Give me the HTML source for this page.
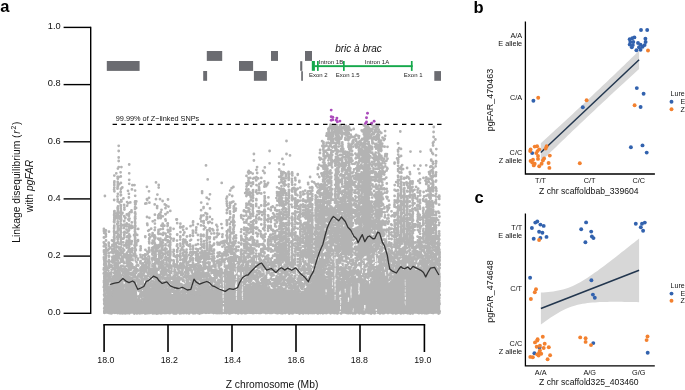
<!DOCTYPE html>
<html><head><meta charset="utf-8"><style>
html,body{margin:0;padding:0;background:#fff;}
body{width:685px;height:390px;overflow:hidden;}
svg{display:block;will-change:transform;}
text{font-family:"Liberation Sans",sans-serif;}
</style></head><body>
<svg width="685" height="390" viewBox="0 0 685 390" font-family="Liberation Sans, sans-serif">
<path d="M103.5 313.8 L103.8 288.5 L104.8 290.1 L105.8 293.7 L106.8 296.0 L107.8 295.8 L108.8 295.4 L109.8 295.2 L110.8 294.8 L111.8 294.5 L112.8 288.0 L113.8 273.2 L114.8 271.2 L115.8 270.0 L116.8 270.1 L117.8 270.1 L118.8 270.3 L119.8 270.3 L120.8 271.7 L121.8 274.9 L122.8 278.0 L123.8 284.0 L124.8 289.1 L125.8 285.1 L126.8 281.1 L127.8 278.3 L128.8 278.3 L129.8 279.9 L130.8 279.9 L131.8 279.9 L132.8 278.2 L133.8 278.2 L134.8 278.2 L135.8 278.2 L136.8 290.1 L137.8 300.4 L138.8 300.4 L139.8 300.5 L140.8 300.5 L141.8 300.5 L142.8 300.5 L143.8 296.5 L144.8 282.7 L145.8 280.1 L146.8 280.1 L147.8 280.1 L148.8 280.1 L149.8 286.1 L150.8 287.5 L151.8 287.5 L152.8 283.4 L153.8 283.4 L154.8 278.1 L155.8 273.4 L156.8 273.8 L157.8 273.8 L158.8 273.8 L159.8 273.8 L160.8 273.8 L161.8 281.1 L162.8 288.1 L163.8 288.1 L164.8 288.6 L165.8 288.6 L166.8 288.6 L167.8 288.6 L168.8 289.5 L169.8 290.6 L170.8 291.5 L171.8 293.9 L172.8 293.9 L173.8 293.9 L174.8 290.1 L175.8 290.1 L176.8 290.0 L177.8 290.0 L178.8 290.2 L179.8 291.8 L180.8 293.2 L181.8 293.3 L182.8 293.3 L183.8 293.3 L184.8 294.8 L185.8 293.5 L186.8 293.5 L187.8 293.5 L188.8 293.5 L189.8 293.1 L190.8 293.1 L191.8 293.3 L192.8 293.3 L193.8 293.9 L194.8 293.9 L195.8 293.6 L196.8 293.6 L197.8 293.6 L198.8 294.5 L199.8 280.3 L200.8 279.1 L201.8 279.1 L202.8 279.1 L203.8 278.2 L204.8 278.2 L205.8 278.2 L206.8 278.3 L207.8 280.1 L208.8 280.1 L209.8 285.5 L210.8 288.7 L211.8 288.7 L212.8 288.7 L213.8 289.4 L214.8 289.4 L215.8 289.5 L216.8 289.5 L217.8 289.1 L218.8 290.0 L219.8 290.0 L220.8 290.0 L221.8 290.0 L222.8 290.6 L223.8 292.5 L224.8 292.5 L225.8 281.8 L226.8 270.4 L227.8 270.4 L228.8 270.4 L229.8 270.6 L230.8 270.6 L231.8 271.0 L232.8 271.4 L233.8 270.2 L234.8 280.8 L235.8 291.2 L236.8 291.2 L237.8 291.2 L238.8 291.2 L239.8 290.2 L240.8 290.1 L241.8 290.1 L242.8 289.3 L243.8 288.3 L244.8 286.1 L245.8 283.9 L246.8 283.4 L247.8 283.4 L248.8 283.4 L249.8 283.4 L250.8 284.2 L251.8 285.4 L252.8 283.1 L253.8 283.1 L254.8 283.4 L255.8 283.4 L256.8 283.4 L257.8 284.5 L258.8 284.5 L259.8 284.5 L260.8 284.5 L261.8 284.5 L262.8 283.7 L263.8 283.7 L264.8 284.3 L265.8 283.2 L266.8 284.0 L267.8 286.6 L268.8 288.1 L269.8 288.3 L270.8 288.3 L271.8 288.9 L272.8 288.5 L273.8 288.5 L274.8 289.9 L275.8 289.9 L276.8 290.0 L277.8 290.1 L278.8 290.2 L279.8 288.5 L280.8 288.6 L281.8 288.6 L282.8 288.7 L283.8 289.1 L284.8 288.9 L285.8 289.2 L286.8 289.3 L287.8 289.4 L288.8 289.7 L289.8 289.4 L290.8 289.5 L291.8 289.5 L292.8 289.6 L293.8 289.8 L294.8 289.9 L295.8 290.0 L296.8 290.2 L297.8 290.3 L298.8 290.8 L299.8 292.4 L300.8 293.0 L301.8 293.1 L302.8 293.1 L303.8 292.7 L304.8 289.4 L305.8 288.0 L306.8 286.4 L307.8 285.5 L308.8 284.6 L309.8 283.7 L310.8 282.8 L311.8 282.1 L312.8 281.2 L313.8 280.3 L314.8 279.4 L315.8 279.6 L316.8 275.4 L317.8 273.7 L318.8 273.3 L319.8 273.3 L320.8 273.3 L321.8 273.6 L322.8 274.8 L323.8 276.1 L324.8 277.3 L325.8 278.2 L326.8 278.2 L327.8 278.2 L328.8 278.4 L329.8 278.5 L330.8 278.7 L331.8 279.0 L332.8 279.3 L333.8 279.6 L334.8 280.0 L335.8 280.2 L336.8 280.5 L337.8 280.7 L338.8 280.9 L339.8 281.1 L340.8 281.4 L341.8 281.6 L342.8 282.2 L343.8 282.4 L344.8 282.4 L345.8 282.7 L346.8 283.5 L347.8 283.0 L348.8 283.0 L349.8 283.0 L350.8 283.0 L351.8 283.4 L352.8 283.4 L353.8 283.4 L354.8 283.1 L355.8 283.2 L356.8 283.2 L357.8 283.2 L358.8 283.4 L359.8 283.4 L360.8 283.2 L361.8 283.2 L362.8 283.2 L363.8 283.3 L364.8 283.2 L365.8 282.5 L366.8 282.1 L367.8 282.0 L368.8 281.7 L369.8 281.3 L370.8 281.0 L371.8 280.6 L372.8 280.2 L373.8 279.8 L374.8 279.4 L375.8 279.0 L376.8 278.8 L377.8 277.8 L378.8 275.3 L379.8 273.3 L380.8 272.7 L381.8 271.1 L382.8 270.3 L383.8 270.2 L384.8 269.3 L385.8 258.3 L386.8 223.7 L387.8 261.7 L388.8 283.0 L389.8 281.4 L390.8 280.5 L391.8 279.5 L392.8 278.5 L393.8 273.0 L394.8 265.4 L395.8 264.1 L396.8 264.1 L397.8 264.1 L398.8 263.0 L399.8 263.0 L400.8 266.0 L401.8 268.5 L402.8 269.2 L403.8 269.7 L404.8 270.2 L405.8 270.1 L406.8 270.1 L407.8 270.2 L408.8 270.2 L409.8 270.2 L410.8 270.2 L411.8 270.2 L412.8 270.4 L413.8 270.4 L414.8 270.4 L415.8 270.4 L416.8 270.4 L417.8 270.0 L418.8 270.0 L419.8 270.4 L420.8 270.4 L421.8 270.4 L422.8 271.1 L423.8 271.1 L424.8 271.1 L425.8 270.0 L426.8 269.5 L427.8 269.0 L428.8 268.5 L429.8 267.2 L430.8 264.1 L431.8 263.5 L432.8 263.5 L433.8 263.5 L434.8 263.5 L435.8 264.7 L436.8 266.3 L437.8 267.7 L438.8 267.7 L440.2 267.7 L440.2 313.8 Z" fill="#b3b3b3"/>
<path d="M104.3 260.6h0M104.4 262.0h0M104.3 264.0h0M104.0 268.0h0M103.8 269.5h0M104.5 273.0h0M103.8 273.4h0M104.6 276.8h0M104.8 278.3h0M104.0 280.8h0M104.8 281.5h0M104.0 282.4h0M104.2 285.2h0M103.9 287.1h0M104.7 288.9h0M104.9 262.7h0M105.2 267.3h0M105.6 271.9h0M105.0 275.9h0M105.7 277.2h0M105.2 278.6h0M105.6 280.3h0M105.3 282.5h0M105.1 284.8h0M105.8 286.2h0M105.7 288.1h0M105.6 289.6h0M105.4 290.3h0M106.2 265.7h0M106.0 267.9h0M106.4 269.9h0M106.6 270.3h0M106.2 274.7h0M106.4 279.6h0M106.6 280.9h0M106.3 282.3h0M106.2 283.2h0M106.4 286.2h0M106.3 290.5h0M106.7 293.1h0M107.7 267.7h0M106.9 269.1h0M106.8 273.1h0M107.7 279.5h0M106.9 283.2h0M107.4 284.4h0M107.0 285.1h0M107.1 288.8h0M107.7 290.2h0M107.6 292.2h0M106.9 295.7h0M108.4 270.6h0M108.7 275.2h0M108.0 276.4h0M108.6 278.1h0M107.9 281.4h0M108.1 283.7h0M108.1 284.5h0M108.1 287.2h0M108.2 290.7h0M108.5 292.8h0M108.7 293.4h0M107.8 295.5h0M109.8 267.0h0M109.4 273.0h0M109.2 274.0h0M109.4 281.3h0M109.5 288.8h0M109.4 295.0h0M110.3 272.8h0M110.2 276.9h0M109.8 279.4h0M110.0 280.0h0M110.7 285.5h0M110.6 286.6h0M110.6 288.3h0M109.8 289.6h0M109.9 290.8h0M110.6 292.0h0M110.7 293.4h0M110.7 294.3h0M111.2 266.7h0M111.6 269.7h0M111.3 272.3h0M111.1 274.6h0M111.5 279.2h0M111.1 280.3h0M111.7 281.9h0M111.5 291.8h0M111.0 293.4h0M112.6 269.4h0M111.9 279.0h0M112.4 282.0h0M112.2 284.9h0M112.5 285.6h0M111.8 288.3h0M112.4 289.8h0M112.6 291.8h0M112.7 294.8h0M112.8 260.7h0M112.9 261.5h0M113.4 267.9h0M113.8 268.7h0M113.8 276.4h0M112.8 276.7h0M113.7 278.4h0M113.6 280.2h0M112.9 283.2h0M113.4 286.2h0M113.1 286.7h0M113.3 287.6h0M114.0 245.3h0M113.9 249.4h0M114.6 252.0h0M114.7 256.2h0M114.0 258.5h0M114.0 259.1h0M114.3 261.1h0M114.5 263.5h0M114.5 265.1h0M114.7 267.6h0M114.8 271.9h0M113.9 272.9h0M115.8 243.4h0M115.1 244.0h0M115.7 256.7h0M115.3 267.1h0M115.2 269.2h0M115.1 270.5h0M115.8 244.5h0M116.7 246.4h0M116.4 247.5h0M116.2 250.3h0M116.1 251.4h0M116.0 253.9h0M116.8 254.8h0M116.3 256.9h0M115.9 259.4h0M116.0 259.7h0M116.0 260.6h0M116.0 263.2h0M116.1 264.4h0M116.2 265.4h0M116.2 267.3h0M116.8 267.8h0M117.4 242.9h0M117.5 247.2h0M117.1 250.9h0M116.9 251.8h0M117.5 253.0h0M117.1 254.0h0M117.0 254.6h0M117.8 256.3h0M117.5 257.5h0M117.3 259.0h0M117.3 259.6h0M117.0 265.7h0M117.6 267.4h0M117.0 268.2h0M118.5 246.9h0M118.2 251.3h0M118.4 253.7h0M118.7 257.2h0M118.0 258.0h0M117.8 260.7h0M118.4 262.9h0M117.9 265.4h0M118.1 269.7h0M119.2 243.8h0M119.3 248.8h0M119.4 253.5h0M118.9 253.9h0M119.6 254.8h0M119.5 263.0h0M119.6 267.7h0M119.3 269.7h0M118.8 270.2h0M120.8 250.8h0M120.4 254.1h0M120.0 254.9h0M120.5 259.1h0M120.8 261.8h0M120.4 268.5h0M120.5 269.2h0M121.5 244.7h0M121.0 247.3h0M120.9 249.9h0M121.5 251.9h0M121.5 253.6h0M121.1 258.7h0M121.8 259.4h0M121.1 260.4h0M121.1 266.0h0M121.0 268.2h0M121.3 270.7h0M122.0 251.3h0M121.9 256.3h0M122.3 256.9h0M122.3 257.5h0M122.0 260.8h0M121.9 261.6h0M122.7 265.9h0M122.6 269.5h0M121.8 270.8h0M122.7 272.5h0M122.4 275.2h0M123.2 251.4h0M122.9 252.8h0M123.5 257.6h0M123.1 260.5h0M123.7 262.2h0M123.6 268.7h0M123.0 271.5h0M123.2 273.6h0M123.7 278.4h0M124.0 256.6h0M124.1 263.2h0M124.2 271.3h0M124.0 272.4h0M124.1 276.6h0M124.3 278.4h0M124.4 280.8h0M125.0 266.6h0M125.2 270.8h0M124.8 273.8h0M125.7 275.4h0M124.9 276.8h0M124.9 285.2h0M125.1 286.6h0M125.8 257.4h0M126.8 258.3h0M126.6 258.8h0M126.6 261.5h0M126.7 263.2h0M125.9 269.2h0M126.2 269.6h0M126.6 272.4h0M126.5 273.8h0M126.8 276.2h0M125.9 277.3h0M126.2 279.9h0M126.4 282.6h0M125.9 283.7h0M127.1 252.6h0M127.1 255.6h0M126.9 260.7h0M127.2 261.8h0M127.3 263.6h0M127.6 264.8h0M127.1 266.0h0M127.7 270.0h0M127.6 271.8h0M126.8 275.8h0M127.5 278.2h0M126.9 279.7h0M128.6 250.7h0M128.0 255.3h0M128.0 256.8h0M128.0 259.5h0M128.7 264.0h0M128.6 271.0h0M128.8 274.1h0M128.1 275.4h0M128.2 275.9h0M128.4 278.0h0M129.1 251.6h0M128.8 256.3h0M128.9 257.8h0M129.5 258.8h0M129.1 260.5h0M128.9 262.7h0M129.1 264.3h0M129.2 265.2h0M128.9 265.8h0M128.9 267.4h0M129.6 269.5h0M129.3 269.9h0M129.0 273.4h0M129.5 274.0h0M129.4 276.9h0M130.3 252.1h0M130.0 254.3h0M130.6 254.7h0M130.1 255.8h0M130.7 257.7h0M130.5 258.7h0M130.2 260.2h0M130.6 263.0h0M130.6 266.2h0M130.2 266.7h0M130.2 267.5h0M130.7 268.8h0M130.7 273.2h0M130.5 277.8h0M130.3 279.7h0M131.7 251.9h0M130.8 256.9h0M131.4 264.2h0M131.1 266.8h0M130.8 269.7h0M131.1 272.9h0M131.4 274.3h0M131.4 275.1h0M131.6 279.3h0M131.7 279.8h0M132.2 259.8h0M132.1 264.2h0M132.5 264.4h0M131.9 266.2h0M132.0 266.4h0M132.5 268.1h0M132.7 272.8h0M132.5 274.2h0M131.9 275.2h0M131.9 278.5h0M132.5 280.0h0M133.6 253.8h0M132.9 255.6h0M133.5 258.3h0M133.3 259.4h0M133.5 260.0h0M133.8 271.2h0M133.5 271.8h0M133.8 274.2h0M133.4 276.1h0M133.6 276.7h0M134.8 256.0h0M133.8 258.3h0M134.3 258.8h0M133.8 267.1h0M134.4 268.7h0M134.0 273.9h0M134.7 276.0h0M135.0 250.7h0M135.0 251.5h0M135.2 253.9h0M135.3 255.2h0M135.7 256.4h0M134.9 257.5h0M135.0 257.9h0M135.1 260.3h0M135.0 270.4h0M135.2 271.3h0M134.8 275.1h0M135.1 276.8h0M135.8 250.1h0M136.3 255.8h0M136.3 256.9h0M136.6 262.3h0M136.8 265.4h0M136.5 265.8h0M135.8 267.6h0M135.8 268.7h0M136.3 269.1h0M136.0 270.4h0M136.7 271.5h0M136.2 272.6h0M136.2 272.8h0M136.0 276.9h0M137.6 264.8h0M137.5 269.7h0M137.0 278.5h0M137.4 279.1h0M136.9 280.3h0M137.4 281.8h0M137.8 285.5h0M137.2 289.5h0M138.1 275.4h0M138.0 276.7h0M138.2 280.9h0M138.2 282.6h0M137.9 283.9h0M137.8 285.2h0M137.9 288.5h0M138.6 290.8h0M138.3 296.4h0M138.7 298.3h0M138.3 299.6h0M138.3 300.4h0M139.1 273.9h0M139.8 276.5h0M138.9 280.0h0M139.6 283.8h0M139.4 284.9h0M139.4 287.5h0M139.3 289.2h0M139.1 290.7h0M139.1 291.1h0M139.2 296.4h0M139.3 300.0h0M140.3 276.2h0M140.7 277.6h0M140.4 282.0h0M139.9 284.3h0M140.3 287.5h0M140.7 290.5h0M140.4 291.5h0M140.2 294.3h0M140.4 295.1h0M141.2 272.1h0M141.7 273.8h0M141.0 275.2h0M141.2 276.4h0M141.7 279.1h0M141.6 280.5h0M141.8 281.1h0M140.9 287.4h0M141.8 288.7h0M140.9 293.7h0M141.5 297.5h0M141.4 300.5h0M142.6 274.9h0M142.2 275.9h0M142.2 277.9h0M142.2 279.6h0M141.9 281.9h0M142.6 282.7h0M141.9 284.4h0M142.7 287.9h0M142.7 292.2h0M142.7 293.1h0M142.7 295.2h0M143.7 273.8h0M143.4 274.1h0M142.9 275.5h0M143.5 279.7h0M142.8 281.9h0M143.4 284.6h0M143.2 286.2h0M143.1 288.9h0M143.7 289.8h0M143.1 293.5h0M143.5 294.8h0M143.3 295.5h0M142.8 299.0h0M143.9 268.2h0M144.1 272.5h0M143.9 273.4h0M144.3 279.2h0M144.5 284.9h0M144.1 286.4h0M144.0 287.9h0M144.4 289.4h0M144.5 290.5h0M144.3 292.6h0M144.0 293.7h0M144.5 297.0h0M145.6 255.0h0M145.1 256.0h0M145.3 258.2h0M145.2 258.9h0M145.7 262.7h0M145.2 266.9h0M145.0 267.7h0M145.1 269.9h0M145.0 270.5h0M145.3 271.4h0M144.9 275.9h0M145.3 276.7h0M145.1 277.3h0M145.3 278.7h0M146.6 258.7h0M145.9 264.7h0M145.9 267.4h0M146.3 268.7h0M146.0 269.8h0M146.0 270.7h0M146.2 276.3h0M146.5 278.0h0M146.4 279.8h0M147.7 253.7h0M147.7 260.6h0M147.7 261.7h0M147.0 266.4h0M147.8 267.8h0M147.5 272.8h0M147.6 278.9h0M148.4 256.4h0M148.4 259.5h0M148.2 261.1h0M148.8 262.0h0M148.2 263.6h0M147.9 266.7h0M148.6 268.4h0M148.7 271.2h0M148.0 273.0h0M148.1 274.7h0M148.0 275.9h0M149.6 251.8h0M149.2 256.7h0M149.4 259.2h0M149.5 260.3h0M149.3 265.4h0M149.3 268.5h0M149.2 269.8h0M149.9 258.5h0M150.0 263.3h0M150.6 266.1h0M150.4 268.2h0M150.8 270.1h0M150.6 272.4h0M150.2 273.4h0M150.0 274.3h0M150.2 277.2h0M150.6 281.9h0M150.1 282.8h0M150.3 284.5h0M150.0 285.7h0M151.6 261.3h0M151.4 263.2h0M151.7 265.9h0M151.5 269.0h0M151.8 273.0h0M151.6 275.0h0M151.6 280.7h0M151.7 286.0h0M151.8 260.1h0M152.1 265.6h0M152.0 273.3h0M152.8 283.7h0M152.0 286.5h0M152.6 287.5h0M153.2 257.8h0M153.5 266.8h0M153.1 269.1h0M153.2 270.8h0M153.6 274.3h0M153.1 275.9h0M153.3 281.4h0M153.6 283.2h0M154.2 255.6h0M154.6 257.2h0M154.1 258.7h0M154.4 259.8h0M153.8 264.1h0M154.1 266.8h0M154.1 267.3h0M154.1 268.0h0M154.0 271.9h0M154.7 272.1h0M154.1 273.3h0M154.0 274.8h0M154.6 275.4h0M153.9 276.9h0M154.5 277.0h0M154.1 278.5h0M154.5 282.7h0M154.3 283.4h0M155.7 249.9h0M155.1 251.9h0M154.9 253.0h0M155.3 255.4h0M155.4 256.0h0M155.2 259.6h0M155.7 260.9h0M155.8 261.6h0M155.3 262.9h0M155.0 263.9h0M155.2 264.7h0M155.2 267.1h0M154.9 267.9h0M155.6 269.7h0M155.8 276.0h0M155.4 277.9h0M156.2 245.4h0M156.2 246.0h0M156.8 247.5h0M156.6 248.7h0M155.8 250.3h0M156.2 254.4h0M155.9 256.0h0M156.5 257.7h0M155.8 259.5h0M156.4 261.1h0M156.1 262.4h0M156.3 263.1h0M156.5 269.6h0M156.8 270.2h0M156.6 271.2h0M156.6 273.4h0M157.3 246.1h0M157.1 248.7h0M157.7 251.3h0M157.3 251.5h0M157.0 255.9h0M157.4 257.3h0M157.3 258.7h0M157.6 263.1h0M156.9 268.8h0M158.0 248.3h0M157.8 253.1h0M158.4 253.4h0M158.0 255.0h0M158.8 259.8h0M158.6 261.8h0M158.2 262.4h0M158.5 264.5h0M158.5 269.7h0M159.3 247.1h0M159.8 250.6h0M158.9 253.6h0M159.7 254.9h0M159.1 255.9h0M159.1 257.3h0M159.4 258.5h0M159.3 261.7h0M159.0 267.1h0M159.2 268.6h0M160.3 251.6h0M160.0 253.6h0M160.4 258.4h0M160.3 261.8h0M160.7 264.0h0M160.6 265.2h0M160.5 266.2h0M160.6 267.6h0M161.8 248.7h0M161.5 251.2h0M161.8 253.1h0M161.4 256.1h0M161.3 258.6h0M161.1 265.5h0M161.6 267.3h0M161.2 268.3h0M160.9 271.6h0M161.1 273.8h0M162.8 253.3h0M162.4 257.6h0M161.9 261.4h0M162.3 263.3h0M162.2 266.6h0M162.1 267.8h0M162.5 270.0h0M162.5 270.9h0M162.6 272.4h0M162.1 274.3h0M162.8 275.3h0M162.1 277.0h0M162.4 278.7h0M163.8 260.2h0M162.9 262.3h0M163.3 265.4h0M163.6 267.6h0M163.2 271.3h0M163.3 273.4h0M163.7 274.6h0M163.0 274.8h0M163.2 276.3h0M163.2 281.6h0M163.6 282.7h0M163.3 284.1h0M162.9 285.3h0M162.9 286.1h0M163.8 286.7h0M162.9 288.2h0M164.6 263.1h0M164.3 268.7h0M164.8 270.0h0M164.2 270.7h0M164.0 273.2h0M164.5 275.2h0M164.2 278.1h0M164.8 279.0h0M164.0 285.6h0M165.5 267.3h0M165.5 268.9h0M165.8 269.8h0M165.6 271.0h0M165.7 271.6h0M165.2 272.6h0M164.9 274.7h0M164.9 279.1h0M165.3 282.1h0M165.8 284.0h0M165.5 284.6h0M166.3 260.8h0M166.5 263.1h0M165.8 264.4h0M166.8 266.2h0M165.9 269.4h0M166.1 271.2h0M166.4 273.3h0M166.5 277.7h0M166.6 280.3h0M166.1 281.8h0M166.2 283.9h0M166.8 284.8h0M166.1 286.4h0M165.8 288.6h0M167.3 264.6h0M166.8 270.2h0M167.4 275.3h0M167.5 277.5h0M167.0 284.5h0M167.6 285.3h0M168.4 260.5h0M168.5 266.1h0M168.7 268.0h0M168.4 271.1h0M168.4 275.3h0M168.7 278.0h0M168.5 278.6h0M168.5 280.0h0M168.0 280.9h0M167.9 281.7h0M168.0 282.8h0M168.7 284.8h0M168.6 285.2h0M168.1 288.6h0M169.6 262.9h0M169.0 265.6h0M169.2 268.2h0M168.8 270.4h0M169.3 272.2h0M169.6 280.5h0M168.9 282.0h0M169.5 285.6h0M169.5 286.5h0M168.9 287.1h0M170.4 265.2h0M170.7 267.8h0M170.5 271.7h0M170.1 273.4h0M170.0 275.5h0M169.8 278.9h0M169.9 289.3h0M170.3 291.0h0M171.3 266.5h0M171.0 272.7h0M171.2 277.3h0M171.4 282.5h0M171.0 283.1h0M172.3 266.3h0M172.5 268.8h0M171.9 269.8h0M172.7 273.1h0M172.3 278.1h0M172.0 278.8h0M172.6 283.0h0M172.8 283.8h0M172.6 285.0h0M172.3 286.3h0M171.9 287.4h0M172.6 289.0h0M172.3 290.4h0M172.2 291.8h0M173.4 266.8h0M173.1 271.3h0M173.6 272.4h0M173.3 273.9h0M173.6 276.3h0M173.2 277.3h0M173.2 278.0h0M173.7 278.9h0M173.8 279.7h0M173.1 281.8h0M173.7 287.9h0M173.7 288.8h0M173.7 290.4h0M174.2 268.9h0M174.4 270.9h0M174.2 271.7h0M174.3 275.3h0M174.5 283.2h0M174.3 284.1h0M174.0 285.0h0M174.6 285.6h0M174.0 288.2h0M173.9 288.7h0M174.2 291.6h0M174.6 292.6h0M174.4 293.5h0M174.9 264.4h0M175.2 266.5h0M175.0 267.0h0M174.8 270.1h0M175.4 271.7h0M175.3 274.5h0M175.4 274.9h0M174.8 277.4h0M175.2 279.2h0M175.6 279.9h0M175.6 281.0h0M175.0 282.3h0M175.0 286.2h0M175.1 286.6h0M176.1 266.9h0M176.6 273.0h0M176.6 274.3h0M176.6 275.2h0M176.4 278.2h0M176.7 279.1h0M176.2 281.5h0M176.4 281.7h0M176.5 284.7h0M176.1 286.1h0M176.7 290.0h0M177.3 262.0h0M176.8 264.5h0M177.0 266.3h0M177.5 266.8h0M177.7 268.8h0M177.7 273.8h0M177.7 276.9h0M177.2 278.9h0M176.9 279.9h0M177.3 280.6h0M177.1 281.8h0M177.3 283.3h0M177.3 287.2h0M177.5 289.6h0M178.7 265.8h0M177.9 269.3h0M178.8 271.3h0M178.0 273.5h0M177.9 276.5h0M178.6 277.1h0M178.4 278.2h0M178.3 279.2h0M178.1 280.7h0M178.0 282.8h0M177.9 283.9h0M178.2 286.3h0M177.8 287.7h0M178.0 288.7h0M179.0 266.6h0M178.8 267.1h0M179.3 267.8h0M179.0 270.6h0M179.6 271.6h0M179.0 277.1h0M179.2 280.5h0M179.1 283.0h0M179.5 289.2h0M179.1 290.2h0M180.3 266.3h0M180.4 266.8h0M179.9 267.9h0M180.4 272.9h0M180.2 284.9h0M180.5 285.8h0M180.5 292.3h0M181.8 264.8h0M181.4 266.3h0M181.3 268.4h0M181.0 274.9h0M181.1 278.5h0M181.0 279.1h0M181.1 284.2h0M181.7 284.9h0M181.4 285.8h0M181.7 291.2h0M180.9 292.1h0M182.2 265.5h0M182.0 267.2h0M182.3 268.6h0M182.4 269.1h0M182.5 270.6h0M181.8 271.7h0M181.8 275.2h0M182.6 279.7h0M182.3 284.8h0M182.3 287.0h0M182.5 290.3h0M183.3 268.4h0M183.0 273.5h0M182.8 274.2h0M183.6 277.0h0M183.4 279.8h0M183.8 280.1h0M183.1 280.9h0M183.2 286.4h0M183.4 288.4h0M183.3 289.7h0M182.8 292.7h0M183.3 293.0h0M184.0 265.6h0M184.4 266.8h0M184.7 276.9h0M184.8 280.8h0M184.5 281.3h0M184.7 285.4h0M184.8 287.4h0M184.8 288.3h0M184.7 288.9h0M183.8 291.0h0M185.1 271.8h0M185.7 272.9h0M185.4 275.2h0M185.3 275.8h0M185.2 282.3h0M185.5 282.5h0M185.8 285.1h0M185.6 285.9h0M184.9 289.3h0M185.4 289.6h0M185.8 291.5h0M184.8 293.2h0M184.8 293.7h0M186.0 268.1h0M186.2 269.3h0M186.1 271.5h0M186.3 272.9h0M185.9 277.5h0M185.9 279.7h0M186.4 282.5h0M186.6 285.3h0M186.6 287.4h0M186.3 288.1h0M185.9 289.3h0M185.9 291.9h0M186.8 268.6h0M186.9 270.1h0M187.0 275.8h0M187.4 276.9h0M186.8 283.0h0M187.8 288.2h0M187.1 289.9h0M187.3 291.8h0M188.1 268.1h0M188.2 269.7h0M188.2 272.1h0M188.4 273.5h0M188.1 274.8h0M188.1 277.7h0M188.5 278.9h0M187.8 280.7h0M188.2 281.6h0M188.5 283.9h0M188.5 285.8h0M188.5 290.2h0M188.1 291.9h0M188.1 292.9h0M189.3 265.2h0M189.2 268.2h0M189.4 269.9h0M189.0 275.9h0M189.6 278.1h0M188.9 279.3h0M189.1 286.0h0M189.5 287.7h0M189.0 290.2h0M189.3 293.4h0M190.8 266.6h0M190.5 268.6h0M190.7 270.1h0M190.7 275.9h0M190.4 277.9h0M190.5 283.2h0M190.3 283.7h0M190.4 286.1h0M190.7 287.2h0M190.0 288.9h0M190.0 290.1h0M190.6 290.7h0M190.3 292.3h0M190.0 292.7h0M191.3 265.2h0M191.1 267.3h0M191.4 270.1h0M191.6 271.4h0M191.5 276.0h0M190.9 277.2h0M191.0 280.2h0M191.7 281.5h0M191.4 283.4h0M191.4 284.2h0M190.9 292.2h0M191.8 292.8h0M192.3 266.7h0M192.0 271.0h0M191.9 272.5h0M192.6 276.2h0M192.1 278.3h0M192.1 279.5h0M192.3 283.4h0M192.1 290.3h0M192.2 290.9h0M192.7 292.7h0M192.4 293.3h0M193.4 266.0h0M193.7 268.1h0M193.0 273.9h0M193.1 275.6h0M193.3 276.3h0M193.5 277.0h0M193.7 279.1h0M193.0 280.0h0M193.1 281.7h0M193.2 282.5h0M192.9 283.6h0M193.0 284.0h0M193.5 287.2h0M193.1 288.1h0M193.6 288.9h0M193.5 289.8h0M194.4 266.8h0M194.1 269.3h0M194.2 273.9h0M194.5 275.4h0M194.5 278.0h0M194.3 278.8h0M194.2 279.4h0M194.5 286.0h0M194.2 286.5h0M194.7 288.4h0M194.3 291.1h0M194.5 293.8h0M195.3 267.7h0M195.5 270.9h0M195.3 272.2h0M195.2 276.6h0M195.5 279.0h0M195.4 279.7h0M195.4 281.0h0M195.5 281.4h0M195.7 283.3h0M195.0 291.9h0M195.6 293.3h0M196.3 265.6h0M196.7 268.6h0M196.3 269.3h0M196.1 274.0h0M196.4 275.3h0M196.5 276.2h0M196.5 278.0h0M196.5 278.2h0M195.8 279.1h0M196.0 282.1h0M196.0 284.9h0M196.4 285.2h0M196.0 288.1h0M196.3 288.7h0M196.5 291.8h0M196.6 293.1h0M197.2 272.1h0M197.4 274.1h0M197.5 278.4h0M197.6 279.4h0M197.2 283.1h0M197.1 289.2h0M198.3 266.1h0M198.6 268.0h0M198.0 268.4h0M198.6 270.2h0M198.4 272.2h0M198.0 275.2h0M198.7 278.3h0M197.8 282.3h0M197.8 285.7h0M198.7 287.0h0M198.5 291.1h0M198.8 293.9h0M199.0 266.1h0M198.9 267.3h0M199.1 268.8h0M199.3 269.8h0M199.5 270.5h0M199.7 271.8h0M199.8 272.6h0M198.8 274.7h0M198.8 276.6h0M199.1 277.8h0M199.5 279.7h0M199.1 284.3h0M199.5 287.0h0M199.4 288.0h0M199.6 289.7h0M199.0 290.7h0M199.2 292.5h0M199.6 294.6h0M200.2 252.7h0M199.9 257.1h0M200.1 259.4h0M200.1 261.9h0M200.0 265.3h0M200.1 265.9h0M200.3 267.2h0M200.7 267.9h0M199.9 270.1h0M200.2 273.7h0M200.6 276.8h0M200.7 277.2h0M200.0 279.1h0M200.6 280.8h0M201.0 255.4h0M201.5 256.0h0M200.9 258.2h0M201.0 259.0h0M201.1 266.2h0M201.8 269.4h0M201.2 269.6h0M201.6 272.3h0M200.8 275.2h0M201.3 276.3h0M201.2 277.1h0M201.0 278.2h0M201.0 278.8h0M201.9 250.7h0M202.3 252.9h0M202.5 255.5h0M202.2 256.3h0M202.6 257.6h0M202.3 257.7h0M202.1 268.5h0M202.3 270.0h0M202.7 273.0h0M203.8 253.0h0M203.6 256.0h0M203.4 256.8h0M203.8 258.5h0M202.9 262.1h0M203.6 263.2h0M203.6 264.5h0M203.3 267.9h0M203.2 271.6h0M203.5 272.6h0M203.2 274.5h0M202.8 275.3h0M203.7 277.4h0M204.7 250.8h0M204.0 252.3h0M204.3 254.3h0M204.5 256.0h0M204.6 258.4h0M204.2 260.8h0M204.6 261.7h0M204.6 264.7h0M204.2 265.7h0M204.1 266.7h0M204.5 268.5h0M203.8 269.1h0M204.2 273.4h0M204.7 274.7h0M203.8 275.1h0M204.6 276.6h0M205.6 252.5h0M205.0 253.5h0M205.1 257.6h0M205.4 259.2h0M205.6 262.4h0M205.5 263.0h0M205.1 265.2h0M205.1 266.1h0M205.3 267.6h0M204.9 268.8h0M205.0 273.8h0M205.6 274.8h0M204.9 276.0h0M206.6 253.2h0M206.7 255.0h0M205.9 256.6h0M205.9 258.0h0M206.3 259.6h0M206.1 263.0h0M206.3 266.7h0M206.4 273.2h0M206.3 273.9h0M206.2 275.8h0M206.6 277.8h0M207.2 253.9h0M207.7 256.2h0M207.5 257.0h0M207.6 268.4h0M207.0 278.7h0M208.5 252.9h0M208.2 254.4h0M208.7 259.2h0M208.3 262.4h0M208.2 263.2h0M208.5 266.9h0M208.3 267.8h0M208.2 269.8h0M208.2 272.3h0M208.6 274.0h0M208.2 275.3h0M208.5 276.0h0M208.2 280.2h0M209.4 252.0h0M209.2 253.6h0M209.3 256.3h0M209.8 258.7h0M209.4 264.8h0M209.1 266.7h0M209.0 269.4h0M209.4 270.5h0M209.0 274.6h0M209.7 275.7h0M209.7 276.8h0M209.6 278.8h0M209.8 262.7h0M210.0 266.6h0M209.9 267.1h0M210.2 268.2h0M210.4 276.8h0M210.2 277.0h0M210.2 279.2h0M210.7 280.3h0M211.0 267.5h0M211.1 269.3h0M211.6 271.2h0M211.5 273.0h0M211.0 277.9h0M211.4 278.4h0M211.4 279.6h0M210.9 281.0h0M211.6 281.8h0M211.1 282.8h0M210.9 284.2h0M211.5 284.6h0M210.8 286.8h0M212.2 266.4h0M212.4 270.1h0M212.7 279.5h0M212.4 280.6h0M212.8 281.4h0M212.2 283.0h0M211.9 286.0h0M212.5 288.1h0M212.0 288.9h0M213.7 260.5h0M213.3 261.7h0M213.6 264.5h0M213.3 272.0h0M213.5 272.7h0M213.0 278.5h0M213.4 279.8h0M213.1 287.5h0M214.2 261.8h0M214.0 263.1h0M214.6 266.8h0M214.7 270.0h0M214.6 272.7h0M214.4 274.9h0M214.7 281.1h0M213.9 285.6h0M214.6 285.9h0M215.5 265.0h0M214.9 266.8h0M215.3 270.8h0M215.8 272.8h0M215.5 274.5h0M215.2 274.9h0M215.5 276.7h0M215.0 277.2h0M215.4 278.2h0M215.0 280.5h0M215.2 282.2h0M215.4 284.6h0M214.8 285.4h0M215.0 286.8h0M215.8 287.1h0M214.8 288.7h0M216.5 261.3h0M216.3 265.4h0M216.6 267.5h0M216.4 269.7h0M216.1 270.3h0M216.8 272.4h0M216.6 274.9h0M216.4 276.3h0M216.7 277.7h0M216.1 282.4h0M216.2 283.2h0M216.1 285.3h0M216.0 286.9h0M216.8 289.6h0M217.1 263.5h0M216.9 264.9h0M217.4 265.3h0M217.3 268.3h0M217.5 271.2h0M217.2 282.9h0M217.7 284.8h0M217.1 286.3h0M216.9 289.8h0M218.6 262.5h0M217.9 264.4h0M218.8 266.3h0M218.1 272.1h0M218.1 274.4h0M218.2 280.3h0M218.5 282.6h0M217.9 284.1h0M218.5 285.0h0M218.8 286.7h0M218.3 288.1h0M219.3 262.5h0M219.3 263.8h0M219.6 265.0h0M219.1 266.6h0M219.2 270.9h0M219.8 272.9h0M218.9 275.6h0M219.0 279.8h0M219.1 280.8h0M219.6 282.1h0M218.9 284.3h0M219.6 286.6h0M220.3 262.5h0M220.2 265.2h0M220.1 268.9h0M220.6 270.3h0M220.1 273.3h0M220.8 273.7h0M220.6 275.4h0M220.7 276.0h0M220.3 276.8h0M220.0 290.1h0M221.3 264.8h0M221.1 268.8h0M221.0 270.7h0M221.8 274.2h0M221.4 278.9h0M221.1 280.2h0M220.9 281.4h0M221.0 282.5h0M221.4 286.0h0M221.8 290.3h0M221.9 261.6h0M222.2 263.5h0M222.0 270.8h0M222.4 272.6h0M222.4 274.3h0M222.7 278.2h0M222.2 279.8h0M222.8 282.7h0M222.4 284.0h0M222.7 286.2h0M222.0 287.2h0M222.1 287.6h0M222.8 289.4h0M223.2 270.2h0M223.8 274.4h0M223.2 275.4h0M223.5 276.5h0M223.7 277.2h0M223.0 282.9h0M223.1 284.2h0M223.4 287.6h0M223.3 288.1h0M224.3 264.7h0M224.8 266.5h0M224.7 270.8h0M224.1 272.4h0M224.3 273.5h0M224.3 274.9h0M224.0 277.5h0M223.9 279.8h0M224.3 281.0h0M224.1 282.7h0M224.3 284.5h0M223.9 285.3h0M224.8 286.3h0M224.3 288.1h0M224.1 289.7h0M224.5 291.7h0M225.7 269.8h0M225.5 271.1h0M225.1 276.5h0M225.1 277.6h0M225.7 278.5h0M225.0 279.3h0M225.1 282.0h0M225.0 288.6h0M225.5 293.0h0M226.1 254.8h0M226.3 255.7h0M226.7 258.6h0M226.1 267.8h0M226.5 270.2h0M226.3 270.4h0M226.4 272.2h0M226.6 273.0h0M226.3 274.5h0M226.8 278.2h0M226.0 279.1h0M226.7 279.6h0M226.4 281.6h0M227.1 243.0h0M227.5 247.3h0M227.3 250.3h0M226.8 252.1h0M227.0 265.8h0M227.3 266.2h0M227.7 268.0h0M228.6 243.9h0M228.1 243.9h0M228.0 246.8h0M228.8 249.3h0M228.0 254.9h0M228.1 259.7h0M228.1 261.2h0M228.5 268.1h0M229.0 246.1h0M229.7 248.9h0M229.4 252.1h0M229.0 257.9h0M228.9 259.2h0M229.3 260.2h0M229.3 263.0h0M229.6 264.0h0M229.0 265.1h0M229.0 266.8h0M229.5 267.1h0M230.6 246.0h0M230.1 247.5h0M230.2 249.5h0M230.0 252.2h0M230.8 257.1h0M230.4 258.7h0M230.5 259.5h0M230.1 260.5h0M230.5 261.3h0M230.6 266.1h0M230.1 267.8h0M230.3 269.4h0M231.3 246.6h0M231.1 247.3h0M231.2 248.4h0M231.8 251.2h0M231.5 252.7h0M231.1 253.8h0M231.5 257.3h0M231.1 262.6h0M231.3 263.3h0M231.4 264.2h0M230.9 265.8h0M231.1 266.9h0M231.3 269.9h0M230.9 270.3h0M231.8 243.1h0M232.6 246.0h0M232.3 253.4h0M232.1 257.6h0M232.1 260.7h0M232.6 263.9h0M232.3 265.5h0M232.8 266.7h0M232.8 267.8h0M232.7 268.9h0M231.9 270.7h0M233.0 243.2h0M232.9 244.6h0M233.3 246.6h0M232.8 249.5h0M232.9 252.4h0M233.1 254.1h0M233.2 257.1h0M233.6 258.6h0M233.1 259.8h0M233.5 260.8h0M233.6 261.2h0M233.0 263.6h0M233.3 264.7h0M233.0 265.5h0M233.3 266.1h0M233.6 269.8h0M233.6 270.2h0M234.2 244.8h0M234.3 249.3h0M233.8 252.6h0M234.6 253.8h0M234.3 255.5h0M234.0 260.2h0M234.0 261.3h0M233.8 263.6h0M235.7 253.8h0M235.3 255.8h0M235.1 257.9h0M235.7 260.7h0M235.1 264.9h0M235.4 267.2h0M235.4 267.9h0M235.7 268.5h0M235.7 270.6h0M235.2 275.9h0M235.2 278.0h0M235.3 278.7h0M234.9 281.0h0M236.4 270.5h0M236.2 275.3h0M235.9 276.9h0M236.3 279.0h0M236.3 282.6h0M236.4 290.0h0M237.5 263.2h0M237.2 267.9h0M237.5 270.6h0M236.9 272.5h0M237.4 275.6h0M237.2 276.0h0M237.8 277.1h0M237.7 279.2h0M237.0 281.2h0M237.0 282.8h0M236.9 283.9h0M237.1 288.7h0M237.4 291.0h0M238.1 266.4h0M238.6 267.1h0M238.6 269.6h0M238.4 270.5h0M238.3 276.3h0M238.4 278.6h0M238.1 280.6h0M238.1 282.3h0M238.3 283.2h0M238.0 285.2h0M238.4 286.1h0M238.3 288.0h0M237.9 289.3h0M238.9 264.3h0M239.5 268.6h0M239.5 269.0h0M239.7 271.0h0M239.8 279.7h0M238.9 284.5h0M239.1 285.6h0M239.4 287.3h0M239.3 288.3h0M239.7 289.1h0M239.2 291.7h0M240.1 262.2h0M240.1 267.0h0M240.1 268.2h0M240.6 270.4h0M240.7 276.2h0M240.4 279.1h0M240.2 280.6h0M239.9 281.4h0M240.3 284.1h0M239.9 289.0h0M239.8 290.4h0M241.5 265.9h0M241.3 268.0h0M241.3 272.2h0M241.2 272.7h0M241.1 274.3h0M241.0 277.6h0M241.0 278.2h0M241.3 286.4h0M241.6 288.6h0M241.7 289.8h0M241.9 265.0h0M242.5 269.8h0M241.9 271.5h0M242.3 276.6h0M242.5 276.7h0M241.9 278.7h0M242.2 281.9h0M242.0 283.0h0M242.6 285.4h0M242.6 290.5h0M243.1 261.1h0M243.4 262.8h0M242.9 265.1h0M243.1 267.7h0M243.0 271.5h0M243.5 276.1h0M243.1 277.2h0M243.4 279.2h0M243.7 286.8h0M243.0 288.2h0M243.1 288.9h0M244.7 261.5h0M244.1 262.1h0M244.4 268.6h0M244.7 269.3h0M244.8 270.3h0M244.1 273.3h0M244.5 274.2h0M244.7 279.3h0M243.9 281.5h0M244.1 283.6h0M245.2 258.0h0M245.8 259.4h0M245.4 260.1h0M245.8 262.4h0M245.7 266.1h0M245.2 267.4h0M245.2 269.6h0M245.2 270.6h0M245.6 274.0h0M245.8 274.7h0M245.5 278.9h0M245.8 281.5h0M245.7 282.1h0M244.9 282.8h0M245.0 284.0h0M246.0 262.4h0M246.5 262.7h0M246.7 264.1h0M246.0 265.1h0M245.8 266.7h0M246.6 268.9h0M246.3 269.5h0M246.0 273.0h0M245.9 273.9h0M246.5 274.9h0M246.7 275.9h0M246.0 278.7h0M246.1 281.4h0M247.2 256.5h0M247.4 261.8h0M247.8 262.0h0M247.4 264.1h0M247.7 266.8h0M247.3 268.1h0M246.9 271.5h0M246.9 272.1h0M247.7 273.0h0M247.1 273.9h0M247.5 280.9h0M248.4 255.3h0M248.1 257.5h0M248.3 261.8h0M248.6 262.3h0M248.4 263.9h0M248.3 264.9h0M248.2 268.9h0M248.3 270.2h0M248.7 273.5h0M248.8 275.3h0M248.5 276.4h0M247.9 277.8h0M248.7 281.0h0M248.9 261.0h0M249.7 267.4h0M249.7 270.5h0M249.4 272.8h0M249.0 273.6h0M249.1 278.2h0M249.0 279.8h0M249.0 280.0h0M249.2 282.0h0M249.8 256.9h0M250.5 260.3h0M249.9 262.2h0M250.1 266.6h0M250.3 267.8h0M250.5 270.4h0M250.5 276.7h0M250.6 278.0h0M250.6 279.4h0M251.3 261.4h0M250.9 266.1h0M251.1 268.2h0M250.8 269.5h0M251.6 270.2h0M251.7 272.6h0M251.5 273.3h0M251.2 274.1h0M250.9 275.0h0M251.5 277.3h0M251.3 280.2h0M250.9 280.9h0M250.8 283.7h0M252.4 257.8h0M251.8 258.8h0M252.7 261.9h0M252.3 264.1h0M252.3 267.7h0M252.7 269.8h0M252.4 275.9h0M252.4 276.0h0M252.3 277.0h0M252.1 283.6h0M253.6 257.8h0M253.4 259.5h0M253.8 259.7h0M252.9 266.4h0M252.9 267.2h0M253.5 269.4h0M253.4 269.7h0M252.8 272.6h0M253.1 274.1h0M253.5 275.2h0M252.9 277.3h0M253.4 278.6h0M253.2 283.0h0M253.8 255.9h0M254.1 256.9h0M253.8 257.8h0M253.9 258.7h0M254.5 260.8h0M254.0 263.2h0M254.0 263.9h0M254.3 265.7h0M254.6 271.6h0M254.4 278.8h0M254.2 283.5h0M255.6 257.8h0M255.5 260.8h0M254.9 262.6h0M255.4 266.7h0M255.1 271.9h0M255.8 276.3h0M255.0 277.1h0M254.9 278.0h0M255.2 279.6h0M255.8 255.8h0M256.8 256.4h0M256.2 256.9h0M255.8 259.1h0M256.6 262.3h0M256.4 266.6h0M256.3 270.7h0M255.9 270.9h0M256.2 272.4h0M256.8 273.4h0M256.0 275.4h0M256.5 276.2h0M256.7 280.8h0M256.4 280.9h0M256.6 283.6h0M257.1 263.5h0M257.2 269.9h0M257.3 274.7h0M257.3 275.8h0M257.2 277.3h0M257.7 279.4h0M257.2 282.0h0M257.6 283.7h0M258.8 263.4h0M258.7 264.8h0M257.9 266.6h0M258.3 267.7h0M258.3 272.8h0M258.5 273.2h0M257.9 276.6h0M258.3 277.9h0M258.4 281.6h0M258.1 282.5h0M258.5 283.6h0M258.5 284.8h0M259.6 257.2h0M259.1 259.0h0M259.7 261.7h0M259.7 262.4h0M259.7 264.3h0M259.2 267.5h0M259.2 271.0h0M259.7 273.2h0M258.9 282.9h0M259.3 284.4h0M259.8 258.7h0M260.2 263.0h0M260.5 266.8h0M260.3 272.1h0M260.2 274.8h0M260.2 275.4h0M260.5 276.6h0M260.0 283.6h0M261.2 259.9h0M261.1 264.1h0M261.5 265.4h0M261.1 266.3h0M261.3 275.3h0M261.2 276.1h0M261.7 279.5h0M261.4 280.1h0M260.9 283.2h0M262.5 256.3h0M262.7 261.6h0M262.7 265.7h0M262.3 266.4h0M261.8 269.0h0M262.5 270.1h0M262.4 273.9h0M262.4 275.4h0M262.4 282.0h0M262.6 282.6h0M262.6 283.7h0M262.8 284.7h0M263.4 255.7h0M263.0 261.5h0M263.4 264.1h0M263.5 269.9h0M263.7 271.0h0M263.6 277.8h0M263.3 282.0h0M264.3 259.9h0M264.1 260.9h0M264.5 262.4h0M263.9 263.3h0M264.2 267.0h0M264.2 269.8h0M264.2 271.5h0M264.3 274.5h0M264.1 277.8h0M264.1 278.4h0M264.0 280.4h0M264.7 283.2h0M265.5 256.8h0M265.4 258.0h0M265.8 259.2h0M265.3 262.2h0M264.9 263.5h0M265.0 264.6h0M264.9 266.1h0M265.6 268.3h0M264.8 269.2h0M265.8 272.4h0M265.0 277.2h0M265.8 278.3h0M265.0 279.1h0M265.1 281.7h0M265.7 282.2h0M266.1 263.8h0M266.7 265.3h0M266.3 266.1h0M266.1 275.3h0M266.1 277.5h0M266.0 280.7h0M266.3 282.5h0M266.4 283.6h0M267.2 255.8h0M267.3 258.9h0M267.4 266.1h0M267.7 267.5h0M267.7 270.4h0M267.1 272.4h0M266.9 273.4h0M267.1 279.8h0M267.3 281.5h0M267.4 284.4h0M268.4 258.6h0M268.5 259.6h0M268.0 260.8h0M267.9 262.3h0M268.1 269.5h0M268.1 270.4h0M268.7 272.8h0M268.5 283.4h0M268.4 284.5h0M269.7 262.6h0M269.1 265.0h0M269.8 268.5h0M268.8 271.4h0M269.0 280.1h0M269.0 287.4h0M269.8 268.8h0M270.4 273.7h0M270.5 274.6h0M270.0 282.0h0M271.6 263.7h0M271.5 265.0h0M271.4 267.1h0M271.0 270.0h0M271.5 273.2h0M271.3 274.2h0M271.0 275.0h0M271.7 276.1h0M270.9 278.5h0M270.9 283.6h0M271.0 284.0h0M271.9 262.1h0M272.4 263.8h0M272.1 264.8h0M272.1 265.5h0M272.2 269.3h0M272.0 274.9h0M272.2 279.8h0M272.3 283.7h0M272.0 285.8h0M273.1 262.3h0M273.2 263.4h0M273.8 266.0h0M273.3 267.3h0M273.5 269.7h0M273.7 272.4h0M273.7 275.3h0M272.8 279.7h0M273.8 282.9h0M273.6 285.8h0M273.5 287.1h0M274.7 260.6h0M274.8 261.4h0M273.9 265.6h0M274.0 279.4h0M274.6 280.9h0M274.5 285.8h0M274.6 287.3h0M274.7 288.7h0M275.0 263.5h0M275.4 269.6h0M275.2 271.2h0M274.9 271.7h0M274.9 280.3h0M275.1 284.1h0M274.9 284.5h0M274.8 290.0h0M276.7 261.6h0M276.1 263.1h0M275.8 266.4h0M276.3 270.8h0M276.8 271.8h0M276.6 276.2h0M276.2 278.3h0M276.5 281.0h0M276.0 281.9h0M276.7 282.7h0M276.6 283.5h0M276.2 290.4h0M277.4 261.6h0M277.7 272.6h0M277.3 277.6h0M276.9 279.6h0M277.5 281.4h0M277.7 282.9h0M277.0 284.5h0M277.2 285.4h0M277.0 286.2h0M277.1 289.5h0M277.2 290.2h0M278.5 262.2h0M277.8 262.9h0M278.6 264.9h0M278.7 267.8h0M278.8 270.5h0M277.9 271.4h0M278.1 273.7h0M278.4 277.4h0M277.9 278.4h0M278.4 283.0h0M278.2 284.2h0M278.4 287.1h0M278.6 288.0h0M278.1 289.7h0M279.3 265.3h0M278.9 265.9h0M279.8 268.3h0M279.7 270.4h0M279.5 274.5h0M278.9 277.0h0M279.1 279.0h0M279.2 279.9h0M279.3 280.8h0M279.4 283.3h0M279.4 288.5h0M280.2 261.6h0M280.3 263.8h0M280.7 264.5h0M280.0 268.4h0M280.1 273.9h0M279.9 274.4h0M280.5 276.3h0M280.7 277.2h0M280.2 279.5h0M280.4 281.1h0M280.7 286.8h0M280.9 263.5h0M281.0 269.8h0M281.7 271.1h0M281.8 273.6h0M281.6 276.0h0M280.9 277.5h0M281.4 279.0h0M281.1 280.4h0M281.5 283.7h0M280.9 284.4h0M281.5 285.5h0M281.7 288.0h0M282.1 267.0h0M281.9 270.0h0M282.1 271.2h0M282.0 272.2h0M281.8 278.0h0M282.8 283.0h0M282.0 283.3h0M282.4 288.3h0M282.9 262.0h0M283.5 266.9h0M283.2 269.3h0M283.8 279.7h0M283.8 281.6h0M283.4 285.1h0M283.0 289.1h0M284.7 264.6h0M284.7 271.5h0M283.9 272.5h0M284.6 273.6h0M284.0 276.7h0M284.5 278.5h0M284.1 279.1h0M284.0 280.0h0M283.9 280.7h0M283.8 281.9h0M284.7 283.2h0M285.6 261.8h0M285.3 265.1h0M285.2 265.9h0M285.6 266.6h0M285.6 269.4h0M285.6 271.0h0M285.7 276.1h0M285.6 276.6h0M285.7 280.1h0M284.9 285.1h0M285.5 288.4h0M286.7 263.0h0M286.2 265.2h0M286.0 271.5h0M286.3 275.2h0M286.3 275.8h0M286.1 284.6h0M285.9 285.1h0M286.5 286.7h0M287.3 261.4h0M287.6 264.5h0M286.9 269.6h0M287.5 272.3h0M287.2 273.7h0M287.7 274.4h0M287.5 279.4h0M287.4 281.0h0M287.5 283.3h0M287.4 286.4h0M288.4 263.1h0M287.9 267.1h0M288.4 278.4h0M287.9 279.8h0M287.8 281.0h0M289.3 264.5h0M289.2 269.8h0M289.4 270.5h0M289.1 274.6h0M289.2 275.5h0M289.6 278.0h0M289.0 278.8h0M289.7 280.7h0M289.8 282.4h0M289.6 283.3h0M289.3 285.2h0M289.0 288.3h0M289.9 265.4h0M289.8 269.1h0M290.5 271.8h0M289.9 276.1h0M290.5 277.5h0M290.2 277.9h0M290.4 280.0h0M290.4 286.5h0M291.2 262.7h0M291.2 263.3h0M291.5 265.5h0M291.6 266.9h0M290.8 272.6h0M291.6 277.5h0M291.2 278.8h0M291.0 280.4h0M291.2 282.5h0M291.2 285.2h0M291.6 286.3h0M291.7 287.2h0M291.4 288.9h0M292.1 263.8h0M292.7 264.2h0M292.2 266.9h0M292.6 267.0h0M292.7 270.9h0M291.8 275.4h0M292.2 278.6h0M292.4 286.9h0M291.8 288.9h0M293.7 262.9h0M293.1 265.0h0M293.6 268.5h0M293.3 272.6h0M293.3 279.1h0M293.3 279.4h0M293.3 281.0h0M293.6 283.3h0M293.7 285.3h0M293.5 286.9h0M293.3 288.0h0M294.2 261.8h0M293.8 263.2h0M294.4 267.9h0M294.4 271.3h0M294.3 271.7h0M294.7 276.2h0M294.6 276.8h0M294.6 278.3h0M294.3 280.8h0M294.6 288.5h0M295.7 262.9h0M295.2 264.4h0M295.0 270.7h0M295.6 273.3h0M295.2 281.2h0M295.6 284.2h0M295.1 284.8h0M295.0 289.7h0M296.2 264.4h0M296.5 265.0h0M296.0 268.4h0M295.9 269.5h0M296.5 270.6h0M296.6 282.7h0M296.3 283.6h0M296.7 286.4h0M295.8 287.1h0M296.6 289.6h0M296.9 265.0h0M297.1 268.9h0M297.1 270.6h0M297.0 275.3h0M297.0 276.6h0M297.6 277.7h0M297.6 279.6h0M297.7 283.1h0M297.5 288.0h0M297.5 289.2h0M298.0 265.4h0M298.3 265.9h0M298.7 267.4h0M297.9 269.8h0M298.2 272.4h0M298.0 280.7h0M298.7 282.6h0M298.2 283.3h0M297.9 286.3h0M297.9 288.3h0M297.8 289.5h0M299.2 264.6h0M299.5 269.2h0M299.8 275.7h0M298.8 276.5h0M299.1 279.2h0M299.1 281.0h0M299.0 282.2h0M299.0 282.4h0M299.6 283.5h0M299.5 285.3h0M299.3 290.3h0M300.8 263.9h0M300.0 266.4h0M300.4 269.3h0M300.3 274.0h0M300.0 276.2h0M300.7 276.9h0M300.6 277.9h0M300.4 280.0h0M300.4 281.4h0M300.8 282.8h0M300.7 287.7h0M300.1 291.6h0M301.2 270.6h0M301.0 274.8h0M300.9 283.5h0M300.8 283.9h0M301.4 286.8h0M302.2 268.3h0M302.1 279.1h0M302.1 279.8h0M302.1 283.5h0M302.6 283.6h0M301.9 285.9h0M301.8 287.0h0M302.0 288.3h0M302.2 289.1h0M302.1 292.4h0M302.9 266.3h0M303.0 267.1h0M303.4 270.3h0M303.2 273.6h0M303.1 278.0h0M303.6 279.0h0M303.5 286.7h0M303.7 292.0h0M304.5 265.0h0M304.5 266.9h0M303.8 268.4h0M304.2 270.4h0M304.7 271.7h0M304.4 274.0h0M304.7 276.5h0M304.6 277.5h0M304.7 280.6h0M303.9 284.3h0M303.8 286.2h0M304.7 291.4h0M305.7 261.5h0M305.5 263.1h0M304.9 268.6h0M305.6 270.1h0M305.2 273.2h0M305.3 276.4h0M304.9 278.9h0M305.8 279.9h0M305.3 282.2h0M304.8 289.2h0M306.4 269.8h0M306.8 273.1h0M305.9 276.6h0M305.8 278.8h0M306.1 281.7h0M306.0 283.0h0M306.6 285.1h0M307.4 260.4h0M307.8 264.0h0M307.2 265.0h0M307.5 268.4h0M306.9 269.1h0M307.4 270.2h0M307.8 274.0h0M307.6 279.2h0M307.3 281.8h0M307.6 285.5h0M308.6 259.4h0M308.6 265.3h0M308.5 267.0h0M307.9 267.2h0M308.1 269.3h0M308.5 273.6h0M308.2 279.3h0M308.2 280.7h0M308.0 281.8h0M307.9 284.7h0M308.5 285.6h0M308.9 260.0h0M309.1 261.1h0M309.2 262.7h0M308.8 264.1h0M308.9 264.7h0M309.8 267.0h0M309.5 267.7h0M309.0 270.1h0M309.1 271.0h0M309.0 272.8h0M309.2 277.3h0M309.8 280.3h0M309.7 282.2h0M309.1 284.8h0M310.5 256.0h0M310.3 258.7h0M310.6 260.0h0M310.5 260.9h0M310.5 266.1h0M310.6 266.4h0M310.6 272.7h0M310.2 274.8h0M310.7 276.2h0M310.5 278.2h0M310.5 278.6h0M310.1 280.0h0M310.7 281.5h0M311.3 254.8h0M311.4 257.5h0M311.5 258.5h0M311.5 261.7h0M310.8 265.9h0M311.1 269.1h0M310.9 270.6h0M311.0 272.0h0M311.2 276.1h0M311.0 277.8h0M311.6 280.1h0M311.6 280.9h0M311.8 254.6h0M312.2 256.5h0M312.6 260.3h0M311.9 262.7h0M312.3 273.7h0M312.1 275.1h0M312.5 277.5h0M312.0 278.5h0M312.6 280.5h0M312.8 256.0h0M313.5 258.3h0M313.2 259.9h0M313.5 261.1h0M313.8 266.6h0M313.3 267.2h0M313.2 272.1h0M313.1 272.9h0M313.1 275.9h0M313.3 277.2h0M313.1 280.9h0M313.8 251.8h0M314.3 255.1h0M314.6 256.3h0M313.8 257.7h0M314.0 258.7h0M314.6 261.4h0M314.5 262.2h0M314.5 263.7h0M314.0 271.4h0M314.5 272.5h0M314.7 275.5h0M314.1 277.6h0M314.6 278.8h0M315.7 252.5h0M315.7 253.5h0M315.2 254.3h0M315.0 261.2h0M314.9 263.0h0M315.3 267.8h0M315.7 268.9h0M315.0 271.4h0M315.3 272.3h0M315.5 273.0h0M315.5 275.6h0M315.8 276.1h0M315.5 277.8h0M315.1 279.2h0M316.0 252.9h0M316.0 257.1h0M316.2 260.3h0M316.7 263.7h0M316.8 273.1h0M316.8 273.7h0M316.3 274.8h0M316.5 275.9h0M316.5 277.9h0M316.6 279.4h0M317.7 247.5h0M317.3 250.6h0M316.9 251.1h0M317.5 252.9h0M317.7 255.3h0M317.0 256.1h0M316.9 257.7h0M317.0 262.9h0M317.3 264.0h0M316.9 266.3h0M317.7 267.5h0M316.9 270.1h0M316.9 272.0h0M317.0 274.2h0M317.0 275.4h0M318.1 246.0h0M318.7 247.0h0M318.0 250.4h0M318.4 254.0h0M318.6 256.7h0M318.0 259.8h0M318.2 260.6h0M318.1 262.6h0M317.8 263.9h0M317.8 265.8h0M317.8 268.0h0M317.8 271.1h0M318.0 272.2h0M317.9 273.9h0M319.4 248.1h0M319.6 249.0h0M319.0 253.7h0M319.0 255.3h0M318.9 255.8h0M319.2 258.9h0M319.0 261.6h0M319.4 263.0h0M319.4 265.4h0M318.8 266.2h0M319.0 267.5h0M319.6 268.8h0M319.1 270.6h0M319.0 270.9h0M319.4 272.5h0M320.6 244.9h0M320.1 247.2h0M319.9 253.1h0M320.1 259.1h0M320.7 260.4h0M320.4 264.0h0M320.1 266.7h0M320.0 268.3h0M320.3 271.2h0M320.4 272.0h0M320.9 249.3h0M321.6 250.1h0M321.6 251.7h0M320.9 255.2h0M320.9 259.6h0M321.6 262.3h0M321.3 266.6h0M321.4 267.4h0M321.2 268.8h0M321.0 270.8h0M320.8 272.7h0M321.2 273.1h0M322.3 250.3h0M322.3 253.7h0M322.7 254.3h0M322.4 255.1h0M322.5 257.0h0M322.2 257.4h0M322.8 261.8h0M322.4 262.9h0M322.5 264.0h0M322.7 265.3h0M322.5 269.7h0M321.8 271.7h0M321.9 272.1h0M322.9 246.4h0M323.3 249.0h0M322.9 250.1h0M323.4 254.2h0M323.7 255.0h0M323.1 259.4h0M323.8 260.4h0M323.5 261.6h0M323.7 266.2h0M323.1 266.6h0M322.9 273.0h0M323.1 275.2h0M324.2 260.2h0M324.2 265.0h0M324.1 268.3h0M324.1 269.0h0M323.9 269.6h0M323.9 271.0h0M324.2 272.7h0M324.1 275.4h0M325.5 253.0h0M325.5 254.9h0M325.5 260.6h0M324.9 262.5h0M325.7 263.6h0M325.0 264.1h0M325.3 265.2h0M324.8 268.4h0M325.6 269.1h0M325.0 269.8h0M325.3 272.4h0M325.0 277.7h0M326.7 253.5h0M326.0 256.2h0M326.5 257.4h0M326.2 259.4h0M326.3 261.1h0M326.2 266.0h0M325.9 268.6h0M326.2 272.6h0M326.0 277.2h0M327.2 250.2h0M327.5 252.5h0M327.0 255.8h0M326.9 258.4h0M327.2 259.8h0M327.7 261.4h0M327.6 263.1h0M327.4 272.2h0M327.2 274.0h0M328.8 252.7h0M328.4 258.5h0M328.1 258.9h0M328.5 260.5h0M328.1 261.4h0M328.2 265.0h0M328.5 268.5h0M328.1 269.2h0M328.3 271.5h0M328.5 272.3h0M328.5 273.2h0M327.9 274.3h0M328.7 276.1h0M327.8 277.1h0M329.1 251.7h0M329.3 252.0h0M329.0 254.4h0M329.2 256.2h0M329.1 261.7h0M329.6 265.3h0M329.1 267.9h0M328.9 270.6h0M329.4 273.5h0M329.1 274.2h0M329.1 277.8h0M329.8 278.5h0M330.1 252.8h0M330.4 256.0h0M330.0 257.3h0M330.4 262.8h0M330.1 267.9h0M330.5 268.3h0M329.8 269.5h0M330.2 271.9h0M330.6 274.5h0M330.2 277.1h0M330.8 251.6h0M331.1 259.6h0M331.6 262.7h0M331.6 273.1h0M331.2 276.1h0M332.0 250.8h0M332.1 254.3h0M332.7 254.6h0M332.8 260.9h0M332.5 266.1h0M331.9 266.5h0M331.9 268.8h0M332.5 272.9h0M332.0 275.0h0M332.1 278.3h0M333.6 252.3h0M333.7 257.2h0M332.8 264.6h0M333.4 269.8h0M333.5 274.3h0M332.9 275.5h0M333.0 276.0h0M333.1 278.0h0M333.2 279.1h0M334.0 254.0h0M334.0 256.9h0M334.0 257.9h0M334.3 258.6h0M334.6 260.2h0M334.1 263.2h0M334.0 265.4h0M334.1 267.7h0M334.1 269.6h0M334.3 271.4h0M334.7 272.3h0M334.7 274.2h0M334.2 275.9h0M334.3 276.4h0M334.4 278.1h0M335.7 253.3h0M335.2 255.3h0M334.9 256.8h0M335.3 259.8h0M335.0 263.2h0M335.3 265.1h0M335.8 268.9h0M335.6 269.9h0M335.4 271.7h0M335.3 272.9h0M335.7 275.0h0M335.7 276.5h0M335.9 252.7h0M336.5 253.0h0M336.4 261.4h0M336.1 262.1h0M336.8 267.2h0M336.4 269.5h0M336.2 272.8h0M336.5 274.6h0M336.5 275.6h0M336.6 275.9h0M337.7 252.6h0M337.1 253.6h0M337.7 259.9h0M337.6 263.8h0M337.6 268.5h0M337.7 269.4h0M337.6 270.5h0M337.6 272.4h0M337.7 273.2h0M336.8 276.6h0M337.2 277.8h0M337.0 280.6h0M338.2 253.6h0M337.8 255.9h0M338.3 262.2h0M338.5 263.0h0M337.9 266.2h0M338.2 266.8h0M338.2 268.9h0M337.8 270.7h0M338.2 272.0h0M337.9 273.5h0M338.6 280.6h0M339.1 255.4h0M339.5 257.2h0M339.3 258.2h0M339.1 259.0h0M339.7 259.8h0M339.7 261.0h0M339.4 263.0h0M339.5 269.6h0M339.1 272.9h0M339.6 274.8h0M339.5 275.4h0M339.5 277.2h0M339.0 279.3h0M340.7 258.6h0M340.2 260.1h0M340.0 261.2h0M340.2 262.6h0M340.3 268.4h0M340.7 275.8h0M341.2 254.2h0M341.2 255.0h0M341.2 258.2h0M341.3 259.9h0M341.0 260.6h0M340.9 267.4h0M341.7 268.3h0M341.5 270.2h0M341.4 272.5h0M341.3 279.1h0M341.8 279.9h0M341.1 281.6h0M342.1 257.2h0M342.3 258.5h0M342.2 259.9h0M342.3 260.6h0M342.6 264.0h0M342.1 267.9h0M342.4 268.5h0M341.9 269.6h0M342.6 270.8h0M342.6 271.9h0M342.0 273.8h0M342.3 278.9h0M342.1 281.1h0M342.0 281.3h0M343.2 253.9h0M343.1 265.1h0M343.3 270.9h0M343.7 275.0h0M343.0 276.1h0M343.7 277.3h0M343.4 279.1h0M343.0 280.6h0M343.0 281.1h0M343.4 281.9h0M344.3 256.8h0M344.5 260.6h0M344.4 261.3h0M344.2 265.2h0M344.4 266.2h0M344.5 269.7h0M344.7 271.7h0M344.4 273.1h0M344.6 274.3h0M344.3 279.5h0M343.9 281.7h0M345.8 254.8h0M345.7 255.8h0M345.5 266.6h0M344.9 268.2h0M345.5 270.2h0M345.7 275.6h0M344.8 276.6h0M345.0 279.1h0M345.0 282.1h0M346.0 256.1h0M346.0 257.9h0M346.4 259.2h0M346.2 260.9h0M346.4 261.6h0M345.9 265.2h0M346.0 267.7h0M346.1 271.9h0M346.4 274.8h0M346.3 275.5h0M346.4 277.1h0M346.7 278.0h0M346.0 282.4h0M347.5 257.6h0M347.2 261.8h0M347.1 265.4h0M347.0 271.6h0M347.8 272.7h0M347.1 273.3h0M347.5 275.5h0M347.3 276.0h0M346.8 277.2h0M347.0 280.2h0M347.2 282.6h0M348.2 258.2h0M348.2 263.8h0M348.3 268.4h0M348.6 272.4h0M348.6 273.1h0M348.7 275.6h0M347.8 277.1h0M348.4 279.3h0M348.8 280.3h0M348.8 281.7h0M349.2 258.7h0M349.4 262.6h0M349.2 267.2h0M349.4 267.7h0M348.9 271.9h0M349.7 273.1h0M349.1 274.6h0M348.9 275.9h0M349.8 279.8h0M349.2 281.5h0M350.3 261.0h0M350.6 267.7h0M349.9 269.9h0M350.1 274.9h0M349.8 278.5h0M350.7 282.4h0M350.4 282.8h0M351.3 256.8h0M351.7 259.8h0M351.4 264.2h0M351.8 265.3h0M351.6 270.7h0M351.5 271.7h0M351.7 272.7h0M351.3 275.4h0M351.7 276.0h0M351.7 276.9h0M351.4 277.7h0M351.4 279.4h0M351.4 281.4h0M351.6 282.1h0M352.0 255.1h0M352.5 262.1h0M352.2 264.5h0M352.7 270.8h0M352.6 275.8h0M352.0 275.9h0M352.5 279.2h0M351.8 282.0h0M353.0 259.7h0M353.3 260.5h0M353.5 262.9h0M353.6 268.1h0M353.6 269.6h0M353.7 271.6h0M353.5 272.5h0M353.2 273.4h0M353.5 276.6h0M353.5 277.8h0M353.7 277.9h0M353.4 280.6h0M352.9 281.7h0M353.7 282.5h0M353.1 283.8h0M354.7 265.2h0M354.7 270.5h0M354.2 272.1h0M354.0 273.8h0M354.0 279.3h0M354.4 281.2h0M354.4 282.1h0M355.6 258.2h0M355.7 263.5h0M355.3 264.7h0M355.0 266.8h0M355.1 268.2h0M355.8 270.6h0M355.2 272.6h0M354.9 277.0h0M355.0 278.2h0M355.3 280.5h0M355.7 281.2h0M355.2 283.1h0M356.7 258.2h0M356.2 260.8h0M356.1 261.8h0M355.9 265.2h0M355.8 267.0h0M355.9 271.4h0M356.5 273.2h0M356.8 274.3h0M356.0 279.5h0M355.9 281.0h0M356.6 282.8h0M357.4 255.5h0M357.3 257.2h0M356.9 260.6h0M357.2 265.1h0M356.9 271.7h0M356.8 274.4h0M357.4 281.1h0M358.0 255.6h0M357.8 256.9h0M358.1 260.1h0M358.6 265.2h0M357.9 270.1h0M358.4 270.9h0M358.1 271.8h0M357.8 275.1h0M358.4 278.6h0M357.9 279.2h0M358.0 282.0h0M359.0 256.5h0M359.7 257.8h0M359.7 258.8h0M359.2 263.3h0M359.3 272.1h0M359.3 273.3h0M359.2 274.2h0M359.4 276.7h0M359.4 277.7h0M359.1 281.4h0M359.8 282.3h0M360.3 263.2h0M359.9 264.2h0M360.3 265.1h0M360.8 266.1h0M360.0 271.9h0M360.3 273.3h0M359.9 275.5h0M360.4 277.1h0M360.2 279.5h0M360.4 281.5h0M360.0 282.8h0M361.3 256.0h0M360.8 259.5h0M361.6 260.7h0M361.4 261.9h0M361.1 263.4h0M361.2 264.6h0M360.9 266.0h0M361.0 266.7h0M361.5 269.1h0M361.3 271.4h0M361.7 279.2h0M360.9 280.4h0M362.0 257.4h0M362.3 262.3h0M362.7 262.7h0M362.3 270.9h0M362.2 272.2h0M361.8 276.3h0M362.5 280.6h0M361.8 282.7h0M363.1 256.2h0M363.6 262.2h0M363.8 263.8h0M362.9 269.7h0M363.4 274.6h0M363.4 275.6h0M363.4 280.7h0M364.1 259.6h0M364.7 264.8h0M364.5 267.2h0M364.2 271.2h0M363.9 273.7h0M364.6 273.9h0M364.8 277.3h0M364.4 278.1h0M364.8 279.5h0M364.0 281.4h0M364.1 282.4h0M363.9 283.0h0M364.8 269.9h0M365.4 274.3h0M365.3 277.3h0M366.8 255.2h0M366.6 259.2h0M366.8 265.5h0M366.3 266.3h0M366.2 276.0h0M366.2 281.3h0M367.1 256.9h0M367.5 259.5h0M367.2 263.7h0M367.8 269.7h0M367.0 273.8h0M367.4 277.5h0M366.9 282.4h0M368.4 256.7h0M367.8 258.8h0M368.4 262.3h0M368.1 263.3h0M368.4 269.5h0M368.2 270.0h0M368.4 271.7h0M368.1 273.5h0M368.7 276.0h0M368.3 276.9h0M368.4 278.1h0M368.0 281.8h0M369.3 255.5h0M369.7 258.0h0M369.2 260.2h0M369.7 263.9h0M369.1 266.5h0M368.9 267.5h0M369.8 272.2h0M369.5 272.5h0M369.8 274.7h0M369.2 278.9h0M369.6 280.0h0M370.8 255.7h0M369.8 259.2h0M369.9 261.6h0M370.6 264.5h0M370.4 268.6h0M370.1 271.1h0M370.7 273.2h0M370.0 274.5h0M370.2 275.5h0M370.3 275.9h0M370.4 280.1h0M371.4 257.9h0M371.4 260.3h0M371.8 261.0h0M370.9 263.1h0M371.4 266.8h0M371.0 267.7h0M371.4 268.8h0M370.9 269.7h0M371.3 275.4h0M371.7 275.9h0M371.1 279.8h0M370.9 280.6h0M372.7 254.5h0M372.2 257.0h0M372.3 261.6h0M372.7 265.1h0M371.8 268.4h0M372.3 272.6h0M372.1 274.0h0M372.1 274.9h0M372.6 275.7h0M372.4 276.4h0M372.6 277.7h0M372.0 279.3h0M373.4 254.3h0M373.1 255.1h0M373.3 256.9h0M373.6 267.0h0M373.8 270.3h0M373.7 271.9h0M373.7 273.6h0M373.6 274.7h0M373.4 275.6h0M373.5 276.3h0M374.6 251.8h0M374.6 253.1h0M373.9 256.2h0M374.6 258.4h0M374.4 260.4h0M373.9 266.8h0M374.0 268.7h0M374.2 272.0h0M374.2 273.4h0M374.4 275.1h0M374.3 277.8h0M374.5 279.8h0M375.1 251.8h0M374.9 253.4h0M374.9 258.6h0M375.8 259.8h0M374.9 263.9h0M375.4 270.3h0M375.6 271.1h0M375.1 274.5h0M375.3 275.8h0M375.1 276.3h0M374.9 277.4h0M376.0 252.2h0M376.2 257.2h0M376.6 262.2h0M376.3 265.9h0M376.4 267.5h0M376.0 272.5h0M376.3 274.1h0M376.4 276.1h0M376.5 277.9h0M376.9 255.0h0M377.3 255.9h0M377.5 259.1h0M377.7 260.8h0M377.2 266.7h0M377.1 267.5h0M377.3 269.6h0M377.6 271.7h0M377.6 272.7h0M377.8 275.2h0M377.7 275.7h0M377.3 277.5h0M378.8 252.6h0M378.0 256.7h0M378.4 260.3h0M377.9 266.6h0M378.7 267.5h0M378.8 269.7h0M378.5 271.3h0M378.4 273.4h0M377.9 275.6h0M378.6 276.5h0M378.0 277.5h0M379.1 252.1h0M379.4 257.9h0M379.5 259.5h0M379.2 261.9h0M379.0 265.6h0M379.1 269.0h0M379.7 273.6h0M378.9 274.6h0M379.4 275.5h0M379.8 246.3h0M380.0 249.3h0M380.2 249.8h0M380.3 253.3h0M380.3 256.2h0M380.7 259.3h0M380.6 261.1h0M379.9 262.5h0M380.7 263.1h0M380.0 263.9h0M380.7 265.4h0M380.1 266.8h0M380.5 270.4h0M380.2 271.2h0M381.7 247.6h0M381.6 250.0h0M381.2 250.5h0M381.6 253.7h0M381.1 255.3h0M381.1 257.6h0M381.6 259.0h0M381.1 259.9h0M381.2 261.5h0M381.7 263.4h0M380.9 264.2h0M381.6 266.1h0M381.2 267.8h0M381.0 273.1h0M382.4 244.6h0M381.9 246.8h0M382.2 248.1h0M382.3 250.0h0M382.0 250.7h0M382.3 257.0h0M381.9 258.3h0M382.7 258.7h0M382.0 263.7h0M382.4 266.1h0M381.9 267.3h0M382.5 268.7h0M383.3 253.7h0M383.4 256.6h0M383.2 257.6h0M382.8 258.4h0M383.1 260.2h0M383.7 263.8h0M383.2 264.3h0M383.8 265.3h0M382.9 268.1h0M383.1 269.6h0M382.9 270.5h0M384.1 243.2h0M384.6 247.7h0M384.6 253.3h0M383.8 253.8h0M383.9 255.6h0M383.9 256.6h0M384.7 257.1h0M384.3 258.4h0M384.4 261.2h0M383.9 263.5h0M383.9 263.7h0M385.0 240.8h0M385.0 243.2h0M385.6 244.5h0M385.1 245.4h0M385.3 246.1h0M385.1 248.4h0M385.5 249.0h0M385.4 252.4h0M384.9 254.7h0M385.7 256.0h0M385.4 259.9h0M385.4 263.9h0M385.5 264.9h0M385.3 265.9h0M386.4 230.5h0M386.5 231.6h0M386.1 241.9h0M386.6 244.3h0M386.1 245.1h0M386.7 246.3h0M385.9 254.0h0M385.8 255.6h0M387.5 197.2h0M387.2 198.5h0M387.2 206.2h0M387.3 207.6h0M387.7 209.1h0M387.8 209.8h0M387.1 211.6h0M387.1 218.6h0M387.4 223.6h0M388.5 235.9h0M388.6 245.3h0M388.5 246.2h0M388.2 252.7h0M388.1 254.1h0M388.4 255.9h0M388.5 257.0h0M388.6 257.7h0M387.9 259.7h0M389.0 255.7h0M389.1 258.0h0M389.7 259.6h0M389.5 263.5h0M389.0 266.4h0M389.0 267.0h0M389.0 268.8h0M388.8 274.9h0M389.0 279.9h0M390.3 254.6h0M390.7 258.0h0M389.9 261.5h0M390.1 264.9h0M389.9 268.4h0M389.9 273.7h0M390.6 274.3h0M390.5 275.6h0M390.3 277.7h0M390.7 279.0h0M391.3 256.1h0M391.2 259.7h0M391.6 265.6h0M391.4 267.2h0M390.9 271.1h0M391.3 273.4h0M391.0 275.0h0M390.8 276.6h0M391.5 277.9h0M391.2 278.5h0M392.0 253.4h0M392.7 257.7h0M391.9 258.6h0M392.5 261.8h0M392.0 265.1h0M392.2 270.0h0M392.5 271.2h0M391.9 276.5h0M392.4 277.1h0M392.9 252.7h0M393.4 253.3h0M393.6 257.7h0M393.7 261.6h0M393.0 263.8h0M392.9 267.9h0M392.9 268.6h0M393.6 270.3h0M393.3 273.0h0M393.8 276.7h0M393.8 244.6h0M394.6 245.6h0M394.3 246.9h0M394.2 252.6h0M393.9 254.5h0M394.7 255.6h0M394.4 257.2h0M394.2 258.4h0M394.1 260.0h0M394.4 261.0h0M394.4 262.7h0M393.9 264.5h0M394.0 266.0h0M394.7 272.3h0M393.9 272.7h0M395.2 237.2h0M395.4 244.0h0M394.8 245.7h0M395.1 246.6h0M395.5 251.2h0M395.3 254.5h0M395.5 256.0h0M395.1 258.0h0M395.1 261.4h0M395.4 262.3h0M395.0 263.3h0M395.9 236.0h0M395.9 237.1h0M396.5 243.5h0M396.5 244.5h0M396.0 246.3h0M396.3 248.4h0M396.0 249.7h0M396.7 257.4h0M397.1 236.0h0M397.3 239.3h0M397.6 240.1h0M397.0 240.6h0M397.2 242.5h0M396.9 247.7h0M397.2 251.7h0M397.4 253.0h0M396.9 253.8h0M397.3 255.7h0M397.4 256.7h0M397.7 258.5h0M397.7 259.0h0M396.9 262.1h0M397.2 263.5h0M397.4 264.5h0M398.3 239.8h0M397.9 242.0h0M397.9 243.2h0M398.3 245.6h0M398.5 248.1h0M398.6 259.7h0M398.4 261.5h0M399.5 235.4h0M399.5 238.2h0M398.9 242.0h0M399.6 245.9h0M398.8 247.4h0M399.1 247.7h0M399.7 249.6h0M399.4 250.7h0M399.7 252.6h0M399.4 254.4h0M399.6 263.5h0M400.0 236.9h0M399.9 237.5h0M399.8 240.8h0M400.2 243.2h0M400.7 243.7h0M400.0 245.4h0M399.8 248.9h0M400.0 251.0h0M400.3 252.8h0M400.5 255.0h0M400.2 257.6h0M400.3 261.2h0M401.7 239.9h0M401.4 241.0h0M401.5 242.0h0M401.0 243.2h0M401.6 250.3h0M401.2 251.3h0M400.9 251.8h0M401.7 261.0h0M401.0 262.1h0M401.4 262.5h0M402.7 240.1h0M402.7 241.1h0M401.8 243.7h0M402.5 248.7h0M402.1 249.2h0M401.9 253.6h0M402.7 256.1h0M402.7 257.4h0M402.1 262.7h0M402.0 265.0h0M401.9 265.5h0M402.5 266.6h0M401.9 267.8h0M403.2 241.1h0M403.3 247.9h0M403.0 249.0h0M403.4 251.1h0M402.9 252.5h0M402.9 254.4h0M403.1 258.8h0M403.5 261.2h0M403.3 263.8h0M403.6 266.1h0M403.3 267.9h0M404.7 243.9h0M404.8 247.0h0M404.4 249.2h0M404.2 251.0h0M403.9 253.2h0M404.1 255.3h0M403.8 258.0h0M404.5 258.6h0M404.3 259.8h0M403.8 260.7h0M404.5 263.2h0M405.3 241.9h0M405.7 243.4h0M405.0 244.8h0M405.6 246.4h0M405.2 249.5h0M405.4 256.9h0M405.3 261.1h0M405.5 261.9h0M405.4 264.2h0M404.9 265.9h0M405.0 269.5h0M406.0 242.8h0M406.0 252.0h0M406.6 253.1h0M405.9 255.8h0M406.8 257.6h0M406.1 257.7h0M406.6 259.3h0M406.7 260.3h0M406.4 261.6h0M406.5 262.7h0M406.7 264.0h0M406.4 265.4h0M406.8 266.4h0M405.9 266.6h0M406.1 268.3h0M406.8 270.0h0M407.7 243.0h0M407.2 244.3h0M407.8 244.6h0M407.2 247.9h0M407.8 251.5h0M407.7 256.6h0M407.3 258.0h0M407.5 259.8h0M407.1 261.0h0M407.7 263.5h0M408.6 244.8h0M408.6 259.7h0M408.4 261.3h0M408.5 262.7h0M408.3 267.1h0M409.3 242.6h0M409.2 243.4h0M409.2 246.6h0M408.9 247.2h0M408.8 250.7h0M409.7 254.2h0M409.1 256.0h0M409.1 257.5h0M408.9 260.7h0M408.8 260.7h0M408.8 262.4h0M409.0 266.1h0M409.0 266.8h0M409.2 269.6h0M410.7 243.7h0M410.5 245.6h0M410.5 246.1h0M410.1 249.7h0M410.3 253.0h0M410.2 254.7h0M410.3 256.1h0M410.2 257.1h0M409.9 258.7h0M410.4 258.7h0M409.9 262.4h0M410.1 262.8h0M409.9 264.2h0M410.8 266.2h0M410.5 270.5h0M411.3 242.2h0M411.2 245.2h0M411.2 254.5h0M411.5 259.6h0M411.6 260.3h0M411.4 261.1h0M411.2 262.2h0M411.7 263.4h0M411.0 264.2h0M411.5 265.3h0M411.2 269.8h0M412.7 245.7h0M411.9 247.5h0M412.7 251.5h0M412.7 254.4h0M412.5 257.5h0M412.7 261.6h0M412.4 262.9h0M412.2 264.2h0M412.1 265.0h0M412.4 266.7h0M412.0 268.5h0M413.4 242.1h0M413.2 244.3h0M413.1 246.7h0M413.6 249.0h0M413.5 251.0h0M413.8 252.9h0M413.5 253.2h0M413.5 257.2h0M413.2 259.6h0M413.2 260.8h0M413.1 263.3h0M413.0 264.9h0M413.5 270.3h0M413.8 242.8h0M414.5 249.5h0M414.5 254.8h0M414.6 257.4h0M414.4 258.5h0M414.7 263.8h0M414.6 265.3h0M414.0 267.1h0M414.7 268.2h0M413.8 269.8h0M413.9 270.4h0M415.8 242.5h0M415.1 247.1h0M415.3 250.0h0M415.5 251.9h0M415.0 252.0h0M415.1 253.3h0M415.5 255.1h0M415.7 259.4h0M415.1 263.1h0M415.7 267.6h0M416.7 245.5h0M416.1 248.1h0M416.4 260.6h0M416.3 263.0h0M416.5 267.8h0M416.6 270.8h0M417.7 242.5h0M417.6 245.7h0M417.7 247.1h0M417.2 251.5h0M417.5 252.8h0M417.4 253.4h0M417.2 254.3h0M416.8 255.6h0M417.4 256.2h0M417.7 257.3h0M417.1 258.5h0M417.2 259.1h0M417.6 267.8h0M418.3 242.0h0M418.8 243.2h0M418.6 245.9h0M417.9 253.4h0M418.5 256.5h0M417.8 256.9h0M418.3 258.2h0M418.4 264.2h0M418.4 265.5h0M418.0 267.0h0M418.5 270.5h0M419.7 243.4h0M419.3 244.4h0M419.1 247.4h0M419.0 252.0h0M419.3 253.1h0M419.0 254.0h0M419.1 255.1h0M419.1 255.6h0M419.2 257.6h0M419.2 263.5h0M419.1 268.6h0M419.2 270.4h0M420.5 241.9h0M420.7 245.1h0M420.6 246.4h0M420.1 248.3h0M420.0 249.0h0M420.0 252.5h0M420.4 254.2h0M420.3 256.5h0M420.3 260.6h0M420.5 261.7h0M419.9 262.1h0M420.3 263.8h0M420.6 264.1h0M420.7 267.6h0M421.6 242.6h0M421.6 244.7h0M421.8 246.5h0M421.6 248.3h0M421.7 250.9h0M420.9 252.8h0M421.3 254.6h0M421.0 257.7h0M421.4 260.4h0M421.0 262.4h0M421.6 264.0h0M421.1 269.3h0M420.9 270.6h0M422.0 242.2h0M422.0 247.6h0M422.6 250.2h0M422.4 256.5h0M421.9 257.3h0M422.7 258.7h0M422.6 262.9h0M421.9 264.9h0M422.6 266.3h0M422.6 269.5h0M422.9 256.0h0M423.5 256.6h0M423.1 259.2h0M423.3 259.9h0M423.2 261.7h0M423.4 264.3h0M423.7 265.2h0M423.6 268.6h0M423.1 271.5h0M423.9 245.8h0M424.3 247.9h0M423.9 250.2h0M424.3 252.1h0M424.7 259.1h0M424.2 260.9h0M424.3 264.2h0M423.8 266.2h0M424.2 266.9h0M424.5 269.1h0M424.1 271.0h0M425.4 245.7h0M424.8 253.0h0M425.4 255.1h0M425.4 258.6h0M425.8 260.6h0M425.4 261.4h0M425.1 261.6h0M425.1 263.4h0M425.0 263.6h0M425.0 265.4h0M425.5 267.9h0M425.2 268.9h0M425.2 269.8h0M426.0 242.6h0M426.0 247.9h0M426.3 257.0h0M426.7 260.9h0M426.0 262.1h0M426.1 264.9h0M426.8 266.9h0M426.0 267.7h0M426.7 270.0h0M427.4 243.3h0M427.2 245.9h0M427.8 247.3h0M427.1 248.1h0M427.5 249.5h0M427.0 250.9h0M426.8 253.6h0M426.9 254.6h0M427.4 261.5h0M427.1 262.9h0M427.2 263.5h0M427.5 265.4h0M427.4 266.3h0M427.3 267.2h0M427.6 269.7h0M428.0 242.6h0M428.2 244.3h0M428.0 246.2h0M427.9 247.5h0M427.8 248.2h0M428.6 248.6h0M428.3 250.2h0M428.4 251.5h0M428.4 251.9h0M428.0 253.8h0M428.4 256.6h0M427.9 258.5h0M428.7 262.6h0M428.2 267.0h0M427.9 268.5h0M428.3 269.5h0M428.9 242.4h0M429.3 245.7h0M429.5 248.2h0M429.2 249.8h0M428.8 256.2h0M429.4 257.3h0M428.8 259.7h0M429.0 262.3h0M429.1 268.4h0M430.4 243.7h0M430.8 247.6h0M430.1 247.8h0M430.1 250.3h0M429.8 250.7h0M430.0 252.1h0M429.8 253.3h0M430.5 255.5h0M430.4 256.0h0M430.0 257.8h0M429.9 260.6h0M430.2 261.5h0M430.3 262.3h0M430.3 264.8h0M430.6 265.9h0M431.4 239.7h0M431.2 241.6h0M430.9 243.4h0M431.5 250.7h0M431.2 253.1h0M431.4 254.7h0M431.5 256.7h0M431.2 263.1h0M432.5 236.1h0M432.1 237.1h0M432.7 239.8h0M432.1 243.7h0M431.8 244.1h0M432.1 245.1h0M432.5 247.8h0M432.6 250.3h0M432.8 253.2h0M431.9 256.9h0M432.3 258.0h0M432.4 259.3h0M432.0 260.5h0M433.5 237.5h0M433.2 239.0h0M433.4 241.4h0M433.3 246.0h0M433.1 247.3h0M433.0 256.7h0M433.3 259.5h0M433.1 262.5h0M433.2 263.2h0M434.5 235.8h0M434.3 238.3h0M434.7 241.3h0M433.9 242.8h0M434.6 245.2h0M434.5 246.5h0M434.2 249.8h0M434.6 250.6h0M434.0 254.7h0M434.4 263.9h0M435.5 235.3h0M435.3 238.7h0M435.2 240.1h0M434.9 241.0h0M434.9 242.0h0M434.8 243.9h0M435.2 247.6h0M435.6 248.3h0M435.5 249.8h0M435.2 254.0h0M435.2 256.6h0M435.2 257.5h0M435.6 258.4h0M435.3 259.5h0M435.7 260.5h0M435.3 262.5h0M435.7 263.5h0M436.0 236.7h0M436.6 238.5h0M436.7 247.1h0M436.6 250.0h0M436.0 250.6h0M436.1 251.5h0M436.8 253.2h0M435.8 254.4h0M436.0 255.9h0M436.1 258.2h0M436.1 259.5h0M436.0 261.5h0M436.5 264.3h0M437.2 238.5h0M437.5 238.8h0M437.2 243.0h0M437.5 244.5h0M437.1 247.2h0M437.7 248.7h0M437.5 250.7h0M437.8 251.6h0M436.9 252.1h0M437.1 254.6h0M437.1 259.1h0M437.2 260.2h0M437.5 261.3h0M436.9 262.7h0M436.9 263.4h0M437.4 264.6h0M438.6 241.3h0M438.4 243.0h0M438.2 245.5h0M438.8 254.3h0M438.6 258.7h0M438.3 260.2h0M438.4 265.0h0M439.4 243.4h0M439.0 245.2h0M438.8 247.9h0M439.1 249.5h0M439.3 252.0h0M438.9 254.0h0M439.5 257.4h0M439.2 259.6h0M439.3 261.0h0M438.9 261.3h0M439.6 264.4h0" stroke="#b3b3b3" stroke-width="2.8" stroke-linecap="round" fill="none"/>
<g stroke="#fafafa" fill="none"><path d="M133.9 257.0V258.4M134.2 258.4V259.7M133.9 262.1V264.6M157.5 254.8V257.1M249.4 266.1V266.5M284.1 260.4V261.5M340.7 300.3V303.4M369.7 281.0V283.0M385.4 272.0V273.8M405.4 296.8V299.6M223.2 228.0V229.4M223.1 237.4V238.4M223.3 247.9V251.0M223.5 253.5V254.7M223.3 282.0V284.6M223.1 293.1V294.3M223.1 294.8V298.3M236.3 281.5V284.5M236.6 291.0V292.7M236.3 292.7V296.1M242.6 277.4V280.8M242.3 293.2V296.4M217.0 249.3V250.6M217.4 258.5V261.4M212.1 245.0V246.4M212.0 252.6V255.8M296.8 231.1V233.4M296.8 270.0V272.4M296.6 280.1V281.0M307.1 220.8V223.8M307.1 244.9V247.6M307.2 249.1V250.4M334.9 272.5V274.2M172.8 240.0V243.0M172.9 259.7V262.1M151.1 250.0V253.2M150.8 259.3V260.8M349.6 193.6V195.3M349.7 199.2V200.0M355.5 163.7V166.8M355.4 193.9V196.1" stroke-width="1.0"/><path d="M134.2 260.2V262.1M134.1 267.1V267.1M165.3 259.4V261.7M185.1 278.7V280.4M249.8 262.7V265.1M255.5 258.2V260.8M284.3 261.5V263.3M296.0 265.4V267.9M318.0 258.6V260.6M344.1 266.5V267.1M345.3 290.6V292.6M350.9 289.4V292.6M350.9 298.8V299.1M362.6 263.2V264.3M362.5 269.6V272.9M375.7 251.4V253.8M377.4 258.3V261.4M389.4 266.8V267.9M223.3 240.9V244.4M223.2 274.2V276.2M223.5 284.6V286.8M236.3 265.3V267.2M236.6 270.4V273.2M236.4 296.6V300.0M242.5 272.0V274.9M242.6 296.9V298.7M217.1 245.2V248.3M217.3 250.6V252.7M297.0 238.5V241.3M296.8 253.5V255.7M307.2 231.7V234.4M307.2 243.6V244.9M335.2 263.0V266.4M335.2 287.5V290.3M334.9 299.7V300.0M172.9 269.3V270.9M150.8 267.4V268.0M355.4 142.4V145.1M355.6 150.7V153.5M355.4 156.8V159.0M355.4 167.8V169.6M355.2 177.6V179.6" stroke-width="0.8"/><path d="M157.3 252.1V254.3M325.9 293.8V294.3M332.3 277.2V278.2M332.4 287.0V288.4M339.7 291.7V294.7M340.3 298.5V299.8M340.5 306.1V309.5M340.3 313.1V313.3M351.2 286.5V289.4M358.9 286.7V289.9M362.4 265.8V268.1M369.6 283.5V284.1M223.5 246.7V247.9M223.4 268.4V271.7M223.3 299.3V300.5M236.3 239.9V241.6M236.2 241.6V244.6M236.4 252.0V254.4M236.2 278.8V280.0M242.3 288.9V291.3M242.6 299.2V300.0M217.2 253.2V255.4M217.3 269.7V270.0M296.7 241.8V244.8M296.8 258.2V261.4M297.0 267.0V270.0M296.8 272.4V274.5M307.0 223.8V226.8M306.9 226.8V229.2M306.8 229.2V230.7M335.0 257.0V260.5M334.9 260.5V263.0M335.1 267.9V270.2M334.8 274.2V275.4M173.0 249.2V252.0M173.1 254.5V255.8M173.2 263.1V266.0M173.2 266.5V269.3M172.9 271.9V275.0M151.0 256.3V259.3M349.6 179.1V181.4M349.5 183.5V185.1M355.5 183.5V185.4M355.6 186.4V188.4" stroke-width="0.9"/><path d="M157.4 257.1V258.1M164.9 262.7V263.3M265.3 273.3V274.5M340.7 296.9V298.0M348.5 297.6V300.8M359.2 291.2V293.3M358.9 293.3V294.6M364.3 309.5V310.3M369.4 278.4V280.0M375.2 255.3V257.0M376.5 312.3V313.3M223.3 230.4V231.8M223.5 259.2V261.3M223.5 277.2V280.5M223.4 287.8V290.5M223.4 306.6V309.6M223.3 310.6V313.5M236.3 238.0V239.9M236.6 244.6V246.0M236.6 248.5V251.5M236.4 284.5V286.9M236.3 286.9V290.0M297.0 225.0V226.1M297.0 275.5V277.6M307.2 239.0V242.1M306.8 250.4V253.3M307.1 261.4V262.0M333.7 165.0V167.5M333.4 195.2V197.1M333.6 197.1V200.4M333.7 203.5V205.0M349.5 192.6V193.6M349.7 195.3V197.1" stroke-width="1.2"/><path d="M185.4 280.9V282.8M332.7 279.7V281.7M339.7 297.2V299.8M340.4 290.6V293.0M340.5 303.9V305.1M344.1 256.9V259.8M353.4 308.3V310.0M353.1 310.0V312.2M352.9 312.7V313.3M377.2 261.9V264.1M377.2 264.1V265.2M387.3 222.3V224.6M387.2 227.1V229.1M387.4 230.1V231.8M389.3 265.4V266.8M405.2 279.5V281.1M405.2 281.6V284.5M405.3 284.5V285.8M405.4 287.3V288.3M405.3 289.3V291.8M405.2 292.8V295.8M405.1 301.1V303.6M405.5 303.6V304.7M405.4 305.2V305.4M242.4 274.9V277.4M242.4 283.3V285.3M217.0 255.9V258.0M217.1 263.9V266.4M212.1 248.9V251.6M212.1 259.6V262.3M334.8 253.5V255.5M335.1 276.9V279.9M335.0 290.3V292.2M335.1 296.7V299.7M172.8 243.5V245.2M173.0 258.3V259.7M151.1 254.2V255.3M151.2 260.8V264.1M150.8 264.1V267.4M355.2 140.0V142.4M355.6 147.6V150.7M355.4 160.5V163.7M355.3 171.0V174.2M355.3 174.7V177.6M355.6 181.1V183.5M355.3 190.9V193.4" stroke-width="0.6"/><path d="M265.1 269.8V272.8M326.1 289.4V290.7M364.8 305.1V308.5M407.4 263.6V266.1M138.7 248.7V250.7M333.4 178.9V181.9M333.5 186.7V187.8M333.6 188.3V189.7M333.5 192.4V195.2M349.4 177.0V179.1" stroke-width="1.4"/><path d="M296.0 267.9V268.8M332.5 282.2V285.5M340.6 293.0V294.4M344.3 262.3V264.0M344.2 264.0V266.0M351.1 295.6V297.8M358.7 265.9V267.6M358.7 267.6V268.9M366.2 255.7V258.1M223.4 244.4V246.7M223.5 255.2V258.2M236.2 268.2V270.4M242.6 286.3V288.9M242.7 291.8V293.2M217.3 242.8V245.2M212.0 255.8V257.1M212.1 263.3V265.0M296.9 228.4V229.6M306.9 255.8V258.7M335.0 250.0V253.0M334.8 275.4V276.4M172.9 246.7V249.2M355.2 169.6V171.0M355.4 197.6V200.0" stroke-width="0.7"/><path d="M318.1 256.6V258.6M340.2 311.0V313.1M345.2 288.8V290.6M348.3 301.3V302.1M351.0 292.6V295.6M359.1 283.5V286.7M223.3 232.3V233.5M223.2 233.5V236.9M223.1 262.8V265.9M223.2 290.5V293.1M223.5 303.0V304.1M236.5 256.9V259.6M236.5 260.1V262.8M236.6 275.7V278.3M217.0 240.0V241.8M217.2 266.4V268.7M296.8 227.1V228.4M296.6 234.4V237.0M297.0 244.8V248.1M296.7 261.4V264.5M307.1 215.0V217.0M307.2 218.0V219.3M306.9 260.3V261.4M335.1 270.2V272.5M334.9 279.9V282.5M335.0 283.5V286.5M335.1 294.7V296.2M333.5 169.0V170.7M333.3 189.7V191.1M349.7 181.4V182.5M355.4 153.5V155.3" stroke-width="1.1"/><path d="M326.2 290.7V292.3M358.9 289.9V291.2M375.5 257.0V260.0M375.7 260.0V261.9M375.5 262.9V266.0M376.3 309.0V310.8M385.6 274.3V275.4M138.7 236.0V237.1M138.9 254.1V255.1M296.6 250.6V253.5M307.1 236.9V239.0M307.1 258.7V260.3M333.7 175.0V177.4M333.4 183.7V186.2M333.6 200.9V203.5M349.4 188.5V191.1M349.7 197.1V199.2" stroke-width="1.3"/><path d="M139.1 238.6V242.0M139.0 250.7V254.1M138.9 256.6V257.6M333.3 171.7V174.5M333.7 182.4V183.7M349.5 185.1V188.0" stroke-width="1.5"/><path d="M138.7 244.5V247.2" stroke-width="1.9"/><path d="M138.8 258.1V260.6M139.0 260.6V262.0M333.6 163.0V164.5" stroke-width="1.6"/><path d="M333.7 191.1V192.4" stroke-width="1.7"/></g>
<path d="M103.9 228.9h0M103.9 230.9h0M104.2 232.9h0M103.9 237.5h0M104.2 237.6h0M103.8 242.5h0M104.2 242.9h0M104.4 243.8h0M103.8 246.3h0M104.0 250.5h0M104.0 252.0h0M104.4 254.4h0M103.9 257.3h0M104.1 257.8h0M104.0 258.9h0M105.9 230.5h0M105.3 232.4h0M105.8 234.0h0M105.9 234.8h0M105.9 244.6h0M105.3 246.2h0M105.8 250.0h0M105.7 251.9h0M105.8 253.3h0M106.0 254.3h0M106.0 255.3h0M106.0 255.7h0M105.2 259.8h0M105.9 236.5h0M106.0 240.5h0M105.6 245.2h0M106.1 247.8h0M106.3 249.9h0M106.4 251.7h0M106.3 253.7h0M105.9 255.4h0M106.0 257.9h0M105.6 259.5h0M106.0 261.4h0M105.6 262.3h0M105.7 263.5h0M105.7 264.9h0M105.7 245.4h0M105.9 263.7h0M105.6 266.6h0M105.6 266.7h0M109.0 231.7h0M108.7 242.7h0M108.1 250.1h0M109.0 256.7h0M108.4 261.7h0M109.1 262.5h0M109.1 263.2h0M109.1 264.8h0M108.8 265.3h0M108.8 267.9h0M108.8 246.0h0M109.0 249.0h0M108.9 256.0h0M109.2 256.3h0M108.9 260.0h0M109.1 262.2h0M109.2 263.5h0M109.5 264.9h0M108.8 243.5h0M110.3 247.6h0M109.0 253.0h0M109.0 262.3h0M112.0 240.4h0M112.3 246.3h0M112.1 249.5h0M112.4 250.5h0M111.1 252.3h0M112.4 257.0h0M112.4 259.8h0M111.4 261.3h0M112.4 262.4h0M111.3 265.4h0M112.4 244.9h0M112.1 252.4h0M112.5 257.0h0M112.4 257.8h0M112.5 262.5h0M112.3 265.6h0M114.1 215.1h0M114.3 234.2h0M114.5 238.4h0M114.2 240.0h0M113.1 241.0h0M114.5 247.1h0M114.5 248.2h0M113.2 252.2h0M113.3 253.3h0M114.1 256.3h0M114.1 259.7h0M114.4 181.3h0M114.3 182.7h0M114.3 187.6h0M114.1 189.7h0M114.4 191.3h0M114.5 211.1h0M114.3 211.5h0M114.3 213.2h0M114.4 215.1h0M114.2 219.8h0M114.5 220.8h0M114.2 222.1h0M114.4 222.3h0M114.3 226.3h0M114.2 227.6h0M114.1 228.7h0M114.3 233.7h0M114.1 236.7h0M114.0 237.5h0M114.3 239.4h0M114.1 241.2h0M114.2 243.6h0M114.3 175.6h0M114.3 185.0h0M114.2 200.0h0M114.5 211.3h0M115.4 213.3h0M114.3 217.0h0M114.3 218.1h0M115.4 218.5h0M114.0 221.8h0M114.3 225.7h0M114.1 231.2h0M114.1 232.0h0M114.4 235.8h0M114.2 237.6h0M114.2 240.5h0M117.8 177.1h0M117.9 184.1h0M117.7 186.3h0M117.6 187.9h0M117.5 196.5h0M118.0 206.5h0M117.6 208.0h0M117.8 211.0h0M117.8 215.1h0M116.4 216.1h0M116.4 216.8h0M117.9 218.0h0M117.7 221.5h0M118.0 223.2h0M117.7 230.3h0M116.1 232.5h0M118.0 234.4h0M117.7 236.2h0M117.6 237.5h0M117.8 239.2h0M117.8 178.8h0M117.8 184.0h0M118.0 186.0h0M117.6 187.7h0M117.5 188.7h0M117.7 199.5h0M117.7 201.4h0M117.8 209.2h0M117.8 217.4h0M117.7 218.5h0M117.9 223.5h0M117.2 224.0h0M117.8 226.2h0M117.8 228.0h0M117.9 230.5h0M117.4 233.0h0M117.3 236.7h0M117.1 237.2h0M117.6 239.2h0M117.9 168.6h0M117.6 176.8h0M117.7 178.4h0M117.7 182.0h0M117.8 185.2h0M117.9 193.8h0M117.7 211.9h0M117.7 214.1h0M118.3 215.4h0M117.6 218.2h0M117.8 225.9h0M117.9 230.2h0M117.6 231.2h0M117.6 233.5h0M118.0 236.5h0M118.5 237.3h0M117.8 238.8h0M117.9 241.6h0M120.6 172.3h0M119.2 184.2h0M120.6 191.9h0M120.8 195.1h0M119.4 202.5h0M120.7 205.1h0M120.9 213.7h0M119.2 217.0h0M119.5 218.5h0M121.1 219.2h0M120.6 221.4h0M121.0 223.9h0M121.0 226.9h0M120.7 227.6h0M121.1 228.5h0M120.6 230.6h0M120.7 232.0h0M120.8 234.1h0M119.5 235.9h0M120.7 236.3h0M120.8 237.8h0M120.9 239.8h0M121.0 195.0h0M120.7 195.3h0M121.1 200.9h0M120.8 205.7h0M120.9 210.3h0M120.7 211.5h0M120.1 212.8h0M121.0 214.8h0M120.8 216.9h0M120.4 225.6h0M120.2 228.7h0M120.8 232.7h0M120.8 176.5h0M120.9 189.1h0M120.7 192.0h0M121.2 200.2h0M121.5 201.5h0M120.9 206.1h0M121.2 213.9h0M121.5 214.5h0M120.9 215.3h0M120.9 217.5h0M121.1 220.0h0M121.0 228.7h0M120.7 231.0h0M121.1 232.7h0M120.8 237.3h0M121.2 239.1h0M121.0 241.7h0M120.6 243.7h0M120.9 182.9h0M122.3 187.5h0M120.9 188.7h0M120.8 208.2h0M122.5 213.0h0M122.4 225.3h0M120.8 227.3h0M121.0 239.4h0M120.6 243.2h0M123.4 198.4h0M124.1 204.8h0M124.4 209.5h0M124.4 224.6h0M124.4 226.0h0M124.0 228.1h0M124.5 232.0h0M124.2 235.2h0M123.3 238.7h0M123.3 242.4h0M124.5 245.4h0M123.1 248.7h0M124.4 207.3h0M124.2 216.1h0M124.3 220.9h0M124.1 221.3h0M124.1 232.6h0M124.4 234.6h0M124.1 245.5h0M124.1 250.2h0M124.1 254.3h0M124.3 216.5h0M125.4 217.6h0M125.3 218.2h0M124.0 237.6h0M125.3 245.2h0M124.5 254.9h0M124.1 256.0h0M126.8 214.5h0M126.8 237.0h0M126.2 243.7h0M126.7 247.7h0M126.5 254.0h0M126.7 255.1h0M126.7 255.8h0M127.1 202.1h0M126.7 223.4h0M126.4 224.6h0M126.6 226.3h0M126.5 229.6h0M126.7 232.7h0M127.3 236.4h0M126.8 240.6h0M126.5 242.3h0M127.3 245.3h0M126.6 246.1h0M128.9 193.8h0M128.1 203.2h0M129.1 214.8h0M128.3 219.4h0M129.1 226.7h0M129.1 229.9h0M128.4 231.4h0M129.3 235.1h0M129.0 235.8h0M128.9 237.4h0M129.0 238.6h0M129.3 239.8h0M128.8 243.9h0M129.3 244.9h0M128.9 197.5h0M128.8 216.2h0M129.5 218.6h0M129.1 220.5h0M129.0 224.7h0M129.0 227.9h0M129.1 234.5h0M129.5 235.3h0M129.4 239.6h0M128.8 241.1h0M129.2 241.3h0M128.9 242.7h0M129.2 244.6h0M129.3 246.3h0M129.2 248.1h0M130.3 202.4h0M130.2 212.1h0M128.9 213.4h0M129.2 226.5h0M130.1 236.6h0M129.2 240.8h0M129.2 242.2h0M129.0 249.7h0M129.0 250.7h0M130.5 251.5h0M131.5 210.5h0M131.8 222.4h0M131.3 228.0h0M131.7 241.8h0M131.8 248.8h0M131.5 249.5h0M131.6 212.0h0M131.5 225.7h0M132.4 226.5h0M132.3 227.7h0M132.3 248.3h0M132.4 250.1h0M131.8 241.1h0M131.4 244.0h0M134.5 185.1h0M135.0 202.6h0M135.2 204.5h0M135.1 207.2h0M135.1 212.3h0M134.9 221.3h0M135.1 222.3h0M135.1 225.3h0M135.0 229.8h0M134.9 231.5h0M135.3 232.7h0M135.1 234.6h0M134.1 235.2h0M134.9 236.7h0M135.2 238.2h0M135.1 239.1h0M135.4 240.9h0M135.1 241.2h0M134.5 245.4h0M135.0 246.7h0M135.1 190.6h0M135.2 195.8h0M135.1 201.4h0M135.0 212.9h0M135.1 213.4h0M135.2 216.7h0M135.0 218.0h0M135.1 219.1h0M135.2 223.0h0M135.4 226.1h0M134.9 227.7h0M135.2 228.2h0M135.3 229.2h0M135.2 233.8h0M135.0 234.4h0M135.1 237.4h0M135.0 239.6h0M135.3 242.4h0M135.1 243.6h0M135.1 244.9h0M135.5 245.7h0M135.4 249.0h0M136.3 201.5h0M135.4 202.0h0M136.1 207.9h0M135.0 209.1h0M135.2 213.6h0M135.4 214.0h0M135.2 216.3h0M135.4 218.6h0M135.0 221.3h0M135.4 233.5h0M134.9 234.1h0M135.2 238.7h0M135.1 241.9h0M136.3 243.2h0M136.4 245.2h0M135.0 248.2h0M138.2 228.9h0M137.2 234.9h0M138.0 240.2h0M137.9 241.0h0M137.9 258.6h0M137.8 259.7h0M138.3 265.6h0M138.0 270.7h0M140.6 246.4h0M140.5 263.1h0M140.4 268.6h0M140.6 269.2h0M140.6 272.0h0M140.4 254.8h0M140.6 257.2h0M140.6 261.1h0M140.4 261.7h0M140.6 267.8h0M140.5 269.3h0M140.5 270.2h0M140.7 248.5h0M140.5 250.2h0M140.4 263.1h0M140.5 263.3h0M141.1 267.4h0M143.0 255.3h0M142.2 257.5h0M143.2 259.1h0M142.9 263.4h0M142.3 265.3h0M142.4 267.3h0M143.1 268.6h0M143.0 270.0h0M142.9 271.3h0M142.8 258.9h0M143.0 265.1h0M143.3 265.9h0M143.0 266.8h0M142.8 268.4h0M143.3 270.2h0M145.1 254.5h0M145.2 258.7h0M145.5 260.9h0M145.2 262.1h0M144.3 265.4h0M144.4 266.4h0M145.6 268.5h0M145.3 203.7h0M145.3 236.3h0M145.3 237.0h0M145.4 249.8h0M147.2 200.0h0M147.0 217.0h0M147.2 251.6h0M147.2 223.6h0M147.4 225.0h0M149.0 197.8h0M148.2 230.8h0M149.1 241.6h0M149.4 202.7h0M149.4 217.8h0M149.5 234.4h0M149.2 239.2h0M149.3 242.5h0M149.3 243.3h0M149.0 248.0h0M149.2 249.4h0M149.2 230.1h0M149.2 235.0h0M150.3 237.0h0M149.4 238.2h0M149.4 250.4h0M149.0 251.5h0M151.2 228.7h0M152.6 243.0h0M152.4 243.5h0M152.3 251.6h0M152.7 253.6h0M152.4 254.6h0M152.5 257.8h0M152.6 233.2h0M152.3 235.3h0M152.5 235.5h0M152.7 240.7h0M152.3 242.9h0M152.3 247.8h0M152.5 248.9h0M152.1 250.0h0M152.4 251.3h0M152.4 253.8h0M152.1 259.0h0M152.7 221.3h0M153.1 247.5h0M153.2 249.9h0M153.4 251.3h0M154.9 214.7h0M154.7 230.1h0M154.1 237.5h0M154.8 238.4h0M154.3 241.1h0M154.2 242.6h0M154.6 246.1h0M154.9 252.4h0M155.4 237.3h0M155.1 238.5h0M154.9 245.5h0M155.5 246.7h0M155.4 247.9h0M154.7 204.4h0M154.9 220.3h0M154.9 223.6h0M155.0 227.6h0M154.6 235.5h0M154.9 243.4h0M157.2 206.2h0M157.1 208.0h0M158.5 231.3h0M158.5 233.9h0M158.1 238.7h0M158.3 215.3h0M158.2 217.3h0M158.5 229.9h0M158.3 233.0h0M159.2 214.2h0M158.2 218.2h0M159.3 239.8h0M158.4 245.2h0M160.8 216.4h0M160.7 218.2h0M160.4 229.3h0M160.4 238.7h0M160.7 241.7h0M160.5 242.2h0M160.4 244.1h0M160.7 244.5h0M161.5 209.8h0M160.8 212.4h0M160.6 215.3h0M161.4 225.7h0M160.7 233.9h0M160.5 245.5h0M162.6 201.0h0M162.9 216.3h0M162.7 225.6h0M162.9 228.9h0M162.8 240.2h0M162.9 242.7h0M162.9 245.6h0M162.4 247.5h0M162.8 249.7h0M162.7 223.6h0M163.1 226.2h0M163.4 233.0h0M162.9 234.9h0M162.7 245.4h0M162.7 255.1h0M162.7 255.7h0M165.5 208.2h0M165.4 214.1h0M165.4 219.4h0M164.4 225.7h0M165.4 240.0h0M164.1 250.2h0M165.7 256.7h0M165.4 257.5h0M165.6 214.3h0M165.6 233.7h0M165.5 238.3h0M165.4 239.2h0M165.5 244.4h0M165.3 248.4h0M165.6 252.7h0M165.2 253.9h0M165.4 259.1h0M165.7 259.7h0M166.2 205.4h0M165.7 220.7h0M165.6 233.8h0M166.4 236.1h0M165.6 245.4h0M166.5 249.2h0M165.4 250.6h0M165.7 252.3h0M166.2 257.5h0M165.6 257.8h0M166.3 259.2h0M167.6 212.4h0M167.8 223.5h0M167.5 226.1h0M167.4 240.3h0M167.6 242.2h0M167.4 253.3h0M168.5 206.6h0M167.5 223.7h0M167.7 225.6h0M167.8 229.9h0M168.3 232.2h0M167.6 236.4h0M167.6 236.7h0M167.9 240.5h0M168.2 241.9h0M168.5 245.6h0M168.2 251.7h0M168.2 255.1h0M168.1 258.5h0M170.3 210.9h0M170.1 240.8h0M170.3 242.6h0M170.2 250.1h0M170.1 251.1h0M170.4 252.6h0M170.4 253.7h0M169.5 257.6h0M170.2 231.0h0M170.3 234.4h0M169.9 237.2h0M170.0 241.3h0M170.0 244.1h0M170.0 247.6h0M170.3 249.5h0M170.0 250.7h0M170.5 251.6h0M170.3 253.7h0M170.4 254.8h0M170.1 259.1h0M170.4 227.8h0M170.4 229.1h0M170.3 230.3h0M170.3 230.9h0M171.1 238.5h0M170.2 242.2h0M170.3 244.2h0M170.2 245.5h0M170.0 252.9h0M170.1 254.9h0M170.2 255.8h0M170.1 258.3h0M171.1 260.1h0M170.2 261.4h0M170.0 262.1h0M173.7 249.8h0M173.9 251.2h0M173.8 254.1h0M173.8 255.0h0M173.8 262.0h0M173.5 263.9h0M173.6 264.4h0M173.4 252.1h0M173.7 261.0h0M173.7 264.9h0M173.7 255.8h0M173.6 260.5h0M173.6 266.1h0M173.6 228.8h0M173.8 239.0h0M173.5 240.7h0M173.7 251.4h0M175.3 256.6h0M176.4 219.5h0M177.0 240.6h0M177.3 244.5h0M177.3 251.4h0M176.9 219.5h0M177.2 223.2h0M176.9 245.9h0M177.2 250.2h0M177.0 255.3h0M176.9 257.2h0M177.0 259.6h0M177.2 234.3h0M177.2 234.8h0M177.2 245.1h0M178.1 248.2h0M177.2 252.1h0M178.2 255.7h0M177.1 258.8h0M177.3 261.3h0M180.4 223.7h0M180.3 226.7h0M180.2 227.6h0M180.3 236.9h0M180.3 226.9h0M180.3 236.3h0M180.2 239.6h0M180.3 243.7h0M180.4 250.8h0M180.1 255.5h0M180.5 256.0h0M180.3 257.5h0M180.6 259.6h0M180.6 263.3h0M180.4 232.1h0M180.5 245.9h0M181.4 249.5h0M180.4 253.4h0M180.5 256.5h0M180.3 257.0h0M180.3 259.9h0M180.2 264.0h0M182.3 227.2h0M183.2 229.8h0M183.3 241.4h0M183.2 242.1h0M183.2 244.2h0M182.2 248.2h0M183.1 252.7h0M183.1 253.1h0M183.5 255.1h0M183.5 260.1h0M183.4 262.0h0M183.4 263.0h0M183.4 226.5h0M183.3 234.9h0M183.5 239.6h0M183.5 246.3h0M183.5 250.0h0M183.5 252.7h0M183.2 255.7h0M183.1 260.0h0M183.2 262.8h0M183.1 263.1h0M183.1 264.3h0M183.3 265.4h0M184.4 232.5h0M183.3 239.6h0M183.1 241.6h0M184.2 242.4h0M184.4 252.1h0M183.2 254.6h0M184.4 257.9h0M183.4 258.9h0M183.0 260.1h0M184.1 262.4h0M183.2 263.3h0M185.4 240.0h0M186.8 242.2h0M186.9 242.9h0M186.6 244.0h0M186.6 249.7h0M185.5 251.7h0M185.4 255.3h0M187.0 256.7h0M185.3 258.2h0M186.5 258.8h0M185.2 260.9h0M186.9 263.3h0M186.8 265.7h0M186.6 266.4h0M186.5 256.2h0M186.9 257.1h0M186.5 261.7h0M186.6 264.0h0M186.5 254.1h0M186.8 256.9h0M186.6 228.7h0M186.9 236.5h0M186.5 242.2h0M186.9 244.7h0M188.4 245.6h0M186.7 252.4h0M186.5 253.1h0M188.2 262.7h0M190.2 235.5h0M190.1 240.6h0M190.3 246.4h0M189.2 255.0h0M190.4 258.7h0M189.3 261.4h0M190.5 226.2h0M190.0 244.4h0M190.2 252.3h0M190.2 253.1h0M190.1 259.0h0M190.0 236.1h0M191.1 239.8h0M190.2 246.7h0M190.3 249.3h0M191.2 252.1h0M191.4 256.2h0M190.1 258.1h0M190.2 261.2h0M193.0 222.5h0M193.0 245.9h0M193.0 248.9h0M192.3 254.8h0M193.0 258.5h0M192.3 259.6h0M192.9 260.4h0M193.2 264.2h0M192.3 265.3h0M193.1 221.4h0M192.8 230.7h0M192.9 233.2h0M193.0 248.1h0M193.0 251.6h0M193.3 263.6h0M193.2 264.5h0M193.0 225.1h0M193.2 231.4h0M193.0 235.8h0M194.4 252.3h0M192.9 254.0h0M193.0 258.5h0M192.9 262.8h0M194.5 265.0h0M193.1 266.0h0M196.0 232.6h0M196.3 252.2h0M196.3 255.5h0M195.9 259.0h0M196.3 260.4h0M195.4 265.3h0M196.3 227.5h0M196.1 229.9h0M195.8 244.9h0M196.1 248.8h0M195.9 253.6h0M195.9 255.3h0M196.2 257.9h0M196.2 264.4h0M197.9 235.0h0M198.1 254.0h0M198.1 254.6h0M197.9 224.1h0M198.1 240.1h0M197.9 244.2h0M198.0 249.4h0M197.8 250.9h0M198.2 256.0h0M197.9 257.6h0M198.0 259.2h0M198.4 260.6h0M198.1 261.6h0M198.5 263.3h0M198.1 265.8h0M201.1 215.6h0M200.5 218.8h0M201.0 235.7h0M200.9 236.3h0M201.3 241.7h0M201.0 244.5h0M200.5 248.5h0M201.2 202.6h0M201.3 216.0h0M201.0 216.9h0M201.3 221.4h0M201.0 225.4h0M200.9 234.7h0M201.1 210.2h0M201.1 239.2h0M202.2 247.0h0M203.5 208.1h0M203.6 215.3h0M203.7 221.1h0M203.9 229.3h0M203.6 236.2h0M203.5 244.2h0M203.7 246.2h0M203.6 207.1h0M203.7 222.9h0M203.7 225.8h0M203.6 234.9h0M204.1 241.1h0M203.9 243.9h0M203.9 246.0h0M203.8 246.4h0M204.1 247.8h0M206.7 197.7h0M205.5 213.1h0M206.8 216.9h0M205.4 227.6h0M207.1 232.7h0M207.1 239.0h0M207.0 243.1h0M206.9 243.7h0M206.9 245.9h0M207.0 246.6h0M207.0 247.6h0M206.5 219.5h0M207.1 230.5h0M207.0 240.3h0M206.8 244.1h0M206.9 248.8h0M207.4 203.9h0M207.1 213.9h0M206.7 217.0h0M207.1 218.8h0M207.0 234.1h0M206.7 237.5h0M208.1 222.5h0M208.3 223.0h0M206.8 235.5h0M207.1 236.5h0M208.4 237.4h0M206.7 240.3h0M206.7 243.2h0M206.7 246.1h0M206.9 250.4h0M210.0 208.4h0M209.8 216.9h0M209.7 221.8h0M209.8 228.4h0M209.4 229.6h0M210.0 231.0h0M209.8 242.0h0M209.7 245.0h0M209.5 249.2h0M209.9 237.2h0M209.7 238.6h0M209.8 247.0h0M209.6 249.0h0M209.6 250.4h0M210.0 253.8h0M212.0 223.1h0M212.4 229.1h0M211.4 233.6h0M211.3 248.5h0M212.1 251.1h0M212.1 254.0h0M212.2 258.9h0M212.1 260.5h0M212.2 219.3h0M212.2 245.9h0M212.3 256.6h0M212.3 259.9h0M213.3 230.4h0M214.1 239.1h0M213.9 244.7h0M214.0 249.7h0M213.9 250.7h0M213.9 257.6h0M214.3 237.6h0M214.1 243.6h0M213.9 256.3h0M214.4 258.3h0M214.2 233.4h0M213.8 253.4h0M216.4 224.9h0M217.7 235.1h0M216.5 237.0h0M217.3 242.6h0M217.7 253.0h0M217.3 256.5h0M217.5 256.9h0M217.6 260.7h0M217.3 226.6h0M217.5 229.7h0M217.7 244.4h0M217.4 230.3h0M217.3 233.4h0M218.1 255.9h0M217.4 256.7h0M219.1 233.8h0M219.7 244.5h0M219.7 259.6h0M219.5 242.8h0M219.6 252.5h0M219.4 253.6h0M220.3 255.9h0M221.4 224.1h0M222.1 228.1h0M221.4 242.0h0M222.0 258.6h0M222.4 259.4h0M222.5 234.5h0M222.3 236.9h0M222.2 243.3h0M222.0 253.6h0M222.3 255.2h0M222.0 259.7h0M223.1 241.5h0M223.4 242.7h0M222.4 246.7h0M222.3 255.8h0M222.4 256.5h0M222.3 258.7h0M222.4 259.4h0M222.2 261.1h0M224.5 241.0h0M224.3 242.8h0M224.5 245.2h0M224.4 252.1h0M224.5 253.6h0M224.8 255.3h0M224.4 259.6h0M224.2 261.6h0M225.4 247.7h0M225.4 249.8h0M225.5 251.2h0M225.2 252.6h0M224.4 255.0h0M225.5 258.8h0M224.7 259.9h0M224.5 262.3h0M226.9 221.5h0M226.9 225.1h0M226.5 235.5h0M226.8 240.4h0M226.9 242.6h0M227.0 247.1h0M226.9 251.0h0M227.1 252.0h0M226.9 253.2h0M227.1 196.7h0M226.8 203.7h0M227.1 205.8h0M226.9 210.0h0M226.8 213.0h0M226.9 221.3h0M227.0 222.6h0M227.1 232.0h0M227.1 235.3h0M227.0 236.6h0M226.8 242.1h0M226.7 201.3h0M228.1 208.3h0M226.7 220.3h0M226.8 224.1h0M228.3 229.9h0M226.8 231.4h0M227.1 232.8h0M227.2 238.0h0M226.7 240.3h0M229.5 194.6h0M229.9 202.7h0M229.2 219.6h0M229.8 224.0h0M230.2 227.9h0M230.0 229.7h0M230.1 236.7h0M229.9 238.9h0M230.1 241.0h0M230.2 190.6h0M230.0 205.5h0M229.9 207.6h0M230.2 213.8h0M230.2 217.4h0M230.1 227.2h0M230.0 231.4h0M230.1 235.0h0M230.2 237.7h0M230.2 241.1h0M230.1 242.4h0M231.2 202.8h0M229.9 203.5h0M229.9 211.3h0M229.9 213.1h0M231.3 221.8h0M230.3 232.2h0M231.1 232.8h0M230.1 235.1h0M229.8 237.0h0M230.1 237.8h0M230.0 239.6h0M233.8 207.1h0M233.7 208.7h0M233.7 215.4h0M233.4 217.6h0M232.2 233.3h0M232.2 242.8h0M233.9 206.2h0M233.1 219.7h0M233.7 220.9h0M233.2 224.4h0M233.2 225.3h0M233.6 225.8h0M233.2 229.5h0M233.4 238.8h0M233.8 241.4h0M233.4 201.6h0M234.3 210.7h0M233.8 211.7h0M233.5 216.5h0M233.6 216.8h0M234.4 222.1h0M233.6 222.9h0M234.5 225.4h0M233.8 227.6h0M233.6 229.2h0M233.5 231.6h0M233.9 231.8h0M233.6 233.3h0M234.2 236.3h0M233.8 238.1h0M235.3 204.2h0M235.9 208.7h0M235.6 210.6h0M236.0 235.4h0M236.1 238.1h0M235.7 240.9h0M235.3 242.9h0M236.0 249.0h0M236.4 246.8h0M236.0 251.4h0M236.0 257.4h0M235.9 258.7h0M236.0 260.8h0M237.2 256.5h0M238.5 246.6h0M238.4 250.4h0M238.1 262.1h0M238.6 242.6h0M238.7 246.8h0M238.8 257.2h0M238.9 258.0h0M239.0 259.4h0M239.1 262.1h0M241.1 216.0h0M241.4 229.3h0M241.0 231.9h0M241.3 239.2h0M241.4 240.3h0M241.4 243.3h0M241.3 251.2h0M241.1 258.0h0M241.2 259.2h0M241.1 261.1h0M241.3 215.2h0M241.3 217.8h0M241.3 240.4h0M241.2 244.6h0M241.4 249.7h0M241.4 259.8h0M241.2 235.9h0M241.4 237.2h0M242.5 239.2h0M241.0 243.6h0M241.0 252.2h0M241.0 254.3h0M241.4 256.3h0M241.1 258.2h0M242.5 261.0h0M242.5 261.6h0M243.2 219.4h0M244.2 227.6h0M244.2 229.9h0M244.2 233.7h0M244.1 245.9h0M244.2 247.8h0M243.9 250.6h0M243.3 254.1h0M244.1 256.0h0M244.0 210.5h0M243.8 211.1h0M243.9 215.9h0M244.2 222.5h0M244.2 240.2h0M244.1 240.9h0M244.1 243.9h0M243.8 253.4h0M244.1 255.9h0M243.8 257.8h0M244.2 258.9h0M246.5 192.4h0M245.2 193.1h0M246.4 203.7h0M245.3 211.3h0M246.3 215.4h0M246.5 221.0h0M246.7 228.1h0M245.3 228.9h0M246.7 231.1h0M246.6 232.1h0M245.5 236.6h0M246.4 238.0h0M246.3 238.6h0M245.3 239.6h0M246.3 244.3h0M246.7 244.9h0M246.6 246.1h0M246.4 247.6h0M246.7 249.3h0M246.7 250.6h0M245.2 252.4h0M246.4 253.3h0M245.2 257.6h0M246.5 175.9h0M246.5 183.5h0M246.5 205.4h0M246.2 207.6h0M246.7 211.6h0M246.6 219.8h0M246.5 230.8h0M246.7 232.1h0M246.5 235.0h0M246.1 239.0h0M246.3 243.2h0M246.5 250.1h0M246.6 186.5h0M246.3 189.4h0M246.7 190.8h0M246.6 191.2h0M246.7 193.5h0M246.5 195.8h0M246.4 196.1h0M247.5 211.3h0M246.3 212.6h0M246.3 215.6h0M246.4 222.7h0M246.7 229.0h0M246.3 230.4h0M247.5 231.9h0M247.2 238.5h0M246.3 241.6h0M247.3 242.5h0M247.1 247.7h0M246.5 249.2h0M248.1 172.2h0M248.7 173.5h0M248.5 178.1h0M248.5 180.4h0M248.5 182.4h0M248.5 189.3h0M248.7 204.4h0M248.5 208.4h0M248.8 210.2h0M248.4 218.2h0M248.8 224.1h0M248.6 224.6h0M248.6 228.8h0M248.5 229.5h0M248.7 233.1h0M248.5 239.7h0M248.6 244.0h0M248.1 247.7h0M248.5 248.8h0M248.9 250.7h0M248.8 253.9h0M248.8 170.9h0M248.8 178.3h0M248.6 181.3h0M248.4 182.7h0M248.4 184.6h0M249.5 191.8h0M248.4 193.0h0M248.6 194.5h0M249.2 201.7h0M248.6 203.7h0M248.5 208.1h0M249.5 209.3h0M249.5 212.1h0M248.8 217.0h0M248.5 248.7h0M250.6 172.5h0M250.2 177.9h0M250.6 182.8h0M250.2 195.5h0M250.6 204.1h0M250.5 214.0h0M250.3 214.1h0M250.6 216.2h0M250.5 218.0h0M250.5 226.3h0M250.8 229.4h0M250.1 239.7h0M250.4 244.9h0M250.4 250.8h0M250.6 252.5h0M250.9 253.7h0M250.7 254.3h0M251.2 186.0h0M250.6 192.9h0M251.1 196.9h0M250.8 197.3h0M250.9 199.9h0M251.3 205.0h0M250.9 206.1h0M250.8 214.2h0M250.9 222.1h0M250.8 225.2h0M250.6 226.4h0M250.8 228.0h0M250.7 229.0h0M251.3 229.3h0M250.5 232.1h0M251.4 236.8h0M250.5 238.2h0M250.7 245.7h0M250.6 246.8h0M250.7 247.6h0M250.6 249.0h0M250.9 249.4h0M250.8 253.6h0M253.1 190.2h0M253.1 198.0h0M252.7 210.0h0M253.1 225.5h0M252.7 241.7h0M252.7 173.6h0M253.0 178.6h0M253.0 182.3h0M253.0 183.9h0M252.9 190.7h0M253.1 192.2h0M252.6 193.5h0M252.8 201.0h0M252.9 212.1h0M253.1 213.5h0M253.1 223.4h0M253.4 224.2h0M252.9 227.7h0M252.8 229.1h0M253.1 230.3h0M252.9 231.6h0M252.8 232.3h0M253.1 233.8h0M252.6 237.5h0M252.9 238.6h0M253.1 240.8h0M252.8 243.3h0M252.7 248.5h0M252.8 249.2h0M253.5 252.7h0M254.2 178.0h0M253.1 191.3h0M253.0 195.0h0M253.0 195.5h0M252.8 197.9h0M252.9 205.1h0M252.7 206.5h0M253.0 208.1h0M253.1 216.0h0M254.1 220.5h0M252.8 221.4h0M254.4 227.7h0M253.0 230.1h0M253.1 232.0h0M252.9 238.9h0M252.8 240.0h0M254.4 240.4h0M254.2 242.4h0M252.7 244.8h0M254.3 245.2h0M254.4 248.6h0M253.0 249.5h0M253.0 250.7h0M253.1 251.9h0M252.7 252.9h0M252.8 253.4h0M255.5 177.8h0M256.2 204.0h0M256.1 216.6h0M256.4 221.4h0M256.3 228.8h0M256.4 169.8h0M256.2 180.4h0M256.2 192.0h0M256.4 200.2h0M256.2 218.6h0M256.2 222.8h0M256.4 227.4h0M256.5 244.6h0M256.5 246.1h0M256.2 250.6h0M257.1 167.1h0M257.2 173.0h0M256.4 177.2h0M256.5 185.1h0M256.5 190.4h0M257.2 193.6h0M256.3 199.2h0M256.2 206.0h0M256.1 206.1h0M257.4 211.4h0M257.1 214.8h0M256.3 218.4h0M257.4 227.9h0M256.3 233.0h0M257.5 234.1h0M257.4 236.3h0M257.3 241.0h0M257.4 242.1h0M256.3 243.7h0M256.2 253.6h0M258.2 178.4h0M258.8 186.6h0M259.1 187.7h0M259.1 188.7h0M259.0 211.9h0M258.9 230.3h0M258.2 233.9h0M258.8 246.5h0M258.9 255.8h0M259.3 183.9h0M259.3 190.2h0M258.9 193.1h0M258.9 207.7h0M259.2 211.2h0M259.1 213.8h0M259.2 217.6h0M258.8 219.3h0M259.0 244.5h0M259.2 253.8h0M261.3 177.9h0M261.1 182.4h0M261.2 193.6h0M261.2 219.4h0M260.5 231.4h0M261.1 233.9h0M261.0 244.4h0M261.1 255.1h0M261.2 193.5h0M261.1 236.0h0M261.5 236.8h0M261.3 249.2h0M261.1 250.9h0M261.3 252.4h0M261.2 205.5h0M261.1 212.2h0M262.2 215.1h0M261.3 224.5h0M261.1 250.6h0M263.1 170.8h0M264.4 186.7h0M264.6 203.3h0M264.4 206.0h0M264.9 211.5h0M263.1 212.2h0M264.6 217.1h0M263.2 228.7h0M263.5 235.4h0M264.7 237.0h0M263.1 238.4h0M264.8 240.3h0M264.5 241.2h0M263.2 243.9h0M263.2 245.2h0M263.3 248.5h0M263.1 249.7h0M263.5 251.7h0M264.5 252.5h0M264.6 173.0h0M264.4 181.3h0M264.4 192.6h0M264.8 197.6h0M264.6 200.5h0M264.6 209.6h0M264.9 211.5h0M264.4 213.5h0M264.6 219.8h0M264.5 220.4h0M264.6 222.6h0M264.5 224.4h0M264.7 225.9h0M264.7 226.7h0M264.6 227.5h0M264.6 230.3h0M264.3 245.4h0M264.4 246.6h0M264.5 253.3h0M264.9 183.9h0M264.7 185.7h0M264.7 196.9h0M264.6 201.3h0M265.4 202.0h0M264.5 210.4h0M264.7 218.3h0M265.1 225.1h0M265.5 233.9h0M264.6 234.7h0M264.7 246.5h0M264.7 247.1h0M264.6 248.7h0M264.8 167.4h0M266.1 186.2h0M264.7 196.2h0M264.8 198.4h0M264.5 204.7h0M266.3 205.1h0M264.7 206.2h0M264.4 212.7h0M264.9 214.7h0M264.6 218.6h0M264.5 227.8h0M266.2 249.0h0M268.1 182.8h0M267.3 184.5h0M267.1 220.0h0M268.3 226.4h0M268.1 228.6h0M268.3 240.5h0M268.4 242.3h0M268.4 244.4h0M268.1 245.0h0M267.2 248.4h0M268.4 250.3h0M268.3 250.5h0M268.4 197.4h0M268.4 203.6h0M268.3 208.7h0M268.3 216.1h0M268.4 218.9h0M268.1 221.5h0M268.4 225.9h0M268.5 241.9h0M268.2 243.9h0M268.5 247.2h0M268.5 249.1h0M268.3 250.6h0M268.3 255.5h0M268.4 258.1h0M268.4 204.2h0M268.1 215.5h0M269.1 227.8h0M268.2 228.3h0M268.1 230.8h0M269.1 236.8h0M268.3 239.4h0M269.5 240.9h0M268.1 242.1h0M268.0 243.8h0M269.5 244.4h0M268.3 245.6h0M270.7 209.8h0M270.3 218.3h0M270.7 225.8h0M270.3 234.9h0M270.5 239.4h0M270.8 243.8h0M270.8 244.0h0M270.8 249.0h0M271.3 207.4h0M270.9 210.4h0M271.2 219.3h0M271.0 219.8h0M270.9 222.1h0M270.9 227.3h0M271.3 229.5h0M270.8 234.8h0M271.1 237.3h0M271.3 241.5h0M270.7 244.7h0M270.9 248.9h0M270.9 251.7h0M270.8 259.0h0M270.7 260.6h0M272.7 206.5h0M272.3 217.1h0M272.8 229.8h0M273.1 231.1h0M272.9 234.0h0M272.9 239.0h0M273.0 244.7h0M273.1 245.8h0M272.4 250.5h0M272.9 251.3h0M272.1 257.8h0M273.1 213.3h0M273.4 217.8h0M272.9 236.8h0M273.1 255.7h0M275.0 207.9h0M274.1 214.7h0M275.2 225.8h0M275.2 226.2h0M274.9 231.2h0M274.9 238.7h0M274.8 241.0h0M275.2 249.5h0M275.1 254.5h0M274.4 255.8h0M275.1 260.1h0M275.2 210.1h0M274.9 216.5h0M274.9 220.2h0M275.0 223.8h0M275.1 231.8h0M275.2 232.8h0M275.1 235.3h0M275.2 237.6h0M275.2 238.3h0M275.2 242.3h0M275.3 245.4h0M275.1 246.7h0M275.2 248.8h0M275.0 250.4h0M275.2 253.8h0M275.1 255.6h0M276.4 198.1h0M277.0 210.9h0M277.1 218.9h0M276.9 221.7h0M276.1 226.6h0M276.8 239.6h0M277.2 246.8h0M276.2 250.3h0M276.2 254.8h0M277.0 255.3h0M277.0 256.4h0M277.0 258.0h0M277.1 260.4h0M276.4 261.4h0M277.0 187.3h0M277.0 192.1h0M277.1 193.7h0M277.2 195.6h0M277.4 200.7h0M276.9 205.3h0M277.0 210.5h0M277.0 214.1h0M276.9 216.8h0M277.3 218.4h0M277.0 222.4h0M277.2 230.5h0M277.1 235.9h0M277.2 237.4h0M276.8 239.6h0M276.9 243.8h0M276.8 246.9h0M277.0 249.0h0M277.2 250.2h0M277.3 251.8h0M276.8 254.4h0M277.1 256.7h0M276.9 257.3h0M277.1 259.7h0M276.8 260.7h0M279.3 188.5h0M279.2 193.2h0M279.4 195.3h0M279.7 196.5h0M279.5 197.6h0M279.2 199.3h0M278.4 214.2h0M278.5 216.8h0M279.5 220.5h0M279.3 228.8h0M278.3 242.6h0M279.4 246.2h0M279.4 247.6h0M279.4 250.0h0M279.2 255.5h0M279.5 256.3h0M279.6 258.6h0M279.4 261.7h0M279.4 192.1h0M279.6 197.6h0M279.6 200.4h0M279.5 205.3h0M279.5 214.6h0M279.7 216.2h0M279.3 218.1h0M279.2 228.7h0M279.5 231.9h0M279.3 234.4h0M279.4 236.8h0M279.4 239.4h0M279.5 243.4h0M279.2 244.7h0M279.2 248.1h0M279.5 248.5h0M279.5 252.8h0M279.5 254.0h0M279.4 258.4h0M279.6 260.3h0M279.2 169.5h0M279.2 176.8h0M279.3 183.1h0M279.4 193.9h0M279.4 196.2h0M279.2 198.5h0M279.3 202.7h0M279.6 203.5h0M279.3 210.4h0M279.6 212.6h0M279.6 213.3h0M279.6 214.3h0M279.4 216.5h0M279.5 217.8h0M280.5 219.6h0M280.2 223.5h0M279.4 226.1h0M279.6 226.7h0M279.5 232.2h0M280.2 238.8h0M279.7 241.4h0M280.4 245.4h0M279.6 248.1h0M280.1 248.4h0M279.5 250.2h0M280.2 251.0h0M279.4 251.9h0M279.2 252.4h0M279.2 256.6h0M279.3 257.3h0M281.1 171.6h0M281.3 173.4h0M281.5 177.5h0M281.3 179.6h0M281.6 181.3h0M281.5 182.0h0M281.5 186.1h0M281.4 189.6h0M281.4 192.1h0M281.4 193.2h0M281.4 200.1h0M281.2 202.2h0M281.4 204.9h0M281.6 205.5h0M281.2 212.5h0M281.2 213.8h0M281.3 217.9h0M281.4 222.3h0M281.4 224.9h0M281.5 227.0h0M281.6 229.0h0M281.5 230.7h0M281.5 231.6h0M281.2 233.1h0M281.2 234.4h0M281.4 237.9h0M281.1 239.5h0M281.4 243.9h0M281.4 245.0h0M281.6 247.3h0M281.3 248.8h0M281.3 250.9h0M281.1 255.1h0M281.2 256.2h0M281.4 256.4h0M281.3 258.2h0M281.2 259.5h0M282.5 174.7h0M281.3 175.7h0M281.6 178.3h0M281.5 181.3h0M281.3 188.9h0M281.2 189.6h0M281.2 190.5h0M281.2 195.8h0M282.3 197.9h0M281.3 199.0h0M281.6 199.5h0M282.1 201.4h0M282.1 209.6h0M282.2 214.2h0M281.3 217.6h0M282.2 218.7h0M281.6 220.5h0M281.3 223.0h0M281.4 223.5h0M281.2 225.0h0M281.4 226.5h0M281.5 227.2h0M281.5 227.7h0M281.6 229.2h0M281.6 234.5h0M281.5 236.5h0M282.2 237.9h0M282.5 238.9h0M281.4 240.9h0M282.1 247.4h0M281.3 247.7h0M281.3 249.3h0M281.4 250.3h0M281.5 251.4h0M281.2 253.0h0M282.5 253.7h0M282.5 258.2h0M281.6 260.1h0M283.8 172.3h0M283.5 177.8h0M283.5 179.2h0M283.1 182.5h0M283.3 183.5h0M283.6 190.6h0M283.2 194.9h0M283.5 201.6h0M283.2 203.9h0M283.8 205.5h0M283.8 207.6h0M283.5 208.7h0M283.7 211.7h0M283.7 215.3h0M283.4 215.9h0M283.4 217.4h0M283.5 217.9h0M283.7 224.7h0M283.5 229.1h0M283.6 232.0h0M283.5 232.7h0M283.8 236.3h0M283.5 238.2h0M283.5 238.7h0M283.1 239.8h0M283.6 242.6h0M283.5 244.4h0M283.3 244.9h0M283.4 247.4h0M283.4 248.5h0M283.6 249.8h0M283.5 253.0h0M283.3 253.9h0M283.6 255.2h0M283.7 255.7h0M283.6 257.0h0M283.7 257.7h0M283.8 259.2h0M283.5 260.1h0M283.4 172.2h0M284.5 183.6h0M284.4 185.7h0M283.6 188.9h0M283.8 190.5h0M283.6 192.8h0M283.5 206.0h0M283.4 207.9h0M283.8 212.0h0M283.7 214.2h0M283.4 217.0h0M283.6 219.0h0M283.5 223.2h0M284.1 225.1h0M283.8 225.9h0M283.7 232.5h0M283.4 233.3h0M283.8 238.5h0M283.7 245.0h0M283.7 250.7h0M283.7 251.3h0M283.7 253.1h0M283.5 254.3h0M284.5 256.4h0M283.5 257.2h0M284.1 259.3h0M283.8 260.4h0M285.5 173.5h0M285.9 175.9h0M285.1 181.1h0M285.1 190.6h0M286.0 195.3h0M285.7 198.1h0M286.0 203.0h0M285.1 204.3h0M285.5 208.4h0M285.7 210.9h0M286.1 219.1h0M285.8 227.4h0M285.8 227.7h0M285.3 232.0h0M286.0 233.2h0M285.9 233.6h0M285.7 235.3h0M285.2 236.0h0M285.9 237.5h0M285.2 238.4h0M285.8 241.0h0M285.8 242.7h0M285.7 244.6h0M285.7 246.9h0M285.5 249.4h0M286.0 249.7h0M286.0 251.2h0M286.0 253.4h0M285.2 253.8h0M286.1 255.9h0M285.5 259.4h0M286.0 260.3h0M286.0 174.6h0M286.0 178.3h0M285.7 184.9h0M285.8 193.2h0M286.1 199.3h0M286.0 200.7h0M285.8 204.6h0M286.1 209.2h0M286.1 211.9h0M286.2 214.3h0M286.1 215.3h0M286.5 217.2h0M285.7 218.4h0M286.3 223.1h0M286.0 223.7h0M286.0 224.5h0M286.3 228.8h0M286.1 230.6h0M286.4 237.3h0M286.4 238.9h0M285.7 239.4h0M285.7 242.3h0M285.7 244.3h0M285.8 245.6h0M285.8 248.1h0M286.1 250.4h0M286.4 253.6h0M285.9 255.8h0M285.8 257.3h0M286.1 257.9h0M286.1 258.9h0M288.8 178.1h0M288.9 189.9h0M288.6 193.5h0M288.6 195.5h0M288.8 197.1h0M288.8 198.3h0M287.2 198.9h0M288.8 211.8h0M288.6 213.8h0M288.8 215.1h0M287.4 216.9h0M288.6 222.0h0M287.4 225.1h0M288.5 229.5h0M288.7 231.0h0M287.5 233.7h0M288.6 239.5h0M288.8 240.3h0M287.3 241.6h0M288.7 244.4h0M288.9 247.9h0M288.8 249.7h0M288.8 251.0h0M287.5 252.3h0M288.6 254.6h0M288.4 173.1h0M288.7 176.1h0M288.8 177.4h0M288.7 177.9h0M288.7 179.5h0M288.7 179.9h0M288.5 186.5h0M288.9 191.8h0M288.2 200.4h0M288.2 203.2h0M288.9 204.7h0M288.8 208.9h0M288.7 211.3h0M288.8 212.9h0M288.6 222.2h0M288.8 222.9h0M288.8 225.4h0M288.6 228.2h0M288.7 229.8h0M288.7 234.9h0M288.9 238.9h0M288.3 242.1h0M288.2 245.6h0M288.5 248.6h0M288.8 249.0h0M288.5 251.0h0M288.6 253.2h0M288.2 254.5h0M288.9 254.7h0M288.5 257.2h0M288.5 261.0h0M288.6 171.8h0M289.3 173.9h0M288.8 174.7h0M288.5 177.8h0M288.6 184.4h0M288.6 194.0h0M288.9 195.7h0M288.8 201.3h0M288.7 206.8h0M288.9 208.1h0M289.3 218.0h0M288.7 220.4h0M288.8 221.4h0M289.4 223.5h0M288.8 232.6h0M289.5 233.8h0M289.4 235.0h0M288.5 240.3h0M289.4 243.0h0M288.9 246.0h0M289.4 246.9h0M288.7 250.5h0M288.5 252.6h0M289.3 257.4h0M288.5 258.7h0M288.5 260.1h0M288.9 262.0h0M288.6 192.3h0M288.9 193.8h0M288.9 210.7h0M288.7 212.8h0M288.9 222.8h0M288.8 233.3h0M288.5 234.1h0M290.4 235.4h0M288.5 236.0h0M288.9 245.8h0M288.5 250.8h0M288.9 259.8h0M292.3 173.5h0M292.1 189.4h0M291.9 190.0h0M292.3 197.0h0M291.5 204.6h0M292.3 207.0h0M292.0 219.1h0M292.0 232.2h0M291.2 233.3h0M292.3 237.3h0M291.5 241.4h0M292.1 242.7h0M292.2 243.2h0M292.2 251.5h0M291.9 259.6h0M291.9 261.2h0M292.1 172.5h0M292.3 175.4h0M292.0 182.5h0M292.5 188.5h0M292.1 189.5h0M291.9 195.6h0M292.1 197.6h0M291.9 199.8h0M292.1 206.8h0M292.3 213.6h0M292.2 219.6h0M292.2 220.3h0M292.2 223.5h0M292.3 225.3h0M292.1 229.3h0M291.9 230.9h0M292.5 232.5h0M291.9 233.3h0M292.2 234.9h0M292.1 236.2h0M292.4 241.5h0M292.1 244.4h0M292.3 248.4h0M291.9 249.9h0M291.9 252.6h0M292.5 254.0h0M292.2 257.9h0M292.0 258.3h0M292.3 260.2h0M291.9 178.8h0M292.0 181.1h0M292.2 184.8h0M291.9 190.5h0M292.2 191.5h0M291.9 198.0h0M293.4 198.6h0M292.3 200.3h0M293.5 213.6h0M292.0 216.6h0M292.2 217.6h0M292.3 218.8h0M292.2 223.0h0M292.2 224.3h0M292.3 226.3h0M293.1 228.6h0M292.1 234.3h0M292.1 234.9h0M292.0 236.1h0M293.3 239.4h0M291.9 242.3h0M291.9 242.3h0M293.2 244.0h0M293.2 245.3h0M291.9 246.5h0M292.2 251.6h0M291.9 253.0h0M293.4 254.9h0M291.9 256.0h0M292.2 259.2h0M295.2 178.6h0M294.1 187.9h0M294.5 188.8h0M295.4 191.7h0M295.3 199.8h0M295.3 202.5h0M295.5 207.9h0M295.2 211.3h0M295.5 211.6h0M295.3 215.5h0M295.0 227.1h0M295.3 228.1h0M294.1 229.6h0M295.5 232.5h0M295.2 232.8h0M295.0 233.9h0M294.2 234.6h0M295.2 236.8h0M295.3 239.0h0M295.3 240.1h0M295.4 248.9h0M295.4 250.5h0M295.3 251.8h0M295.1 259.1h0M294.2 260.0h0M295.5 180.3h0M295.1 184.6h0M295.3 189.4h0M295.3 192.5h0M295.5 194.5h0M295.4 198.5h0M295.3 205.4h0M295.1 206.4h0M295.2 207.9h0M295.5 211.7h0M295.3 213.4h0M295.0 219.7h0M295.3 221.8h0M295.0 224.3h0M295.5 236.4h0M295.4 237.0h0M295.4 238.8h0M295.3 243.5h0M295.3 246.3h0M295.3 248.8h0M295.4 251.7h0M295.4 254.6h0M295.1 256.5h0M295.2 177.8h0M295.0 188.7h0M296.4 189.8h0M295.1 190.4h0M295.0 192.3h0M295.3 193.0h0M296.3 194.3h0M295.4 200.8h0M295.2 202.0h0M295.0 203.3h0M296.4 204.4h0M296.1 206.0h0M295.1 217.9h0M295.0 224.3h0M295.4 233.1h0M296.3 235.8h0M296.2 247.3h0M296.1 249.7h0M295.3 254.4h0M295.1 260.0h0M297.8 174.2h0M297.7 174.8h0M297.5 195.3h0M297.1 200.6h0M297.7 202.0h0M297.1 203.0h0M297.7 212.2h0M297.4 223.2h0M297.9 223.7h0M297.8 228.6h0M297.3 236.2h0M297.9 237.3h0M297.9 239.5h0M297.6 240.8h0M298.0 242.7h0M297.4 244.2h0M298.0 245.7h0M297.7 247.7h0M297.8 254.6h0M297.7 261.8h0M297.7 188.7h0M297.9 200.3h0M297.9 206.1h0M298.0 208.9h0M298.0 216.7h0M297.8 218.7h0M298.3 223.3h0M297.9 240.2h0M297.7 241.9h0M298.0 243.3h0M297.7 244.0h0M297.7 246.2h0M298.0 246.9h0M298.3 248.0h0M298.3 250.1h0M297.8 253.1h0M298.0 255.7h0M298.1 259.1h0M299.4 180.9h0M299.3 182.1h0M300.2 187.6h0M300.4 192.5h0M300.6 196.3h0M299.3 200.9h0M299.2 206.9h0M300.4 207.4h0M300.4 209.2h0M299.2 215.1h0M299.2 219.5h0M300.5 226.0h0M300.2 227.0h0M300.5 238.6h0M300.3 239.6h0M300.5 240.8h0M300.4 242.8h0M300.1 244.3h0M300.3 248.1h0M300.4 252.4h0M300.5 256.7h0M300.4 259.3h0M300.3 261.1h0M300.3 261.2h0M300.4 192.9h0M300.5 195.4h0M300.2 200.6h0M300.6 205.0h0M300.5 205.8h0M300.4 211.5h0M300.4 214.3h0M300.5 222.2h0M300.6 223.1h0M300.3 229.8h0M300.4 231.4h0M300.5 236.0h0M300.2 238.2h0M300.4 239.7h0M300.6 248.0h0M300.5 252.7h0M300.5 256.1h0M300.3 257.4h0M300.3 260.1h0M300.3 261.9h0M300.5 262.5h0M300.3 197.3h0M301.3 205.2h0M300.3 211.6h0M300.2 213.2h0M301.1 213.9h0M300.2 214.7h0M300.3 217.0h0M300.4 220.8h0M300.6 224.8h0M301.3 228.7h0M300.3 229.7h0M300.5 231.1h0M300.2 231.9h0M300.3 233.2h0M300.3 234.0h0M300.4 238.4h0M300.5 241.2h0M300.2 242.0h0M300.5 243.1h0M300.3 244.9h0M300.2 248.7h0M300.3 250.1h0M301.5 252.1h0M300.5 253.0h0M300.4 255.0h0M300.1 255.8h0M300.5 257.3h0M300.2 260.2h0M300.2 262.6h0M300.3 263.5h0M300.2 264.2h0M302.9 201.0h0M303.0 214.8h0M302.9 229.1h0M303.1 250.4h0M302.4 252.7h0M302.3 254.8h0M302.3 255.8h0M303.0 191.6h0M303.1 194.4h0M303.2 210.3h0M303.1 214.5h0M303.0 228.6h0M302.9 236.4h0M303.3 238.8h0M303.1 246.1h0M303.1 255.0h0M303.4 256.4h0M304.5 193.8h0M303.2 199.4h0M302.9 200.0h0M303.1 204.5h0M304.4 205.7h0M303.3 207.2h0M303.1 212.8h0M303.3 214.2h0M303.2 216.2h0M304.4 223.2h0M303.1 224.5h0M302.9 224.9h0M303.2 226.7h0M304.3 229.7h0M303.0 231.8h0M303.1 234.4h0M304.2 237.7h0M303.0 238.9h0M303.0 241.1h0M302.9 242.7h0M304.4 243.3h0M302.8 246.4h0M304.4 246.8h0M303.2 252.4h0M303.2 254.3h0M303.3 255.3h0M303.3 256.1h0M302.8 257.2h0M303.0 258.9h0M303.3 260.7h0M303.1 261.2h0M304.1 262.4h0M305.2 190.6h0M305.5 200.6h0M305.5 207.4h0M305.6 213.2h0M305.6 214.9h0M305.3 217.6h0M305.5 223.0h0M305.8 223.1h0M305.7 224.5h0M305.4 227.4h0M305.2 230.3h0M305.5 232.6h0M305.4 233.5h0M305.4 234.4h0M305.5 237.4h0M305.6 241.2h0M305.6 242.8h0M305.4 243.5h0M305.5 244.8h0M305.8 245.8h0M305.4 248.5h0M305.5 251.0h0M305.4 252.4h0M305.4 253.8h0M305.6 255.9h0M305.3 256.3h0M305.3 201.5h0M306.2 202.3h0M305.5 205.3h0M305.3 207.1h0M305.6 209.7h0M305.6 211.4h0M305.5 212.8h0M305.3 214.6h0M306.1 216.7h0M305.8 218.6h0M305.5 223.3h0M305.5 224.6h0M306.3 225.2h0M305.7 227.5h0M306.1 228.0h0M305.5 229.1h0M305.4 230.0h0M306.3 236.6h0M306.2 238.1h0M306.1 240.2h0M305.8 241.1h0M305.8 242.7h0M306.4 243.9h0M305.4 246.9h0M305.5 249.5h0M305.4 250.4h0M305.6 252.3h0M305.6 254.4h0M305.3 255.8h0M305.8 256.8h0M306.3 257.5h0M307.4 192.9h0M307.5 193.7h0M308.0 195.1h0M307.8 197.2h0M308.0 199.0h0M307.8 201.2h0M307.9 205.9h0M307.9 208.6h0M307.8 209.6h0M307.9 211.9h0M308.0 214.5h0M308.2 217.5h0M307.8 218.3h0M308.2 219.8h0M307.8 222.2h0M308.1 223.7h0M307.9 225.7h0M307.8 227.2h0M308.2 229.1h0M307.7 231.7h0M307.8 232.9h0M307.1 235.2h0M308.0 238.6h0M308.1 239.2h0M307.9 240.5h0M307.3 241.2h0M308.1 242.5h0M308.2 243.4h0M308.0 244.6h0M307.3 246.0h0M308.1 247.6h0M308.0 249.3h0M307.9 251.4h0M307.7 251.6h0M307.9 253.3h0M308.1 254.0h0M308.2 255.9h0M308.1 182.8h0M308.2 184.2h0M308.1 191.4h0M308.2 194.1h0M308.0 200.0h0M308.1 205.5h0M307.8 212.2h0M307.9 214.3h0M308.2 216.0h0M307.8 217.7h0M308.4 220.6h0M308.5 222.5h0M307.9 223.6h0M307.9 224.9h0M307.7 225.8h0M307.8 227.9h0M308.2 229.8h0M308.3 230.5h0M308.5 232.0h0M307.8 232.4h0M308.1 237.2h0M307.8 238.4h0M308.2 240.2h0M308.1 242.1h0M308.0 245.0h0M308.2 246.2h0M308.2 247.1h0M308.4 249.1h0M308.3 250.1h0M308.1 251.1h0M307.8 251.5h0M308.0 254.0h0M307.8 254.8h0M308.0 257.1h0M310.0 190.9h0M310.1 199.9h0M309.8 201.5h0M310.1 202.3h0M309.8 207.0h0M310.0 210.5h0M309.2 211.2h0M309.2 213.1h0M310.0 214.6h0M310.0 218.0h0M309.8 220.3h0M309.9 224.9h0M310.1 225.9h0M309.8 227.6h0M310.0 228.5h0M309.9 229.4h0M309.9 230.3h0M310.1 231.3h0M309.6 232.9h0M309.9 233.1h0M309.7 235.6h0M310.1 237.6h0M309.9 240.0h0M309.5 241.1h0M309.3 242.3h0M310.1 243.3h0M309.2 246.0h0M310.0 250.4h0M309.7 251.4h0M309.8 252.7h0M310.0 255.9h0M309.5 256.5h0M310.1 177.0h0M309.9 187.7h0M310.5 194.0h0M310.4 198.1h0M310.5 202.5h0M309.8 203.1h0M309.6 203.9h0M309.9 211.7h0M310.1 215.5h0M310.1 217.2h0M310.0 218.3h0M310.0 221.0h0M310.1 227.3h0M310.1 228.3h0M310.2 228.8h0M310.4 231.4h0M310.0 231.9h0M310.1 235.0h0M310.3 236.2h0M310.4 237.3h0M310.1 238.8h0M310.0 241.5h0M309.9 242.2h0M309.7 243.2h0M310.3 244.5h0M310.3 245.5h0M309.9 246.6h0M309.8 247.5h0M310.0 249.3h0M310.4 250.7h0M309.8 252.6h0M309.7 253.5h0M309.7 253.9h0M310.1 254.8h0M312.0 187.2h0M311.2 192.0h0M312.0 199.5h0M311.9 200.0h0M311.3 204.9h0M312.3 207.8h0M312.2 212.7h0M312.0 215.0h0M312.4 215.6h0M312.0 216.9h0M311.5 218.5h0M311.3 218.5h0M311.3 220.0h0M312.4 220.7h0M312.0 222.7h0M312.2 223.6h0M312.2 224.9h0M312.0 228.0h0M312.2 229.0h0M312.4 229.7h0M312.0 231.4h0M311.3 231.5h0M312.1 234.4h0M312.3 236.4h0M311.5 237.5h0M311.5 238.3h0M312.0 239.1h0M312.3 239.6h0M312.3 247.1h0M312.1 247.7h0M311.5 250.2h0M312.2 251.5h0M312.1 181.6h0M312.3 190.7h0M312.3 196.3h0M312.2 204.4h0M312.4 204.7h0M312.4 212.9h0M312.1 217.5h0M312.4 219.2h0M312.3 220.6h0M312.3 222.4h0M312.3 225.2h0M312.2 226.3h0M312.2 229.8h0M312.2 231.1h0M312.2 235.3h0M312.0 237.1h0M312.3 238.0h0M312.1 242.3h0M312.3 245.2h0M312.4 251.1h0M312.1 253.3h0M312.4 187.6h0M312.3 188.3h0M312.3 194.1h0M312.2 198.8h0M312.0 206.8h0M312.1 210.1h0M313.2 215.5h0M312.2 224.8h0M313.2 227.5h0M312.3 232.9h0M313.1 233.9h0M312.0 234.6h0M312.2 236.3h0M312.1 237.6h0M313.5 239.1h0M312.3 240.3h0M312.2 242.1h0M312.2 251.0h0M314.1 182.4h0M315.8 199.1h0M315.9 208.1h0M315.6 209.8h0M315.6 210.2h0M315.6 211.1h0M315.7 219.9h0M315.9 224.9h0M315.6 228.6h0M315.7 229.9h0M315.6 230.1h0M315.9 231.3h0M315.5 232.3h0M315.8 239.3h0M315.5 242.4h0M314.1 243.7h0M315.5 244.2h0M316.0 246.9h0M315.8 247.0h0M314.4 248.3h0M316.0 251.2h0M315.6 184.1h0M315.8 204.9h0M315.8 210.9h0M315.9 212.5h0M315.6 213.1h0M315.2 215.3h0M315.8 216.3h0M315.8 217.2h0M315.2 231.8h0M315.8 233.6h0M315.5 234.5h0M315.2 235.0h0M315.8 239.7h0M315.8 240.6h0M315.1 241.6h0M315.7 242.2h0M315.6 245.2h0M315.7 248.2h0M315.8 250.5h0M316.3 185.7h0M315.6 195.4h0M315.8 197.2h0M315.6 199.7h0M315.8 201.2h0M315.8 201.9h0M315.6 203.1h0M316.1 204.8h0M316.2 207.6h0M315.7 209.4h0M315.9 211.1h0M315.8 212.2h0M315.6 213.0h0M316.1 213.9h0M316.2 215.4h0M315.8 217.1h0M315.9 217.6h0M315.6 218.5h0M315.8 220.7h0M316.3 221.7h0M316.3 225.3h0M316.2 226.9h0M316.0 227.9h0M315.9 237.2h0M316.5 238.1h0M315.5 239.2h0M315.9 241.5h0M315.8 242.9h0M316.5 244.4h0M316.4 245.9h0M315.7 248.0h0M316.3 250.2h0M315.9 250.6h0M318.0 167.6h0M317.7 174.3h0M317.6 187.4h0M317.3 192.5h0M317.5 196.8h0M317.6 201.4h0M317.8 205.1h0M317.8 207.3h0M317.6 208.6h0M317.8 210.3h0M317.6 214.7h0M317.1 218.3h0M317.6 219.2h0M317.8 222.8h0M317.9 224.5h0M317.8 225.5h0M317.6 227.1h0M317.7 228.3h0M317.8 237.3h0M317.6 237.6h0M317.6 238.7h0M317.7 240.2h0M317.7 241.5h0M317.5 243.0h0M317.9 245.9h0M317.7 246.9h0M318.2 168.5h0M317.9 168.9h0M318.1 183.8h0M317.6 187.3h0M318.1 191.0h0M318.2 192.2h0M318.5 193.3h0M318.3 199.8h0M318.2 200.8h0M318.1 202.5h0M317.9 202.8h0M317.7 209.1h0M318.2 211.5h0M318.2 214.2h0M317.8 215.6h0M318.4 216.1h0M317.9 218.6h0M318.3 219.0h0M318.2 220.8h0M317.7 222.2h0M318.5 222.9h0M318.1 225.0h0M318.2 225.6h0M318.3 228.3h0M318.1 229.5h0M317.7 232.5h0M317.9 233.4h0M318.1 235.4h0M318.4 236.5h0M318.5 237.8h0M318.1 239.9h0M318.3 241.5h0M318.3 242.3h0M318.2 243.1h0M317.9 244.4h0M317.5 245.3h0M319.4 157.6h0M319.1 164.8h0M319.3 177.0h0M319.3 184.9h0M319.5 190.0h0M319.2 192.3h0M319.3 201.7h0M319.5 206.1h0M319.3 208.4h0M319.3 215.1h0M319.1 216.5h0M319.5 219.8h0M319.2 222.8h0M319.1 226.9h0M319.5 227.9h0M320.4 232.0h0M319.1 233.0h0M319.4 237.2h0M319.2 237.6h0M319.4 240.1h0M319.5 241.3h0M320.4 244.7h0M320.1 149.9h0M320.1 159.6h0M320.2 186.7h0M320.2 188.3h0M320.5 189.8h0M320.1 195.2h0M320.4 204.3h0M320.1 205.4h0M320.4 206.3h0M320.5 207.8h0M320.1 215.3h0M320.4 216.9h0M320.5 218.9h0M320.5 223.7h0M320.2 227.1h0M320.6 229.5h0M320.5 231.4h0M320.2 233.4h0M320.4 234.2h0M320.3 244.0h0M321.3 158.7h0M321.3 165.8h0M321.4 173.5h0M321.2 184.3h0M321.4 187.9h0M320.7 192.9h0M321.2 194.8h0M320.3 196.7h0M320.7 200.2h0M321.4 202.1h0M320.5 203.1h0M320.5 204.5h0M320.5 208.7h0M321.1 209.9h0M321.4 210.6h0M320.3 211.1h0M320.4 212.7h0M321.4 213.2h0M321.4 214.7h0M321.5 215.8h0M320.2 216.2h0M321.4 217.8h0M320.3 219.6h0M321.1 220.9h0M320.6 221.7h0M321.1 223.0h0M321.5 223.9h0M321.4 224.6h0M321.1 227.7h0M321.2 229.0h0M321.5 230.4h0M321.2 231.3h0M320.4 232.3h0M321.3 234.8h0M321.1 235.3h0M320.4 236.9h0M320.3 237.6h0M320.4 238.2h0M320.5 239.5h0M321.3 240.1h0M320.3 242.6h0M321.2 243.9h0M321.1 244.4h0M322.1 141.2h0M322.4 146.0h0M323.6 150.9h0M323.6 156.0h0M323.6 173.0h0M322.3 175.8h0M323.6 177.8h0M322.2 186.2h0M322.5 187.3h0M322.4 188.7h0M323.6 192.8h0M322.2 194.0h0M323.2 194.5h0M323.3 195.7h0M323.3 200.6h0M323.5 201.8h0M323.1 202.4h0M323.3 204.0h0M323.2 204.6h0M322.1 205.3h0M323.5 206.7h0M322.3 207.2h0M323.3 208.3h0M322.2 209.4h0M323.2 210.9h0M323.6 211.2h0M322.4 212.8h0M322.2 213.3h0M322.2 214.7h0M322.1 215.2h0M322.5 217.0h0M323.2 217.2h0M323.6 218.9h0M322.3 219.8h0M322.5 220.2h0M323.5 221.4h0M322.4 222.6h0M322.2 223.7h0M323.4 225.1h0M323.6 225.9h0M322.5 226.7h0M322.4 227.2h0M322.3 228.7h0M322.3 229.8h0M323.2 230.3h0M323.3 231.3h0M322.2 232.2h0M322.4 233.7h0M322.1 234.7h0M322.1 235.8h0M322.2 236.2h0M322.5 237.5h0M322.5 238.5h0M322.4 239.6h0M322.3 240.3h0M322.3 241.2h0M322.5 243.0h0M323.2 243.9h0M322.5 244.9h0M323.5 142.2h0M323.6 143.8h0M323.4 148.9h0M323.2 149.7h0M323.6 153.3h0M323.6 154.8h0M323.5 159.8h0M323.1 162.3h0M323.5 165.3h0M323.4 168.7h0M323.4 174.5h0M323.1 179.8h0M323.1 181.6h0M323.6 184.5h0M323.2 193.3h0M323.5 194.0h0M323.5 195.8h0M323.2 198.0h0M323.2 200.0h0M323.3 201.1h0M323.4 201.8h0M323.5 202.6h0M323.3 204.0h0M323.5 205.6h0M323.3 206.4h0M323.4 207.2h0M323.1 207.9h0M323.6 209.0h0M323.1 210.3h0M323.5 211.1h0M323.3 212.4h0M323.2 212.8h0M323.5 214.6h0M323.4 214.7h0M323.2 216.2h0M323.2 217.3h0M323.2 217.7h0M323.5 219.0h0M323.3 220.2h0M323.3 221.0h0M323.1 222.1h0M323.3 223.4h0M323.4 224.4h0M323.1 225.6h0M323.6 226.5h0M323.2 227.1h0M323.5 228.1h0M323.4 229.1h0M323.2 230.2h0M323.3 230.8h0M323.5 232.2h0M323.1 232.6h0M323.1 234.6h0M323.3 235.4h0M323.1 235.9h0M323.3 237.6h0M323.3 237.9h0M323.4 239.4h0M323.4 239.9h0M323.4 241.0h0M323.3 241.9h0M323.4 242.9h0M323.6 244.1h0M323.4 244.7h0M323.3 246.0h0M323.4 143.2h0M323.6 146.7h0M323.5 147.6h0M324.5 151.3h0M323.6 153.6h0M324.4 155.7h0M324.3 156.4h0M324.5 158.8h0M324.2 159.9h0M324.5 162.7h0M324.4 164.5h0M324.5 165.6h0M324.2 166.8h0M323.1 167.4h0M324.3 168.4h0M324.5 171.9h0M324.5 173.9h0M324.2 176.3h0M323.6 179.0h0M324.1 180.5h0M324.4 184.1h0M324.4 184.6h0M324.5 186.1h0M324.2 189.0h0M324.4 189.3h0M324.5 190.3h0M324.2 191.4h0M324.3 192.3h0M324.5 193.3h0M324.4 196.7h0M324.3 197.3h0M324.3 198.2h0M324.1 199.7h0M324.2 200.3h0M324.2 201.7h0M323.3 203.1h0M324.2 203.5h0M323.6 205.1h0M323.4 206.1h0M324.1 206.8h0M323.5 207.5h0M324.3 208.6h0M323.6 209.4h0M324.5 210.6h0M324.4 211.6h0M323.5 213.0h0M323.6 213.5h0M324.5 214.2h0M324.4 215.3h0M323.4 216.3h0M324.1 217.7h0M324.5 218.9h0M324.2 219.8h0M324.5 220.3h0M323.2 221.7h0M324.5 222.8h0M324.2 223.8h0M324.1 224.6h0M324.5 226.1h0M324.4 226.4h0M323.5 228.0h0M323.2 229.1h0M323.3 229.5h0M323.4 230.9h0M324.1 231.7h0M324.5 233.1h0M323.3 234.0h0M324.2 234.5h0M324.1 235.2h0M324.4 237.1h0M324.3 237.8h0M323.3 238.5h0M324.1 239.2h0M324.4 240.8h0M324.1 241.5h0M324.3 243.0h0M324.5 243.8h0M324.2 245.1h0M323.6 246.1h0M324.2 246.5h0M324.5 247.1h0M325.1 146.2h0M325.4 150.9h0M325.5 151.6h0M326.7 156.0h0M325.3 158.1h0M325.2 165.0h0M325.1 167.2h0M325.2 169.5h0M326.9 174.8h0M325.2 179.3h0M325.2 182.5h0M325.2 184.6h0M325.1 188.0h0M326.6 188.9h0M325.3 190.9h0M325.4 192.4h0M325.4 193.9h0M326.8 195.0h0M325.4 198.3h0M326.7 201.4h0M325.1 202.7h0M325.5 207.2h0M325.5 207.7h0M326.7 210.0h0M326.7 212.4h0M325.5 212.5h0M325.2 214.9h0M325.1 220.4h0M325.1 225.4h0M325.3 225.9h0M326.7 227.2h0M327.0 230.6h0M325.2 234.5h0M325.4 235.7h0M325.4 237.5h0M325.2 243.0h0M325.5 244.2h0M326.6 245.4h0M325.4 245.7h0M325.1 246.4h0M325.4 247.6h0M326.4 135.7h0M326.5 145.5h0M326.3 150.6h0M326.1 165.4h0M326.5 169.1h0M327.0 171.6h0M326.8 175.7h0M326.4 176.3h0M326.4 178.3h0M326.8 185.4h0M326.1 190.2h0M326.3 191.5h0M326.1 193.6h0M326.9 194.7h0M326.5 195.2h0M326.3 196.2h0M326.3 197.2h0M326.3 198.8h0M326.7 213.8h0M326.4 215.3h0M326.4 219.0h0M326.5 220.9h0M326.5 225.0h0M326.5 225.5h0M326.6 229.5h0M326.5 232.5h0M326.6 233.4h0M326.1 234.8h0M326.5 237.7h0M326.1 239.3h0M326.4 242.9h0M326.6 244.4h0M326.5 247.1h0M327.0 249.7h0M326.9 133.5h0M326.6 142.9h0M327.2 153.4h0M327.3 166.4h0M327.5 169.0h0M327.2 170.7h0M327.5 171.2h0M326.7 173.7h0M327.3 177.3h0M327.3 181.1h0M327.3 188.4h0M327.1 190.3h0M327.2 195.1h0M327.2 203.4h0M327.4 205.3h0M327.2 207.6h0M327.1 208.6h0M327.5 210.1h0M326.6 213.6h0M327.1 218.7h0M327.5 220.6h0M327.5 221.6h0M327.0 227.7h0M327.5 230.7h0M326.8 233.2h0M326.7 234.3h0M327.5 242.1h0M327.2 243.6h0M327.5 247.0h0M326.5 247.8h0M328.3 128.9h0M328.3 129.1h0M328.3 134.4h0M328.5 138.2h0M328.4 142.6h0M328.8 146.6h0M328.7 148.3h0M328.1 149.8h0M328.9 157.9h0M329.0 158.3h0M328.4 160.3h0M328.2 172.3h0M328.3 173.4h0M328.5 176.5h0M328.2 180.4h0M328.4 183.0h0M328.5 190.8h0M328.1 192.1h0M328.4 195.8h0M328.5 198.1h0M328.4 201.1h0M328.4 204.0h0M329.0 204.2h0M328.1 212.0h0M328.2 212.4h0M328.8 214.8h0M328.3 218.0h0M328.5 221.2h0M328.1 225.9h0M328.5 226.6h0M328.1 228.7h0M328.9 232.0h0M328.5 237.2h0M328.3 246.9h0M328.2 247.9h0M329.0 248.5h0M328.2 249.8h0M329.2 127.9h0M328.7 132.8h0M329.1 135.3h0M329.5 137.4h0M328.9 137.8h0M329.3 143.2h0M329.2 149.5h0M328.7 155.2h0M328.8 155.8h0M329.3 158.6h0M328.7 163.5h0M329.2 165.0h0M329.1 172.1h0M329.1 176.8h0M329.4 177.7h0M329.5 181.1h0M328.8 183.4h0M329.2 187.1h0M328.7 193.5h0M329.2 194.8h0M328.9 197.4h0M329.2 201.1h0M328.9 202.4h0M329.1 203.2h0M329.3 204.3h0M329.0 209.0h0M328.8 210.4h0M329.4 211.7h0M329.1 213.0h0M329.5 215.0h0M329.3 216.3h0M328.7 216.9h0M328.8 219.2h0M329.4 221.6h0M329.1 221.8h0M329.5 223.0h0M329.2 225.4h0M329.0 226.4h0M329.3 227.5h0M328.8 233.3h0M329.1 237.0h0M329.5 238.0h0M329.5 240.6h0M329.4 241.7h0M329.4 243.3h0M329.5 246.9h0M329.1 249.4h0M329.2 250.5h0M330.5 124.7h0M331.3 135.5h0M330.3 136.5h0M330.4 138.3h0M331.4 141.0h0M330.5 145.2h0M331.1 150.4h0M331.4 153.0h0M331.1 155.3h0M330.2 157.6h0M331.1 162.7h0M330.5 170.5h0M330.3 173.9h0M330.1 179.9h0M330.5 187.8h0M330.3 189.3h0M331.4 190.0h0M330.3 193.0h0M330.3 195.2h0M330.2 197.8h0M330.5 200.9h0M330.4 202.9h0M330.4 206.1h0M330.5 206.8h0M330.1 209.3h0M330.4 211.6h0M330.3 211.8h0M331.2 212.7h0M330.2 213.8h0M330.1 218.2h0M330.4 226.2h0M331.4 228.9h0M330.5 230.5h0M330.4 230.6h0M330.3 232.0h0M330.3 232.9h0M331.1 233.8h0M330.1 234.6h0M330.3 238.1h0M330.4 239.8h0M330.5 240.8h0M330.1 242.0h0M331.0 242.6h0M331.2 244.2h0M330.3 246.5h0M330.4 247.2h0M330.1 247.9h0M331.2 250.0h0M331.3 128.3h0M331.2 137.1h0M331.2 142.4h0M331.0 143.7h0M331.0 146.3h0M331.4 150.6h0M331.1 153.4h0M331.3 160.4h0M331.5 164.7h0M331.5 173.0h0M331.1 178.0h0M331.2 180.8h0M331.2 181.8h0M331.1 183.4h0M331.4 185.3h0M331.3 192.1h0M331.5 193.7h0M331.5 195.1h0M331.1 196.3h0M331.3 198.4h0M331.1 199.7h0M331.4 206.8h0M331.1 207.6h0M331.1 209.3h0M331.1 211.0h0M331.3 212.4h0M331.0 213.1h0M331.4 214.5h0M331.5 216.4h0M331.4 218.8h0M331.2 220.6h0M331.3 224.5h0M331.5 225.4h0M331.0 226.9h0M331.1 227.9h0M331.2 234.1h0M331.2 236.8h0M331.5 237.8h0M331.5 238.9h0M331.2 240.0h0M331.2 240.9h0M331.1 241.6h0M331.2 242.9h0M331.1 245.0h0M331.2 247.6h0M331.4 248.8h0M332.3 134.5h0M332.2 135.3h0M332.5 142.8h0M332.5 147.5h0M331.3 152.3h0M332.2 155.0h0M331.4 156.2h0M331.4 158.0h0M332.2 160.2h0M332.2 162.4h0M331.4 165.5h0M332.1 167.4h0M331.3 176.7h0M331.3 182.7h0M332.3 189.2h0M331.1 193.4h0M332.1 194.3h0M331.4 199.5h0M332.5 207.9h0M332.2 209.7h0M332.1 211.1h0M332.3 212.4h0M332.4 218.5h0M332.5 219.1h0M332.5 219.9h0M332.4 221.9h0M332.1 223.5h0M331.1 223.6h0M332.5 230.5h0M332.1 230.8h0M332.3 233.0h0M332.5 236.2h0M332.3 238.0h0M332.2 241.9h0M332.1 243.3h0M332.1 243.6h0M332.5 245.2h0M332.1 249.3h0M332.1 249.6h0M333.3 128.9h0M333.1 132.9h0M333.1 140.0h0M333.2 140.7h0M333.1 142.8h0M333.3 151.5h0M333.2 199.7h0M333.3 208.7h0M333.3 211.5h0M333.4 212.9h0M333.7 213.1h0M333.5 214.3h0M333.4 216.3h0M333.2 221.0h0M333.5 221.4h0M333.3 227.5h0M333.4 228.2h0M333.2 231.0h0M333.1 235.8h0M333.1 238.4h0M333.4 239.8h0M333.3 242.5h0M334.3 131.8h0M334.4 132.5h0M334.4 143.1h0M334.2 146.3h0M334.3 161.1h0M334.4 208.7h0M333.4 209.9h0M334.1 213.9h0M333.7 214.4h0M334.5 215.3h0M334.4 220.1h0M334.4 222.1h0M333.5 224.8h0M334.2 225.1h0M334.2 228.8h0M334.1 229.6h0M334.2 231.0h0M334.3 233.8h0M334.5 235.6h0M334.3 238.4h0M334.1 242.1h0M333.2 245.0h0M334.2 250.4h0M335.3 130.1h0M335.3 146.8h0M335.3 148.3h0M335.5 150.3h0M335.9 156.9h0M335.2 159.9h0M335.2 160.5h0M335.3 163.4h0M335.3 165.7h0M335.8 169.7h0M336.1 170.3h0M335.9 174.1h0M335.3 175.5h0M335.7 177.7h0M335.4 179.4h0M336.2 183.6h0M335.2 184.8h0M336.0 185.1h0M335.4 189.1h0M335.4 190.9h0M335.5 191.7h0M335.3 193.7h0M335.4 194.3h0M335.2 195.5h0M335.4 196.8h0M335.5 198.3h0M335.9 200.8h0M335.1 201.3h0M335.1 202.8h0M336.2 206.4h0M335.3 207.8h0M335.1 209.3h0M335.5 210.1h0M335.8 211.9h0M336.2 212.2h0M335.5 213.4h0M336.2 215.5h0M336.2 217.8h0M335.1 220.1h0M335.2 220.9h0M335.4 222.0h0M336.1 223.4h0M335.5 224.9h0M335.8 228.1h0M336.1 229.6h0M335.4 230.4h0M336.1 232.7h0M335.5 233.4h0M335.4 234.6h0M336.0 235.2h0M335.3 236.7h0M335.5 237.7h0M336.2 239.8h0M335.3 240.9h0M335.1 241.4h0M335.4 242.5h0M335.5 245.6h0M335.3 246.8h0M335.3 248.3h0M336.0 250.2h0M336.5 127.2h0M336.1 134.9h0M336.4 136.6h0M336.2 138.0h0M336.4 140.4h0M336.3 143.5h0M336.0 145.3h0M336.1 147.1h0M336.3 148.7h0M336.1 153.7h0M336.4 156.8h0M336.1 158.4h0M336.5 161.4h0M336.2 162.2h0M335.8 163.8h0M336.3 164.4h0M335.8 170.3h0M336.5 171.6h0M336.1 172.1h0M335.8 173.9h0M336.5 174.9h0M336.5 179.5h0M336.3 181.0h0M336.2 182.0h0M336.2 182.5h0M336.2 184.6h0M336.2 186.1h0M336.1 188.0h0M336.4 194.5h0M336.1 199.3h0M336.5 201.0h0M335.8 201.4h0M335.9 202.6h0M336.4 205.4h0M335.8 206.6h0M336.1 210.8h0M336.0 214.3h0M336.1 215.8h0M336.3 216.7h0M336.4 217.4h0M336.5 224.7h0M336.1 228.6h0M336.2 229.5h0M335.8 230.6h0M336.3 231.3h0M336.3 232.9h0M336.0 234.2h0M336.5 235.1h0M336.3 236.5h0M336.1 237.6h0M335.7 238.6h0M336.4 239.9h0M336.2 240.5h0M336.2 241.8h0M336.2 246.8h0M336.1 247.7h0M336.4 250.9h0M337.5 132.6h0M338.5 135.3h0M337.5 142.8h0M337.1 149.8h0M337.1 151.4h0M337.2 153.2h0M337.3 156.6h0M337.5 158.8h0M337.3 159.9h0M337.2 162.0h0M337.1 164.9h0M338.6 166.9h0M337.4 167.8h0M337.2 169.7h0M337.1 170.8h0M337.1 176.5h0M337.1 179.6h0M337.4 180.8h0M337.3 181.2h0M338.6 182.3h0M337.1 183.8h0M337.5 186.1h0M337.1 188.0h0M337.3 188.6h0M338.6 193.7h0M338.4 195.2h0M337.1 201.9h0M337.5 203.3h0M338.6 204.5h0M338.6 205.7h0M337.2 206.5h0M338.4 207.4h0M337.1 210.2h0M338.7 212.1h0M337.4 214.9h0M337.3 218.0h0M337.3 219.6h0M337.2 223.7h0M337.4 224.8h0M337.4 225.1h0M337.5 227.0h0M337.5 227.8h0M338.4 229.0h0M337.4 229.1h0M338.4 230.1h0M338.6 231.6h0M337.1 232.7h0M337.2 234.1h0M338.6 237.2h0M338.5 238.4h0M337.1 241.8h0M337.3 243.2h0M337.5 247.3h0M337.2 250.3h0M338.7 251.9h0M338.1 132.6h0M338.4 135.8h0M338.2 136.7h0M338.4 140.7h0M338.1 141.6h0M338.7 146.6h0M338.2 150.3h0M338.1 155.6h0M338.5 164.7h0M338.5 165.3h0M338.3 170.0h0M338.3 172.4h0M338.1 173.6h0M338.3 177.8h0M338.1 178.7h0M338.5 179.3h0M338.2 181.4h0M338.5 183.4h0M338.5 186.2h0M338.5 187.8h0M338.8 189.1h0M338.2 190.9h0M338.1 191.7h0M338.8 193.8h0M338.2 195.1h0M338.5 196.0h0M338.1 196.9h0M338.3 198.1h0M338.3 201.9h0M338.1 204.5h0M338.7 205.5h0M338.5 208.3h0M338.4 210.7h0M338.4 214.7h0M338.5 215.3h0M338.7 216.7h0M338.6 219.0h0M338.2 220.7h0M338.5 221.1h0M338.1 222.3h0M338.4 223.8h0M338.3 224.1h0M338.3 227.9h0M338.7 228.2h0M338.1 229.4h0M338.2 231.3h0M338.4 234.8h0M338.3 239.0h0M338.5 239.6h0M338.2 241.1h0M338.6 241.5h0M338.4 243.9h0M338.1 244.5h0M338.1 245.5h0M338.7 246.3h0M338.4 247.9h0M338.6 248.6h0M338.1 249.5h0M338.1 252.6h0M339.4 138.0h0M339.5 139.6h0M339.3 141.9h0M339.4 143.9h0M338.8 151.4h0M339.1 159.1h0M338.8 160.4h0M339.3 163.0h0M339.2 167.0h0M338.7 171.9h0M339.3 182.3h0M338.4 184.8h0M339.4 187.8h0M339.1 188.7h0M338.4 189.4h0M339.3 191.7h0M339.3 193.0h0M339.5 199.2h0M339.4 207.2h0M339.4 207.7h0M338.6 211.2h0M338.8 212.0h0M339.3 214.2h0M339.5 214.5h0M339.1 215.8h0M339.1 216.7h0M339.2 217.5h0M338.4 218.3h0M339.4 222.1h0M339.5 222.9h0M339.1 224.1h0M338.7 226.0h0M339.3 227.1h0M339.3 228.0h0M339.1 231.1h0M339.2 232.7h0M339.4 236.1h0M339.5 238.1h0M338.7 240.5h0M339.5 244.5h0M339.3 245.5h0M338.6 249.9h0M339.3 250.8h0M339.3 251.6h0M340.2 130.8h0M338.4 140.3h0M340.5 151.3h0M340.2 154.9h0M338.7 158.5h0M340.4 164.3h0M338.7 167.6h0M340.1 175.4h0M340.3 180.1h0M340.4 180.3h0M340.4 181.8h0M338.5 183.0h0M340.1 188.9h0M338.5 189.9h0M340.4 191.5h0M338.8 194.0h0M340.3 198.3h0M340.2 199.3h0M340.4 201.9h0M340.5 204.6h0M340.1 205.5h0M340.3 207.2h0M338.4 207.9h0M340.3 208.6h0M340.4 210.1h0M338.7 210.2h0M340.2 211.9h0M338.6 214.8h0M338.8 217.4h0M338.4 218.9h0M338.4 219.4h0M340.5 220.5h0M338.4 221.4h0M338.3 224.0h0M338.7 225.1h0M340.2 225.6h0M340.1 226.3h0M340.5 229.1h0M340.4 229.3h0M340.1 230.5h0M340.4 233.1h0M340.2 235.8h0M338.6 237.8h0M340.2 240.8h0M340.4 244.2h0M340.2 247.2h0M340.4 247.6h0M340.3 249.8h0M340.1 250.8h0M338.4 251.9h0M341.9 127.7h0M341.2 129.3h0M341.3 133.9h0M342.0 134.7h0M341.1 138.7h0M341.4 146.1h0M341.2 148.8h0M341.4 149.7h0M341.4 158.3h0M341.1 160.1h0M342.3 162.9h0M341.3 165.0h0M341.5 165.5h0M341.9 171.1h0M341.3 174.1h0M341.1 180.6h0M341.2 181.7h0M341.9 182.5h0M342.2 183.9h0M341.4 192.0h0M341.2 192.8h0M341.3 197.8h0M341.1 200.1h0M341.4 202.2h0M342.0 203.0h0M341.9 204.5h0M342.0 206.8h0M341.3 212.8h0M341.4 213.5h0M342.2 216.4h0M341.1 217.4h0M342.1 219.0h0M341.4 223.0h0M341.1 229.4h0M341.2 231.0h0M342.0 232.7h0M341.3 234.0h0M342.3 236.8h0M342.3 237.9h0M341.2 238.9h0M341.1 239.6h0M341.3 241.0h0M342.3 241.4h0M341.1 242.7h0M341.3 244.0h0M341.1 244.4h0M342.2 247.4h0M342.2 128.6h0M342.1 131.7h0M341.9 136.0h0M342.3 143.8h0M342.5 144.7h0M342.5 147.0h0M342.5 151.7h0M342.5 154.7h0M342.3 155.5h0M342.2 158.1h0M342.2 160.0h0M342.1 161.5h0M342.1 165.0h0M342.2 166.4h0M342.1 169.1h0M342.4 171.4h0M342.2 175.8h0M342.1 178.3h0M342.0 179.7h0M342.1 186.6h0M342.1 191.4h0M342.2 192.4h0M342.2 194.4h0M342.1 198.9h0M342.4 200.9h0M342.3 202.2h0M342.4 202.7h0M342.2 203.6h0M342.2 205.0h0M342.4 206.9h0M342.3 209.7h0M342.1 213.2h0M342.4 215.4h0M342.4 220.6h0M342.1 223.5h0M342.0 225.6h0M342.2 226.6h0M342.3 227.7h0M342.1 230.9h0M342.1 233.0h0M342.2 234.3h0M342.1 236.1h0M342.3 236.7h0M342.5 238.4h0M342.4 241.9h0M341.9 242.6h0M342.2 245.2h0M342.5 246.3h0M341.9 247.8h0M342.3 248.6h0M342.1 249.6h0M342.3 252.5h0M342.3 142.3h0M342.0 146.6h0M343.3 148.9h0M343.2 149.4h0M343.3 151.6h0M343.5 153.8h0M343.4 157.1h0M342.3 162.3h0M342.0 163.9h0M343.3 164.6h0M343.4 168.4h0M342.3 170.7h0M343.2 175.5h0M342.1 181.4h0M343.2 186.6h0M343.4 190.7h0M343.4 191.5h0M343.2 197.2h0M343.2 198.8h0M343.4 200.8h0M341.9 202.8h0M343.1 203.6h0M343.3 204.5h0M343.4 205.5h0M343.2 213.2h0M343.5 216.3h0M343.2 218.5h0M343.4 220.8h0M343.4 221.1h0M343.2 223.6h0M342.1 224.7h0M342.0 226.8h0M343.3 228.0h0M342.1 229.6h0M343.5 230.8h0M342.3 231.0h0M343.2 233.2h0M343.3 235.7h0M343.5 236.8h0M342.2 237.1h0M343.3 238.1h0M343.5 239.0h0M343.2 240.6h0M343.3 242.1h0M342.1 243.0h0M342.0 244.4h0M342.1 245.6h0M343.4 246.0h0M343.4 249.6h0M343.3 251.8h0M343.1 252.9h0M342.3 253.0h0M345.5 130.3h0M345.5 132.3h0M345.3 151.7h0M344.2 157.1h0M344.5 163.2h0M344.5 164.6h0M344.2 166.3h0M344.4 167.1h0M344.5 169.5h0M344.5 175.2h0M344.4 177.7h0M345.3 182.5h0M344.1 186.7h0M344.4 194.8h0M344.3 195.7h0M344.5 197.0h0M344.3 198.7h0M344.4 199.6h0M344.4 200.0h0M345.4 201.8h0M345.5 203.4h0M344.1 204.0h0M345.4 205.9h0M345.4 206.5h0M344.4 207.4h0M344.1 208.4h0M344.1 210.8h0M344.3 212.1h0M345.5 215.9h0M345.6 218.9h0M344.3 219.2h0M345.4 222.7h0M344.2 223.1h0M344.5 228.9h0M344.4 230.9h0M344.1 231.9h0M344.4 233.2h0M344.1 235.8h0M345.7 236.0h0M344.3 237.0h0M344.5 238.3h0M344.1 239.4h0M344.1 240.9h0M344.2 241.5h0M344.5 242.4h0M344.2 243.9h0M344.5 244.7h0M344.1 246.4h0M344.3 247.3h0M344.1 251.3h0M344.2 252.8h0M344.1 253.6h0M345.4 127.4h0M345.4 130.3h0M345.3 134.4h0M345.4 138.0h0M345.2 139.6h0M345.4 152.7h0M345.3 154.1h0M345.3 157.6h0M345.5 159.5h0M345.6 163.2h0M345.3 164.8h0M345.3 166.6h0M345.6 169.7h0M345.5 172.3h0M345.2 174.4h0M345.1 178.8h0M345.3 181.1h0M345.4 182.9h0M345.4 185.7h0M345.4 186.9h0M345.5 191.6h0M345.3 192.9h0M345.4 195.6h0M345.2 196.4h0M345.1 198.3h0M345.2 201.7h0M345.4 202.9h0M345.3 204.1h0M345.4 205.8h0M345.1 208.8h0M345.5 210.7h0M345.3 211.6h0M345.2 213.1h0M345.4 214.1h0M345.2 214.6h0M345.5 217.0h0M345.1 218.1h0M345.2 222.3h0M345.5 224.2h0M345.5 225.1h0M345.5 226.6h0M345.3 227.4h0M345.1 228.7h0M345.5 229.4h0M345.6 231.7h0M345.1 232.9h0M345.5 233.5h0M345.1 236.3h0M345.3 237.4h0M345.4 239.0h0M345.3 239.9h0M345.4 242.0h0M345.3 244.6h0M345.3 246.2h0M345.1 246.9h0M345.4 247.5h0M345.3 248.4h0M345.2 249.5h0M345.5 252.2h0M345.6 253.0h0M345.4 254.0h0M346.5 128.8h0M346.5 130.0h0M346.5 132.1h0M346.5 138.8h0M346.1 139.6h0M345.6 152.5h0M345.5 154.0h0M346.2 155.3h0M346.2 160.5h0M346.3 161.9h0M346.2 163.4h0M346.1 165.2h0M346.5 177.6h0M346.3 181.6h0M345.2 183.7h0M346.2 185.4h0M346.3 186.9h0M345.2 187.8h0M345.2 190.1h0M345.2 192.7h0M346.1 195.7h0M346.3 196.8h0M345.4 200.0h0M345.6 202.1h0M345.5 203.2h0M345.6 204.0h0M346.1 206.5h0M346.1 209.7h0M345.3 210.6h0M346.2 211.4h0M345.3 213.0h0M346.3 217.9h0M346.1 220.0h0M346.1 221.5h0M346.3 223.0h0M346.5 224.0h0M346.3 224.9h0M345.6 225.9h0M346.3 228.7h0M345.3 230.1h0M345.6 230.5h0M345.5 234.1h0M346.5 236.7h0M346.4 237.6h0M346.5 240.8h0M346.3 242.8h0M346.1 244.3h0M346.3 245.1h0M346.5 246.2h0M346.1 248.2h0M345.7 249.1h0M345.6 250.6h0M346.5 251.6h0M346.2 252.4h0M346.2 253.7h0M347.4 132.1h0M347.1 138.9h0M348.6 143.6h0M348.6 145.6h0M348.7 147.3h0M347.3 152.2h0M347.5 155.3h0M348.9 156.5h0M347.5 157.3h0M348.7 163.0h0M347.1 170.5h0M347.2 172.2h0M347.2 173.3h0M347.1 173.9h0M348.8 175.3h0M348.7 176.3h0M349.0 177.6h0M347.4 178.7h0M349.0 179.8h0M347.2 182.2h0M347.1 183.3h0M348.8 184.5h0M347.2 187.0h0M347.2 188.5h0M347.1 188.9h0M348.6 189.8h0M347.4 192.6h0M347.3 193.8h0M347.1 197.4h0M348.9 198.3h0M347.1 204.4h0M347.2 207.1h0M347.2 208.6h0M347.2 209.6h0M347.1 210.5h0M347.3 212.0h0M347.4 214.6h0M347.5 215.8h0M347.1 218.6h0M348.7 218.8h0M347.3 220.8h0M347.5 222.7h0M347.3 222.8h0M348.9 226.9h0M347.1 230.2h0M347.5 230.8h0M347.1 232.2h0M347.4 234.4h0M347.3 235.6h0M348.6 236.5h0M347.5 236.7h0M347.3 238.6h0M347.1 241.1h0M347.1 242.6h0M347.1 244.1h0M347.1 245.1h0M348.8 247.2h0M349.0 248.9h0M347.3 250.2h0M347.2 251.2h0M349.0 252.1h0M347.4 253.2h0M348.4 126.3h0M348.7 127.7h0M348.5 130.1h0M348.4 134.1h0M348.3 136.7h0M348.4 140.3h0M348.5 147.0h0M348.2 153.3h0M348.5 158.7h0M349.0 159.5h0M349.0 160.0h0M348.6 162.1h0M348.2 168.1h0M349.0 174.1h0M348.5 175.6h0M348.5 176.9h0M349.0 177.7h0M348.7 178.5h0M348.3 182.4h0M348.5 183.8h0M348.1 184.6h0M348.8 185.9h0M348.5 186.8h0M348.1 187.6h0M348.1 189.6h0M348.5 190.3h0M348.3 192.1h0M348.7 194.1h0M349.0 195.4h0M348.7 196.9h0M348.2 198.6h0M348.8 200.3h0M348.2 201.2h0M348.4 204.2h0M348.3 205.0h0M348.3 207.5h0M348.3 208.2h0M348.3 210.6h0M348.1 211.2h0M348.2 212.9h0M348.3 214.1h0M348.4 216.0h0M348.1 219.8h0M348.1 220.9h0M348.4 222.6h0M348.4 223.5h0M348.4 224.4h0M348.4 225.0h0M348.1 227.1h0M348.4 228.9h0M348.5 230.1h0M348.5 231.6h0M348.3 232.4h0M348.1 233.5h0M348.4 234.3h0M348.5 235.1h0M348.3 236.8h0M348.2 237.9h0M348.5 238.8h0M348.8 239.2h0M348.7 241.4h0M348.1 242.2h0M348.9 243.4h0M348.8 244.6h0M348.3 245.1h0M348.4 246.8h0M348.2 247.8h0M349.0 248.4h0M348.7 249.2h0M348.4 250.6h0M348.6 252.0h0M348.3 253.3h0M348.5 254.7h0M348.7 132.7h0M349.5 137.4h0M349.2 137.9h0M349.5 138.6h0M349.2 145.1h0M349.5 146.0h0M349.3 147.3h0M349.1 148.1h0M349.3 149.4h0M349.2 152.3h0M349.3 153.6h0M348.7 156.9h0M349.1 163.8h0M349.3 164.6h0M348.9 165.7h0M349.5 167.3h0M348.9 168.0h0M349.3 170.4h0M349.1 174.9h0M349.2 177.8h0M349.3 183.6h0M349.2 185.7h0M349.2 187.6h0M349.1 191.0h0M349.4 191.9h0M349.4 192.6h0M349.5 194.2h0M349.5 194.9h0M349.1 195.4h0M349.4 198.4h0M349.5 200.5h0M349.5 202.1h0M349.4 207.1h0M349.0 210.8h0M349.4 212.9h0M348.8 214.1h0M349.2 214.7h0M349.5 215.8h0M349.3 217.1h0M349.0 218.3h0M348.6 218.7h0M348.6 219.4h0M349.5 222.3h0M349.5 223.6h0M349.0 224.7h0M349.1 225.4h0M349.4 226.7h0M349.1 227.8h0M349.3 228.5h0M349.2 230.4h0M349.4 233.4h0M349.5 236.1h0M349.2 236.6h0M349.2 238.0h0M349.2 239.3h0M349.4 239.5h0M349.2 243.0h0M349.2 243.5h0M349.5 245.0h0M349.5 246.2h0M349.1 247.1h0M349.3 247.9h0M349.3 249.3h0M349.1 249.5h0M349.4 251.3h0M348.7 251.4h0M349.4 253.4h0M350.5 129.9h0M350.5 146.8h0M350.6 148.4h0M350.3 150.5h0M350.7 154.5h0M350.4 158.4h0M350.1 159.2h0M350.4 160.1h0M350.7 161.9h0M350.4 168.3h0M350.1 169.4h0M350.4 171.7h0M350.6 173.4h0M350.1 174.8h0M350.5 176.3h0M350.9 178.5h0M350.4 180.8h0M350.1 181.4h0M350.8 182.9h0M350.5 183.9h0M350.5 186.3h0M350.6 187.4h0M350.2 194.7h0M350.1 198.3h0M350.1 199.2h0M350.1 200.9h0M350.5 203.5h0M350.3 204.7h0M350.4 206.4h0M350.2 208.7h0M350.1 209.0h0M350.3 211.9h0M350.3 212.9h0M350.1 217.7h0M350.5 218.1h0M350.2 221.6h0M350.5 222.7h0M350.1 222.9h0M350.3 224.7h0M350.2 225.7h0M350.4 226.5h0M350.5 227.3h0M350.2 229.0h0M350.2 230.4h0M350.6 231.7h0M350.2 232.5h0M350.9 233.3h0M350.4 235.7h0M350.1 236.9h0M350.3 238.9h0M350.2 239.9h0M350.9 240.9h0M350.3 242.7h0M350.4 243.3h0M350.4 244.0h0M350.2 245.6h0M350.5 246.8h0M350.7 247.3h0M350.1 248.4h0M350.4 249.4h0M350.2 251.1h0M350.5 253.7h0M350.2 254.6h0M351.4 136.3h0M351.3 137.2h0M351.5 144.0h0M351.2 146.2h0M351.2 147.3h0M351.2 148.3h0M351.5 153.8h0M351.2 155.3h0M351.4 158.3h0M351.4 159.3h0M351.3 160.6h0M351.3 176.9h0M350.7 178.8h0M351.3 179.8h0M350.5 180.3h0M351.3 183.0h0M350.6 184.5h0M351.1 187.5h0M351.5 188.4h0M351.3 189.8h0M351.1 191.6h0M351.5 192.3h0M351.5 194.5h0M351.3 196.1h0M351.4 200.2h0M350.5 201.2h0M350.4 202.7h0M351.2 203.3h0M351.1 205.1h0M350.6 205.9h0M351.3 207.1h0M351.5 209.2h0M350.5 209.8h0M351.2 210.7h0M351.3 213.0h0M351.4 214.9h0M351.4 219.1h0M351.4 219.4h0M351.5 220.8h0M351.2 222.1h0M350.8 223.1h0M350.5 224.0h0M351.3 224.7h0M351.1 227.1h0M350.7 228.0h0M351.2 228.4h0M351.1 231.1h0M351.4 231.8h0M350.9 232.4h0M351.2 234.2h0M351.2 236.0h0M350.9 237.0h0M351.5 237.4h0M350.5 238.9h0M351.4 240.0h0M350.8 241.1h0M350.6 241.6h0M350.4 242.6h0M350.9 243.7h0M351.2 245.1h0M351.3 246.0h0M351.1 246.5h0M351.4 247.4h0M350.7 248.8h0M351.5 249.5h0M350.9 251.2h0M351.3 253.6h0M351.5 254.5h0M352.7 143.6h0M352.1 151.0h0M352.3 163.8h0M352.3 172.9h0M352.2 181.2h0M352.5 182.4h0M352.4 184.4h0M352.5 190.1h0M352.7 198.5h0M352.5 209.3h0M352.1 210.6h0M352.7 212.5h0M352.4 212.9h0M352.6 217.3h0M352.7 218.2h0M352.4 230.9h0M352.3 237.6h0M352.2 243.4h0M352.4 244.4h0M352.1 250.4h0M352.3 255.1h0M353.1 137.1h0M353.4 140.2h0M352.6 141.5h0M353.5 142.3h0M353.4 146.6h0M352.5 155.0h0M352.5 160.7h0M353.4 172.1h0M353.2 175.8h0M353.3 185.1h0M353.1 200.6h0M353.4 205.0h0M353.4 211.4h0M353.3 212.7h0M352.5 216.4h0M353.1 223.2h0M352.5 225.6h0M353.1 229.5h0M353.4 240.1h0M353.5 248.8h0M352.4 251.4h0M354.5 136.9h0M354.3 163.8h0M354.1 169.5h0M354.1 178.5h0M354.1 182.7h0M354.3 183.9h0M354.3 192.5h0M354.3 203.4h0M354.1 210.2h0M354.5 217.1h0M355.4 230.8h0M354.3 231.7h0M354.1 233.8h0M354.3 237.0h0M355.6 248.2h0M354.5 253.1h0M355.5 139.2h0M355.4 153.7h0M355.1 163.5h0M355.3 175.3h0M355.4 179.1h0M355.6 186.0h0M355.3 190.4h0M355.2 192.9h0M355.4 196.4h0M355.1 199.6h0M355.4 200.9h0M355.5 205.8h0M355.5 210.3h0M355.3 211.4h0M355.1 212.6h0M355.1 212.9h0M355.4 214.4h0M355.2 220.2h0M355.4 221.0h0M355.3 228.9h0M355.8 230.4h0M355.7 232.5h0M355.6 233.5h0M355.2 236.7h0M355.5 238.4h0M355.2 243.3h0M355.2 246.8h0M355.3 253.1h0M355.5 254.8h0M356.2 134.8h0M355.4 135.9h0M356.1 139.3h0M356.2 141.0h0M355.4 144.6h0M356.1 146.1h0M356.3 147.5h0M356.4 154.7h0M356.1 157.7h0M355.7 158.4h0M356.3 162.3h0M356.1 168.4h0M356.2 173.1h0M355.7 176.3h0M356.5 179.4h0M355.5 181.9h0M355.5 187.1h0M356.1 197.5h0M356.1 203.8h0M356.1 204.4h0M356.3 205.7h0M355.6 206.8h0M356.3 210.7h0M355.8 211.7h0M356.5 213.3h0M356.1 215.9h0M356.1 220.1h0M356.4 220.2h0M355.6 221.4h0M356.2 223.5h0M356.5 228.0h0M355.4 228.6h0M356.4 230.1h0M356.4 231.9h0M355.6 232.7h0M356.3 233.5h0M356.1 235.8h0M356.5 237.9h0M356.2 242.4h0M355.4 243.2h0M355.7 246.9h0M356.1 247.1h0M356.4 248.7h0M355.5 249.3h0M355.8 250.7h0M356.4 254.6h0M359.1 136.1h0M357.1 142.9h0M357.4 143.1h0M357.1 145.5h0M357.2 154.9h0M357.3 157.6h0M357.5 165.5h0M357.1 167.6h0M357.3 169.0h0M357.2 171.1h0M357.3 175.4h0M357.4 177.2h0M358.8 179.1h0M358.8 181.0h0M359.1 183.8h0M359.0 185.3h0M357.4 186.2h0M357.5 188.7h0M358.9 190.5h0M357.2 192.6h0M357.3 193.1h0M359.2 195.6h0M358.8 197.9h0M357.3 201.3h0M359.2 204.5h0M357.1 205.7h0M357.2 208.0h0M357.5 208.3h0M357.3 210.9h0M357.2 213.8h0M357.5 214.9h0M357.4 215.5h0M357.2 216.2h0M357.5 217.9h0M357.5 218.5h0M357.3 220.0h0M357.1 221.3h0M357.4 223.0h0M357.2 223.1h0M358.9 229.6h0M359.1 231.1h0M359.2 231.9h0M357.1 233.5h0M358.9 234.5h0M357.4 236.3h0M357.1 237.6h0M357.5 238.2h0M357.2 239.3h0M358.9 240.6h0M357.1 242.5h0M359.2 245.0h0M357.4 246.7h0M358.9 247.5h0M357.5 249.7h0M357.5 253.7h0M358.3 136.0h0M358.8 138.0h0M358.8 142.1h0M358.5 144.3h0M358.4 147.4h0M358.8 150.0h0M358.9 152.6h0M358.1 154.4h0M359.2 160.8h0M358.3 163.8h0M358.1 164.3h0M358.4 165.6h0M359.0 167.8h0M358.5 173.9h0M358.2 177.3h0M358.5 183.4h0M358.4 185.2h0M359.2 190.7h0M358.5 191.5h0M358.4 193.7h0M358.5 197.2h0M359.0 199.5h0M358.2 205.5h0M358.4 207.6h0M359.2 208.6h0M359.1 212.9h0M358.1 213.7h0M358.2 218.2h0M359.0 219.3h0M358.9 222.0h0M359.0 223.1h0M358.9 223.4h0M358.5 227.1h0M358.3 227.5h0M358.4 228.7h0M358.3 230.4h0M358.4 231.6h0M359.2 232.7h0M358.3 234.8h0M358.2 236.0h0M358.3 237.7h0M359.2 239.5h0M358.2 240.4h0M358.4 242.0h0M358.2 242.6h0M359.0 244.5h0M359.2 245.8h0M358.5 247.5h0M359.1 249.0h0M358.5 251.0h0M359.2 251.3h0M358.2 254.4h0M359.4 144.6h0M359.1 147.5h0M359.2 149.0h0M359.3 149.2h0M359.2 150.7h0M358.8 153.6h0M359.2 156.4h0M359.1 157.7h0M359.3 158.4h0M359.2 161.6h0M358.9 162.5h0M359.1 166.2h0M359.4 168.9h0M359.2 169.3h0M359.1 170.6h0M359.5 175.8h0M359.2 176.3h0M359.2 179.4h0M359.5 181.8h0M359.1 182.7h0M359.1 184.4h0M359.4 185.5h0M359.5 187.1h0M359.3 187.5h0M359.5 190.4h0M359.0 192.8h0M359.5 196.3h0M359.3 199.9h0M359.2 203.0h0M359.5 207.7h0M359.4 209.0h0M359.1 210.3h0M359.4 219.6h0M359.1 220.8h0M359.3 221.7h0M359.1 223.9h0M359.2 224.3h0M359.2 227.6h0M359.2 228.4h0M358.9 229.9h0M359.2 231.6h0M359.2 232.5h0M359.3 233.5h0M359.5 236.8h0M358.9 238.1h0M359.3 241.8h0M359.1 242.9h0M359.3 244.0h0M359.4 248.4h0M359.1 251.4h0M359.1 252.7h0M359.5 253.4h0M359.2 255.0h0M360.5 141.0h0M359.0 141.9h0M360.4 145.3h0M359.1 148.8h0M360.1 152.4h0M360.3 154.3h0M360.1 159.4h0M360.5 160.9h0M360.5 166.2h0M360.5 168.3h0M360.1 174.7h0M360.5 175.8h0M360.4 176.8h0M360.5 181.5h0M358.8 185.1h0M360.5 187.1h0M360.3 190.2h0M358.9 192.6h0M360.3 196.2h0M360.4 201.3h0M360.5 202.2h0M360.4 203.2h0M360.5 206.9h0M358.8 207.9h0M360.1 210.2h0M360.3 214.6h0M359.2 215.8h0M358.8 218.0h0M359.2 219.0h0M360.5 219.8h0M359.0 221.5h0M360.4 222.6h0M360.1 225.3h0M360.1 226.1h0M360.1 227.6h0M360.1 230.2h0M360.2 232.8h0M360.3 234.8h0M360.5 235.4h0M360.1 237.1h0M360.1 238.7h0M359.2 239.8h0M358.8 242.5h0M358.8 244.0h0M360.1 245.8h0M360.3 247.9h0M360.1 251.8h0M360.5 253.7h0M360.3 254.6h0M361.3 143.0h0M361.4 148.6h0M361.3 149.9h0M361.3 158.6h0M361.3 164.7h0M361.6 166.8h0M361.6 172.3h0M361.6 172.9h0M361.4 175.2h0M361.5 176.1h0M361.8 177.1h0M361.5 179.0h0M361.1 181.1h0M361.2 182.1h0M361.4 186.3h0M361.5 187.9h0M361.6 188.6h0M361.2 190.6h0M361.7 193.8h0M361.5 194.6h0M361.5 196.0h0M361.4 202.2h0M361.4 206.7h0M361.1 208.8h0M361.1 209.6h0M361.3 211.8h0M361.5 217.8h0M361.2 220.2h0M361.6 220.7h0M361.4 223.7h0M361.6 225.8h0M361.3 227.6h0M361.3 229.1h0M361.7 230.3h0M361.5 233.0h0M361.1 235.1h0M361.3 236.5h0M361.2 237.8h0M361.7 240.4h0M361.2 242.1h0M361.3 243.1h0M361.2 244.2h0M361.2 245.6h0M361.2 246.6h0M361.1 248.8h0M361.1 250.2h0M361.7 250.8h0M361.9 252.1h0M361.2 254.7h0M362.3 138.9h0M361.9 139.7h0M361.5 144.2h0M362.5 147.0h0M362.2 149.9h0M361.9 151.1h0M362.2 153.6h0M362.1 155.4h0M362.5 156.5h0M362.5 157.2h0M361.8 158.5h0M362.2 160.0h0M362.5 162.2h0M361.7 165.7h0M362.1 166.7h0M361.8 168.2h0M362.1 173.1h0M362.1 175.0h0M362.4 175.7h0M362.2 176.3h0M361.8 177.1h0M362.4 178.7h0M362.5 181.7h0M362.5 183.2h0M362.5 184.9h0M361.8 185.5h0M362.2 186.8h0M362.4 187.9h0M362.4 189.7h0M362.2 191.9h0M361.4 196.0h0M361.5 198.5h0M362.1 199.7h0M362.2 201.4h0M362.4 203.1h0M361.9 208.7h0M362.3 210.9h0M362.3 211.9h0M361.7 212.4h0M362.2 214.0h0M362.3 216.7h0M362.5 218.9h0M361.7 221.9h0M362.3 222.2h0M361.4 224.4h0M361.9 229.9h0M362.4 234.2h0M361.8 235.9h0M362.5 237.6h0M362.2 238.7h0M362.4 239.8h0M361.6 240.0h0M361.6 241.8h0M362.4 242.9h0M362.1 244.5h0M362.3 245.6h0M362.2 246.9h0M362.1 249.1h0M362.5 250.8h0M362.1 251.3h0M361.4 253.0h0M363.3 131.0h0M363.1 143.6h0M363.1 145.1h0M364.4 147.8h0M363.2 153.2h0M364.5 158.7h0M363.4 168.9h0M364.4 170.5h0M363.4 175.4h0M363.5 176.1h0M363.3 176.8h0M363.3 178.8h0M363.4 182.9h0M364.6 185.3h0M363.1 186.0h0M363.1 186.6h0M363.5 192.1h0M364.7 195.8h0M363.4 196.9h0M364.7 198.4h0M363.4 204.6h0M363.1 206.5h0M363.4 207.9h0M363.5 208.9h0M363.5 210.4h0M363.5 211.6h0M363.2 212.8h0M363.4 213.9h0M363.1 215.1h0M363.2 216.9h0M364.6 219.1h0M364.7 220.2h0M364.3 221.9h0M364.5 224.3h0M364.5 225.7h0M363.3 228.5h0M363.5 228.9h0M363.2 230.9h0M363.5 231.9h0M364.5 233.2h0M363.5 233.8h0M363.1 235.0h0M363.4 237.2h0M363.2 237.6h0M364.4 239.2h0M364.4 239.9h0M363.1 242.7h0M364.5 243.7h0M363.1 246.0h0M364.6 247.7h0M363.1 249.7h0M363.3 253.5h0M363.1 253.8h0M363.5 254.6h0M364.1 129.6h0M364.2 132.5h0M364.1 134.0h0M364.1 138.4h0M364.5 141.6h0M364.5 142.6h0M364.2 143.5h0M364.5 145.2h0M364.5 146.7h0M364.5 150.7h0M364.2 150.9h0M364.1 152.1h0M364.2 154.0h0M364.3 156.0h0M364.5 157.3h0M364.4 157.9h0M364.5 160.1h0M364.5 161.0h0M364.5 164.7h0M364.4 165.8h0M364.3 166.4h0M364.1 167.7h0M364.1 167.9h0M364.2 170.2h0M364.1 170.9h0M364.1 173.4h0M364.3 175.1h0M364.5 176.2h0M364.3 177.6h0M364.7 181.4h0M364.5 182.2h0M364.4 183.6h0M364.2 184.1h0M364.3 185.3h0M364.3 188.4h0M364.3 190.6h0M364.4 192.3h0M364.5 193.1h0M364.5 194.5h0M364.4 197.0h0M364.4 198.4h0M364.1 199.6h0M364.3 199.9h0M364.2 201.3h0M364.1 202.8h0M364.6 202.9h0M364.6 204.5h0M364.7 205.8h0M364.3 206.7h0M364.3 207.2h0M364.5 208.8h0M364.2 209.0h0M364.3 210.5h0M364.3 211.2h0M364.4 212.5h0M364.5 213.4h0M364.3 214.3h0M364.1 215.4h0M364.5 216.3h0M364.1 217.1h0M364.2 218.3h0M364.7 219.6h0M364.3 220.3h0M364.1 221.0h0M364.3 222.4h0M364.5 223.0h0M364.2 224.5h0M364.4 224.9h0M364.3 226.7h0M364.3 227.3h0M364.5 228.4h0M364.1 229.5h0M364.5 230.4h0M364.3 231.1h0M364.3 232.6h0M364.4 233.8h0M364.5 234.5h0M364.2 235.8h0M364.3 236.4h0M364.3 237.2h0M364.6 238.8h0M364.4 239.3h0M364.5 240.1h0M364.3 241.2h0M364.3 242.8h0M364.4 243.1h0M364.5 244.6h0M364.1 245.4h0M364.5 246.2h0M364.3 247.8h0M364.1 248.6h0M364.3 249.2h0M364.4 250.7h0M364.3 251.4h0M364.3 252.8h0M364.4 253.5h0M364.2 254.8h0M365.1 129.1h0M365.2 129.8h0M365.2 132.0h0M364.5 135.6h0M364.7 136.8h0M365.5 138.4h0M364.6 140.0h0M365.1 143.8h0M364.7 147.9h0M365.1 149.1h0M364.5 153.2h0M365.3 153.7h0M365.2 155.5h0M365.5 156.9h0M365.5 157.8h0M365.1 159.4h0M364.7 162.1h0M365.1 162.6h0M365.5 164.6h0M365.4 168.0h0M365.4 168.9h0M365.1 172.1h0M365.1 173.4h0M365.3 175.6h0M364.4 176.4h0M364.6 178.1h0M365.3 178.9h0M364.4 179.9h0M364.4 181.1h0M364.7 181.8h0M365.3 182.7h0M365.4 183.5h0M365.3 185.3h0M364.5 186.7h0M365.2 188.7h0M365.4 191.6h0M365.3 192.5h0M365.2 194.1h0M365.1 194.6h0M365.5 196.1h0M365.4 196.6h0M365.4 198.3h0M365.2 198.8h0M365.4 200.1h0M365.3 201.0h0M365.3 201.4h0M365.1 203.2h0M365.5 205.1h0M365.5 205.8h0M365.1 207.1h0M365.4 208.0h0M365.2 210.1h0M365.2 210.9h0M365.2 212.2h0M365.2 213.4h0M365.3 214.8h0M364.7 215.6h0M365.1 217.1h0M364.5 218.3h0M365.2 218.6h0M365.2 219.7h0M365.4 220.8h0M365.3 221.5h0M364.5 222.6h0M364.3 223.9h0M364.5 225.3h0M365.2 225.6h0M365.1 227.1h0M364.7 227.5h0M365.3 228.7h0M364.7 229.5h0M364.5 232.0h0M365.2 234.3h0M365.5 234.6h0M364.6 235.9h0M365.5 237.3h0M365.4 238.0h0M365.3 238.4h0M364.3 239.8h0M365.2 241.0h0M365.5 241.9h0M365.4 242.7h0M364.7 244.2h0M365.3 244.6h0M365.1 246.2h0M365.5 247.0h0M365.3 247.4h0M365.4 248.7h0M365.4 250.0h0M365.4 250.4h0M365.4 251.9h0M365.2 253.3h0M365.2 253.9h0M365.3 254.6h0M366.2 127.9h0M366.2 128.6h0M366.1 132.6h0M366.1 134.6h0M366.1 135.8h0M366.4 139.0h0M366.5 141.2h0M366.3 148.9h0M366.5 149.5h0M366.3 150.8h0M366.4 152.3h0M366.1 154.0h0M366.3 155.2h0M366.3 156.2h0M366.3 157.6h0M366.3 158.4h0M366.5 162.4h0M366.1 163.7h0M366.4 166.0h0M366.4 170.7h0M366.3 171.3h0M366.2 172.6h0M366.1 175.3h0M366.4 177.5h0M366.1 180.7h0M366.2 182.4h0M366.4 183.5h0M366.1 184.7h0M366.3 186.5h0M366.1 188.2h0M366.2 190.3h0M366.2 193.4h0M366.2 195.0h0M366.5 195.9h0M366.3 197.0h0M366.5 198.7h0M366.4 200.2h0M366.1 201.5h0M366.2 202.8h0M366.5 203.1h0M366.1 205.2h0M366.3 208.6h0M366.5 210.1h0M366.3 210.2h0M366.3 212.0h0M366.4 213.0h0M366.3 214.3h0M366.4 218.1h0M366.2 219.1h0M366.2 220.5h0M366.5 221.1h0M366.1 222.5h0M366.3 223.4h0M366.2 225.4h0M366.5 226.2h0M366.2 228.7h0M366.4 229.1h0M366.5 230.5h0M366.5 231.4h0M366.1 232.4h0M366.5 234.4h0M366.5 236.0h0M366.3 237.0h0M366.4 237.5h0M366.3 240.8h0M366.4 241.5h0M366.1 242.3h0M366.2 243.4h0M366.5 247.1h0M366.1 248.8h0M366.4 249.2h0M366.4 250.3h0M366.3 252.0h0M366.3 252.7h0M366.1 253.9h0M366.3 127.3h0M366.3 132.1h0M367.2 133.1h0M367.1 135.1h0M367.4 135.7h0M366.2 140.2h0M367.5 143.8h0M366.2 146.8h0M367.3 149.5h0M367.4 151.3h0M367.2 156.3h0M367.3 157.4h0M367.1 160.2h0M366.2 161.0h0M366.1 164.9h0M367.2 167.4h0M366.1 169.4h0M366.5 171.9h0M367.1 172.7h0M367.1 173.4h0M366.3 177.3h0M367.5 178.7h0M367.4 182.6h0M367.5 184.1h0M367.2 188.7h0M367.2 189.9h0M367.4 190.4h0M367.2 192.0h0M367.1 193.3h0M366.3 196.6h0M366.3 198.1h0M367.5 199.5h0M367.1 200.8h0M367.3 204.6h0M366.3 205.6h0M367.1 207.0h0M367.5 208.6h0M366.2 210.5h0M367.1 211.9h0M367.2 213.0h0M367.5 214.7h0M366.2 216.0h0M366.5 217.6h0M367.3 221.0h0M366.1 228.2h0M367.4 231.7h0M366.3 232.8h0M367.1 234.0h0M367.4 234.6h0M366.3 236.5h0M367.4 237.6h0M367.3 239.0h0M367.4 242.1h0M367.1 242.4h0M367.5 243.8h0M367.3 245.6h0M366.3 247.1h0M367.4 247.3h0M367.2 248.8h0M367.5 249.6h0M366.4 250.9h0M367.1 251.6h0M367.5 253.5h0M368.1 129.2h0M368.1 130.3h0M368.2 135.0h0M368.1 136.1h0M368.1 137.9h0M369.0 144.2h0M369.0 146.9h0M368.2 148.0h0M368.5 148.7h0M368.5 152.7h0M368.5 153.1h0M368.8 154.8h0M368.7 155.7h0M368.4 156.8h0M368.1 158.8h0M368.8 159.9h0M369.0 161.0h0M368.8 161.9h0M368.3 162.3h0M368.5 164.8h0M368.6 166.4h0M368.5 168.7h0M368.3 169.2h0M368.1 171.4h0M369.0 172.7h0M368.3 175.0h0M368.4 175.4h0M369.0 176.2h0M368.6 177.1h0M368.2 178.7h0M368.8 179.3h0M368.1 180.5h0M368.1 181.8h0M368.5 182.5h0M369.0 183.1h0M368.2 184.5h0M368.1 185.3h0M368.2 186.7h0M368.1 187.1h0M368.7 188.4h0M368.4 189.9h0M368.2 190.7h0M368.8 191.1h0M368.1 193.2h0M368.1 194.1h0M368.3 195.6h0M368.5 196.3h0M368.2 197.1h0M368.9 198.2h0M368.3 199.1h0M368.2 200.2h0M368.4 201.5h0M368.9 202.1h0M368.4 203.7h0M368.9 204.6h0M368.5 205.1h0M368.3 206.8h0M368.3 207.1h0M368.5 208.5h0M368.3 209.4h0M368.2 210.5h0M368.5 211.1h0M368.3 212.8h0M368.5 213.9h0M368.1 214.9h0M368.4 215.5h0M368.9 216.9h0M368.1 217.0h0M368.9 218.7h0M368.1 219.7h0M368.4 220.8h0M368.4 222.0h0M368.1 222.7h0M368.1 223.3h0M368.3 224.9h0M368.4 225.6h0M368.5 226.6h0M368.1 227.3h0M368.1 228.4h0M368.2 229.4h0M369.0 230.5h0M368.2 231.3h0M369.0 232.4h0M368.8 233.8h0M368.7 234.7h0M368.8 235.3h0M368.7 236.8h0M368.5 237.1h0M369.0 238.1h0M368.1 239.5h0M368.1 240.6h0M368.5 241.2h0M368.2 242.2h0M368.1 243.4h0M368.7 244.5h0M368.4 245.4h0M368.1 246.1h0M368.2 247.5h0M368.8 248.8h0M369.0 249.9h0M368.7 251.0h0M368.5 251.7h0M368.4 252.2h0M368.3 253.7h0M369.1 131.2h0M369.4 133.1h0M369.4 137.6h0M368.6 144.3h0M369.0 145.9h0M369.3 147.4h0M368.9 147.9h0M369.4 150.3h0M369.5 158.2h0M368.7 158.7h0M369.1 161.0h0M369.3 165.4h0M369.1 166.2h0M369.3 168.5h0M369.1 171.6h0M368.7 172.0h0M368.7 172.9h0M368.7 174.1h0M369.3 174.9h0M369.2 175.9h0M369.5 180.4h0M369.1 181.1h0M369.5 182.7h0M369.2 184.4h0M368.6 186.9h0M368.8 190.7h0M369.5 192.1h0M369.0 195.2h0M368.7 195.8h0M368.8 198.5h0M368.6 199.5h0M369.1 201.3h0M369.1 203.1h0M369.0 205.7h0M369.2 207.9h0M369.4 208.7h0M368.7 210.5h0M369.1 212.3h0M369.3 212.8h0M369.4 214.0h0M369.3 214.8h0M369.4 216.9h0M369.2 218.5h0M368.7 218.7h0M369.3 221.3h0M368.6 222.6h0M369.3 223.6h0M369.5 224.4h0M368.9 225.1h0M369.2 226.5h0M369.3 227.5h0M369.1 228.6h0M368.6 228.9h0M369.1 231.5h0M368.7 231.8h0M368.6 233.7h0M368.8 234.0h0M369.4 236.7h0M369.0 236.9h0M369.5 237.9h0M369.4 239.2h0M369.2 240.3h0M369.2 240.7h0M369.1 242.1h0M369.1 243.6h0M369.1 244.4h0M369.0 245.8h0M368.6 246.8h0M369.1 248.5h0M369.4 249.2h0M369.5 250.2h0M369.3 251.3h0M369.0 251.7h0M370.1 129.0h0M368.9 137.1h0M368.7 142.0h0M370.4 146.2h0M370.3 147.6h0M370.5 148.0h0M370.2 151.5h0M368.8 155.4h0M370.3 156.3h0M368.9 158.8h0M370.3 163.7h0M370.2 163.9h0M370.2 168.6h0M370.2 171.3h0M370.2 173.3h0M368.8 174.7h0M368.6 175.4h0M370.1 178.0h0M370.2 179.2h0M370.1 181.3h0M370.4 182.4h0M370.2 183.0h0M370.2 185.7h0M368.6 185.8h0M368.6 187.5h0M370.3 187.8h0M370.2 190.3h0M368.9 190.8h0M370.5 193.4h0M370.5 194.4h0M368.6 196.4h0M369.0 198.2h0M368.8 200.4h0M370.4 203.1h0M370.1 204.2h0M370.2 205.6h0M370.5 206.8h0M370.2 207.9h0M370.2 209.5h0M370.4 209.9h0M370.2 211.3h0M368.9 211.9h0M370.4 213.7h0M369.0 215.0h0M370.3 216.4h0M370.4 218.4h0M370.4 220.0h0M370.2 221.6h0M368.6 224.2h0M370.5 225.2h0M370.5 226.4h0M370.4 227.0h0M368.8 228.6h0M370.2 228.7h0M370.4 230.5h0M370.5 231.1h0M370.3 232.5h0M370.3 232.9h0M370.4 235.3h0M370.1 235.8h0M370.1 237.1h0M369.0 238.5h0M370.4 238.9h0M370.1 239.8h0M370.5 241.3h0M370.3 242.0h0M370.3 243.1h0M368.8 244.7h0M370.3 245.7h0M370.2 245.7h0M370.5 248.7h0M370.1 249.4h0M368.9 251.5h0M370.5 252.6h0M368.7 253.5h0M372.0 149.3h0M371.4 152.9h0M372.4 165.0h0M372.2 166.0h0M371.1 172.0h0M371.2 177.1h0M371.1 178.9h0M371.3 188.8h0M371.1 192.5h0M372.1 193.7h0M371.5 194.7h0M371.3 201.6h0M371.2 204.5h0M371.3 208.8h0M372.4 210.7h0M371.5 217.0h0M371.2 221.7h0M371.5 222.8h0M371.1 225.6h0M371.1 231.8h0M371.3 240.1h0M371.3 243.4h0M371.1 245.0h0M371.4 247.1h0M371.4 249.1h0M371.4 250.9h0M372.5 252.1h0M372.3 134.4h0M372.3 137.9h0M372.2 140.0h0M372.3 141.3h0M372.4 142.3h0M372.5 143.4h0M372.1 146.9h0M372.2 148.1h0M372.3 152.6h0M372.5 157.8h0M372.1 161.9h0M372.3 171.0h0M372.5 172.9h0M372.2 180.0h0M372.3 185.0h0M372.2 194.4h0M372.2 197.6h0M372.5 201.9h0M372.4 209.3h0M372.4 211.7h0M372.2 215.0h0M372.4 220.3h0M372.4 226.3h0M372.3 236.8h0M372.2 238.2h0M372.2 241.9h0M372.1 243.3h0M372.2 246.6h0M372.5 247.2h0M372.1 248.6h0M372.1 252.1h0M372.2 128.9h0M372.2 133.8h0M373.2 143.0h0M373.3 154.5h0M373.5 163.8h0M372.2 164.9h0M373.5 168.4h0M373.3 170.6h0M373.1 177.2h0M373.5 179.9h0M372.5 184.4h0M373.1 186.5h0M372.2 206.0h0M373.4 206.9h0M372.0 208.2h0M373.1 211.0h0M373.5 213.6h0M373.3 217.9h0M373.4 220.3h0M373.5 221.4h0M372.1 222.4h0M373.4 223.1h0M372.3 225.4h0M372.1 226.3h0M373.1 227.7h0M373.1 228.5h0M372.0 230.0h0M373.3 232.7h0M373.1 238.7h0M373.5 239.6h0M372.2 240.4h0M373.2 241.9h0M372.1 247.3h0M373.4 248.6h0M373.5 250.3h0M373.2 251.4h0M374.3 133.1h0M375.7 146.3h0M374.2 155.6h0M374.3 157.9h0M374.1 159.1h0M374.5 161.1h0M374.4 164.0h0M375.6 168.8h0M374.4 172.1h0M375.7 177.0h0M375.8 185.8h0M374.2 190.9h0M374.4 195.7h0M375.5 197.4h0M375.8 201.6h0M374.3 204.1h0M375.7 209.9h0M374.5 225.3h0M374.5 226.2h0M374.4 227.2h0M374.5 229.1h0M375.5 233.2h0M374.1 236.0h0M374.3 239.5h0M375.3 241.5h0M374.5 244.7h0M374.3 245.4h0M375.7 246.7h0M374.5 251.5h0M375.5 137.2h0M375.1 144.1h0M375.2 146.8h0M375.7 152.7h0M375.5 157.8h0M375.7 160.1h0M375.2 163.9h0M375.5 165.8h0M375.2 172.4h0M375.2 174.7h0M375.4 176.5h0M375.5 178.7h0M375.1 181.0h0M375.2 194.5h0M375.1 201.7h0M375.5 202.8h0M375.3 203.0h0M375.3 205.7h0M375.1 208.2h0M375.5 209.8h0M375.7 213.5h0M375.5 214.4h0M375.4 216.1h0M375.5 219.9h0M375.3 223.7h0M375.5 224.8h0M375.2 225.1h0M375.5 228.6h0M375.1 231.6h0M375.2 232.5h0M375.4 235.5h0M375.4 237.4h0M375.5 238.7h0M375.4 241.5h0M375.4 242.0h0M375.7 243.6h0M375.7 244.7h0M375.2 245.3h0M375.5 246.1h0M375.3 248.7h0M376.2 136.5h0M375.7 137.1h0M376.1 139.9h0M376.5 144.0h0M376.1 148.7h0M375.4 154.4h0M376.2 156.2h0M376.4 158.5h0M375.6 172.2h0M376.4 173.7h0M376.3 176.6h0M376.2 180.3h0M376.1 184.6h0M375.5 187.2h0M376.5 188.8h0M376.2 192.6h0M376.5 195.0h0M376.5 196.0h0M376.1 197.9h0M376.4 199.4h0M376.5 203.2h0M376.1 205.7h0M376.2 210.0h0M376.1 211.3h0M376.5 215.7h0M376.5 217.9h0M376.4 219.9h0M376.2 220.4h0M376.3 221.3h0M375.6 222.2h0M375.8 226.9h0M375.4 227.1h0M376.4 234.0h0M376.3 235.9h0M376.5 236.0h0M376.3 237.2h0M375.6 239.2h0M376.1 242.2h0M376.2 243.4h0M376.4 249.8h0M376.1 250.4h0M377.2 129.1h0M377.1 138.5h0M379.1 145.0h0M377.3 146.2h0M377.4 147.1h0M377.4 148.1h0M378.8 149.3h0M379.0 156.3h0M378.8 159.6h0M377.5 160.3h0M377.2 163.6h0M377.5 164.5h0M377.5 168.4h0M377.5 168.8h0M377.3 175.7h0M379.0 175.9h0M377.5 177.4h0M377.5 180.7h0M378.9 181.7h0M379.0 181.9h0M377.5 186.6h0M377.4 187.9h0M378.8 191.2h0M377.1 192.4h0M378.9 194.9h0M377.4 198.8h0M377.1 200.3h0M377.4 201.6h0M377.4 202.4h0M378.7 203.1h0M378.9 205.0h0M377.1 206.4h0M378.7 206.9h0M377.3 209.6h0M377.1 211.4h0M377.2 214.0h0M377.5 216.6h0M379.1 217.3h0M377.3 218.2h0M379.1 220.4h0M377.1 221.5h0M377.5 224.6h0M377.5 225.2h0M379.0 227.6h0M377.3 228.1h0M377.4 229.2h0M379.0 230.4h0M377.4 234.1h0M377.2 235.8h0M379.1 236.0h0M377.5 236.9h0M377.4 239.4h0M377.5 241.0h0M377.3 242.1h0M377.4 244.2h0M377.1 245.3h0M377.5 245.9h0M377.4 247.1h0M377.5 248.1h0M377.3 249.2h0M378.2 134.5h0M378.9 138.8h0M379.0 140.1h0M378.4 150.6h0M378.5 152.9h0M378.7 156.9h0M378.3 161.5h0M378.5 163.1h0M379.1 163.8h0M378.4 165.9h0M378.8 166.9h0M379.1 169.1h0M378.1 173.6h0M378.4 174.5h0M378.1 180.6h0M378.9 181.7h0M378.5 189.4h0M379.1 192.6h0M378.5 196.0h0M378.3 197.4h0M378.8 198.7h0M378.2 200.2h0M378.4 202.4h0M378.3 204.9h0M378.2 205.7h0M378.7 207.0h0M378.3 209.7h0M378.2 214.1h0M378.5 215.2h0M378.1 217.2h0M378.1 217.5h0M378.1 222.3h0M378.1 222.5h0M378.1 224.2h0M378.3 224.5h0M378.7 225.8h0M378.2 227.5h0M378.4 228.4h0M378.4 229.9h0M378.4 231.5h0M378.4 234.0h0M378.4 237.2h0M378.2 237.6h0M379.1 238.8h0M378.1 239.4h0M378.1 240.5h0M379.1 243.2h0M378.1 246.0h0M378.5 246.6h0M378.3 248.1h0M378.2 248.3h0M379.1 132.1h0M379.1 134.9h0M379.1 139.7h0M378.7 142.0h0M379.5 146.5h0M379.3 147.3h0M379.4 147.8h0M379.2 150.3h0M379.5 154.4h0M379.2 154.9h0M379.5 156.0h0M379.1 157.4h0M379.3 158.1h0M379.2 162.6h0M378.8 166.1h0M379.5 167.2h0M379.5 168.1h0M379.1 172.1h0M379.4 173.4h0M379.2 175.4h0M378.9 176.5h0M379.3 179.3h0M379.3 180.7h0M379.1 182.3h0M379.2 185.3h0M378.9 189.0h0M379.2 190.6h0M379.3 195.9h0M379.4 197.0h0M379.4 197.9h0M378.9 200.8h0M379.3 201.9h0M379.3 203.0h0M379.3 206.5h0M378.9 207.1h0M379.5 209.1h0M379.4 210.4h0M379.1 211.2h0M379.4 212.6h0M379.5 213.0h0M379.5 215.4h0M379.5 216.0h0M379.4 218.5h0M379.1 220.9h0M379.2 222.7h0M379.3 223.7h0M379.2 223.9h0M379.1 224.9h0M379.2 226.5h0M379.0 230.7h0M379.5 231.8h0M379.4 232.2h0M379.3 232.8h0M379.1 234.9h0M379.1 236.5h0M379.1 236.8h0M379.1 238.2h0M378.9 239.3h0M378.9 240.7h0M379.3 243.1h0M379.1 244.4h0M378.8 245.5h0M378.8 139.5h0M380.5 142.8h0M380.5 144.3h0M378.7 145.2h0M380.4 146.2h0M380.5 147.9h0M380.3 150.6h0M379.0 154.0h0M378.9 159.4h0M378.7 162.0h0M380.3 163.6h0M378.9 166.1h0M380.5 171.3h0M380.2 174.1h0M380.4 177.1h0M380.5 178.3h0M380.1 179.2h0M380.3 188.3h0M380.2 189.1h0M378.9 191.6h0M380.2 193.5h0M380.5 198.5h0M378.9 201.7h0M379.1 202.4h0M378.9 203.4h0M380.5 208.8h0M380.2 209.3h0M380.3 210.7h0M380.1 211.7h0M380.4 212.6h0M380.2 214.1h0M380.1 221.3h0M380.4 223.3h0M380.4 224.4h0M378.8 225.9h0M378.9 226.3h0M380.3 228.5h0M380.2 231.0h0M380.2 232.8h0M378.8 233.1h0M378.9 234.4h0M380.5 236.0h0M380.1 237.2h0M380.3 238.5h0M380.1 241.1h0M380.2 242.2h0M378.9 244.3h0M381.1 140.7h0M382.5 146.3h0M381.1 149.0h0M381.4 150.4h0M381.1 151.1h0M381.3 155.8h0M381.5 157.3h0M381.4 157.5h0M381.5 159.9h0M382.7 161.0h0M382.5 163.2h0M381.1 164.9h0M381.3 168.0h0M382.3 169.0h0M382.7 171.0h0M381.5 172.1h0M382.6 173.6h0M381.2 175.7h0M381.2 176.5h0M382.6 179.3h0M381.2 181.0h0M382.3 182.4h0M382.5 185.0h0M381.1 186.5h0M381.3 187.6h0M381.4 192.4h0M381.4 194.7h0M381.4 195.5h0M381.1 197.4h0M381.2 200.2h0M381.2 201.1h0M381.3 201.9h0M381.3 203.7h0M381.5 205.7h0M382.2 209.1h0M381.1 211.1h0M381.5 212.2h0M381.1 213.2h0M381.5 214.1h0M381.5 214.5h0M381.4 216.2h0M382.6 220.7h0M382.7 222.0h0M381.5 222.8h0M381.3 223.5h0M381.5 225.1h0M381.4 225.8h0M381.4 227.0h0M381.2 227.5h0M381.4 228.6h0M381.2 229.7h0M381.1 232.2h0M382.2 234.0h0M381.2 235.2h0M381.3 235.9h0M381.2 238.3h0M381.4 239.0h0M382.4 239.9h0M381.5 241.5h0M381.3 243.1h0M382.5 137.6h0M382.2 143.7h0M382.2 157.9h0M382.5 166.6h0M382.4 168.1h0M382.1 189.3h0M382.5 194.2h0M382.4 197.3h0M382.2 198.4h0M382.5 212.1h0M382.1 224.0h0M383.3 167.7h0M383.3 188.6h0M383.1 199.0h0M382.6 203.8h0M383.1 204.7h0M383.1 221.3h0M383.1 223.3h0M383.2 224.4h0M383.4 230.0h0M383.1 231.2h0M383.2 231.7h0M383.4 236.1h0M384.1 158.8h0M384.3 161.3h0M384.7 172.0h0M384.3 172.7h0M384.2 174.6h0M384.5 179.2h0M384.1 188.3h0M384.5 207.2h0M384.4 208.3h0M384.5 221.6h0M384.8 223.1h0M384.3 233.4h0M384.4 234.2h0M384.1 235.0h0M384.1 239.4h0M385.2 135.8h0M384.6 146.7h0M385.4 154.2h0M385.2 156.0h0M385.1 156.2h0M385.2 163.6h0M385.3 166.3h0M384.5 189.4h0M384.7 192.7h0M384.7 212.3h0M385.1 215.3h0M384.7 217.3h0M385.3 223.4h0M385.2 224.9h0M384.8 230.0h0M385.5 239.7h0M386.6 155.7h0M386.7 170.5h0M386.3 177.6h0M386.7 188.8h0M386.4 196.8h0M386.2 221.4h0M386.9 229.7h0M387.5 146.8h0M386.9 154.1h0M386.5 156.3h0M387.5 158.7h0M386.5 160.7h0M387.1 168.0h0M387.5 168.8h0M386.8 183.5h0M387.3 191.5h0M386.8 192.7h0M388.8 200.7h0M388.2 206.1h0M388.2 209.1h0M388.4 215.0h0M388.4 215.4h0M388.5 218.4h0M388.8 221.5h0M388.2 223.6h0M388.8 229.1h0M388.4 230.2h0M389.0 232.5h0M389.4 205.0h0M389.1 207.8h0M388.6 221.9h0M389.3 227.9h0M389.4 234.0h0M389.1 238.7h0M389.3 242.5h0M389.4 243.4h0M389.2 243.8h0M389.5 244.9h0M389.4 245.9h0M388.7 249.2h0M389.4 250.3h0M389.2 250.8h0M389.3 253.6h0M389.2 253.8h0M391.7 225.1h0M391.7 228.6h0M390.3 229.2h0M391.7 232.3h0M391.4 234.8h0M391.4 243.5h0M391.5 244.8h0M391.7 246.8h0M391.4 247.1h0M391.4 250.6h0M391.3 251.8h0M391.6 252.3h0M391.5 211.3h0M391.2 224.4h0M391.6 239.0h0M391.7 247.8h0M391.7 250.5h0M391.4 251.6h0M392.5 215.3h0M391.5 216.2h0M392.3 235.9h0M391.4 243.3h0M394.4 237.3h0M394.7 185.1h0M394.6 195.9h0M394.7 200.3h0M394.5 204.5h0M394.5 216.7h0M394.4 220.9h0M394.1 229.1h0M394.6 230.5h0M394.5 232.8h0M394.6 235.7h0M394.7 239.8h0M394.7 241.9h0M394.6 162.7h0M394.5 163.6h0M394.6 190.0h0M395.3 201.7h0M394.7 202.3h0M394.5 205.2h0M394.5 206.7h0M394.3 213.1h0M394.7 213.9h0M394.7 216.3h0M394.6 220.2h0M394.7 223.0h0M395.4 223.9h0M394.7 224.9h0M394.6 226.0h0M394.8 226.4h0M395.5 228.8h0M394.3 229.7h0M394.3 231.0h0M394.4 231.9h0M395.2 232.7h0M394.6 235.1h0M395.1 235.3h0M398.2 159.2h0M398.2 159.8h0M398.2 161.8h0M398.1 165.8h0M396.2 182.1h0M398.1 185.8h0M396.2 190.8h0M398.2 194.8h0M397.9 201.7h0M396.2 207.3h0M398.2 208.1h0M397.8 210.7h0M396.3 212.8h0M396.5 214.4h0M398.2 219.4h0M396.2 220.2h0M396.4 223.5h0M396.4 228.5h0M397.8 229.1h0M398.2 230.6h0M397.8 231.9h0M396.1 233.1h0M397.1 158.5h0M397.9 160.1h0M398.1 169.2h0M398.0 179.8h0M398.0 181.4h0M397.9 190.2h0M398.0 199.6h0M397.2 200.5h0M397.3 201.5h0M397.3 202.8h0M398.3 205.6h0M398.2 209.0h0M397.9 216.3h0M397.9 218.4h0M397.3 220.1h0M398.2 221.7h0M397.3 223.1h0M398.0 224.5h0M397.5 224.9h0M398.1 226.4h0M397.3 230.7h0M398.1 159.0h0M398.0 162.8h0M398.2 176.9h0M398.2 183.6h0M398.2 193.7h0M398.2 195.5h0M398.0 197.0h0M398.0 198.1h0M398.1 201.1h0M398.4 206.6h0M397.9 212.3h0M398.2 215.9h0M397.9 217.4h0M398.1 217.8h0M397.9 220.3h0M398.4 221.9h0M398.1 227.8h0M397.9 232.6h0M397.9 234.3h0M399.1 148.2h0M398.1 151.6h0M398.2 154.6h0M399.3 156.7h0M398.2 162.8h0M399.5 168.3h0M398.1 171.1h0M399.5 172.5h0M398.0 175.8h0M399.4 180.0h0M397.9 190.5h0M397.9 199.7h0M398.0 202.0h0M399.1 210.1h0M398.0 212.4h0M397.9 213.4h0M399.2 217.2h0M398.2 221.9h0M398.1 223.2h0M397.9 225.2h0M398.0 226.2h0M397.9 229.7h0M398.2 232.6h0M398.2 234.4h0M401.0 148.9h0M401.1 172.5h0M400.9 183.9h0M400.2 187.2h0M401.3 189.3h0M400.3 195.6h0M401.2 197.2h0M400.3 200.8h0M401.0 206.3h0M400.4 207.8h0M401.2 209.4h0M401.4 212.2h0M401.3 218.6h0M401.2 218.8h0M400.9 220.0h0M400.3 221.4h0M400.3 222.9h0M401.2 224.4h0M401.0 231.6h0M401.0 234.3h0M401.1 155.9h0M401.1 166.7h0M401.2 168.2h0M401.5 169.5h0M401.3 179.0h0M401.1 182.2h0M401.2 182.6h0M401.3 185.4h0M401.0 189.0h0M400.9 194.7h0M401.2 198.0h0M401.5 201.5h0M401.4 202.9h0M400.9 204.6h0M401.2 207.9h0M401.3 209.7h0M400.9 210.7h0M401.3 211.8h0M401.1 213.4h0M401.2 214.2h0M401.3 216.1h0M401.3 217.6h0M401.3 219.9h0M401.2 221.7h0M401.1 223.5h0M401.0 223.9h0M401.2 229.6h0M401.0 233.1h0M401.0 234.2h0M401.2 235.3h0M401.4 237.2h0M402.2 165.1h0M401.4 172.7h0M401.4 176.8h0M401.0 177.0h0M401.2 182.2h0M401.1 187.3h0M401.0 190.2h0M401.1 191.4h0M400.9 192.4h0M401.1 194.7h0M402.5 196.5h0M401.1 197.8h0M400.9 202.3h0M402.3 205.0h0M401.0 206.2h0M401.1 208.6h0M401.0 210.7h0M402.3 213.6h0M401.1 214.9h0M401.2 215.4h0M402.4 218.4h0M401.1 219.5h0M402.3 221.1h0M401.0 222.3h0M401.0 223.9h0M402.4 225.7h0M401.0 226.7h0M401.3 227.6h0M401.2 228.1h0M402.4 230.1h0M401.2 232.8h0M401.0 235.0h0M400.9 237.9h0M401.4 240.5h0M403.1 169.1h0M403.9 196.4h0M403.9 197.5h0M403.9 199.6h0M403.9 201.7h0M403.9 203.3h0M404.2 205.6h0M404.0 206.3h0M404.2 209.6h0M404.2 210.8h0M403.9 218.4h0M404.0 220.9h0M404.3 221.6h0M404.1 224.2h0M403.9 225.3h0M404.2 226.3h0M404.1 227.3h0M404.3 229.6h0M404.2 230.9h0M404.1 231.1h0M403.3 232.1h0M404.0 233.5h0M404.1 234.9h0M404.3 236.5h0M403.1 238.4h0M403.4 239.5h0M404.2 177.8h0M404.2 183.4h0M404.4 188.2h0M404.2 189.9h0M404.0 191.1h0M404.5 194.0h0M404.3 194.3h0M404.0 196.3h0M404.3 199.8h0M404.3 200.3h0M404.2 202.5h0M403.9 204.5h0M404.2 206.2h0M403.9 209.6h0M404.3 217.5h0M403.9 219.3h0M404.0 221.5h0M404.0 223.2h0M404.3 224.7h0M404.3 225.3h0M404.2 226.7h0M404.2 227.4h0M404.1 228.3h0M403.9 229.4h0M404.1 230.6h0M404.0 231.8h0M404.4 233.9h0M404.0 234.8h0M403.9 239.1h0M404.0 239.7h0M404.3 240.9h0M404.1 178.7h0M403.9 183.1h0M404.1 184.8h0M404.1 189.0h0M404.2 192.2h0M404.1 192.7h0M404.3 198.2h0M405.3 202.2h0M405.2 206.1h0M404.3 206.9h0M404.0 207.9h0M403.9 209.8h0M404.0 212.7h0M405.3 215.0h0M404.3 216.2h0M404.1 216.8h0M404.0 217.7h0M405.1 218.7h0M404.1 221.6h0M404.1 224.5h0M404.3 227.0h0M404.3 228.2h0M404.2 228.6h0M404.2 235.2h0M405.1 235.5h0M405.2 237.8h0M405.5 238.7h0M404.0 240.7h0M403.9 241.5h0M407.1 168.0h0M406.1 177.8h0M406.5 182.3h0M407.4 183.4h0M407.1 184.7h0M407.1 190.8h0M406.2 196.5h0M407.4 198.8h0M407.3 200.1h0M406.4 201.3h0M407.3 203.0h0M407.1 204.6h0M407.4 208.9h0M407.2 212.7h0M407.5 213.9h0M407.1 214.7h0M407.2 217.6h0M407.5 219.6h0M406.4 221.3h0M407.1 223.3h0M407.3 225.0h0M407.3 227.8h0M406.5 228.6h0M407.2 229.8h0M407.3 230.6h0M407.1 232.0h0M407.1 233.2h0M407.1 235.0h0M407.2 235.6h0M407.1 237.5h0M407.3 239.7h0M407.3 240.8h0M407.4 241.8h0M407.2 183.6h0M407.2 185.3h0M407.2 191.5h0M407.3 196.4h0M407.4 199.4h0M407.3 202.1h0M407.3 203.5h0M407.3 204.1h0M407.3 206.3h0M407.1 207.5h0M407.4 208.9h0M407.4 209.1h0M407.1 210.8h0M407.1 211.6h0M407.0 212.6h0M407.4 213.4h0M407.2 214.2h0M407.3 215.1h0M407.3 219.9h0M407.5 220.9h0M407.5 221.5h0M407.4 222.4h0M407.1 223.8h0M407.5 224.3h0M407.1 225.9h0M407.3 227.7h0M407.5 228.6h0M407.2 229.7h0M407.5 230.6h0M407.4 231.7h0M407.1 232.6h0M407.1 233.6h0M407.3 234.7h0M407.0 235.2h0M407.2 237.9h0M407.1 238.1h0M407.1 239.5h0M407.0 240.2h0M407.1 176.7h0M408.4 177.4h0M407.2 182.9h0M408.1 187.8h0M407.2 206.5h0M407.1 207.4h0M407.1 210.5h0M407.1 213.1h0M407.1 214.3h0M407.3 220.5h0M407.5 221.9h0M407.3 225.0h0M407.4 227.7h0M407.1 228.7h0M408.1 229.5h0M408.5 234.0h0M407.2 236.3h0M407.3 237.8h0M407.3 239.2h0M407.2 240.7h0M407.2 241.3h0M409.8 172.2h0M409.2 178.7h0M410.1 182.5h0M410.0 184.5h0M409.7 186.5h0M410.0 192.1h0M409.9 195.8h0M409.2 195.9h0M409.7 201.7h0M409.7 214.0h0M409.8 218.0h0M410.0 219.8h0M409.4 224.7h0M409.5 226.5h0M410.0 227.6h0M409.9 228.3h0M409.7 229.0h0M409.8 230.4h0M410.1 231.7h0M409.8 234.6h0M410.1 235.2h0M410.0 236.4h0M410.0 237.2h0M409.8 238.9h0M409.3 240.6h0M410.1 174.1h0M410.3 181.3h0M409.9 183.5h0M409.8 186.4h0M410.1 187.5h0M410.1 188.7h0M410.1 190.4h0M409.8 191.6h0M410.0 192.5h0M409.9 195.1h0M409.9 197.4h0M409.7 201.5h0M410.1 205.8h0M409.7 206.5h0M410.0 210.4h0M410.0 211.2h0M410.1 215.0h0M410.0 217.8h0M410.1 218.2h0M409.7 219.1h0M409.6 223.1h0M410.0 224.0h0M410.2 226.7h0M410.2 228.2h0M409.9 233.5h0M409.8 234.2h0M410.1 238.8h0M410.2 239.2h0M409.8 240.6h0M412.6 182.2h0M412.5 183.7h0M412.5 187.0h0M411.4 188.7h0M411.2 189.1h0M411.1 195.2h0M412.7 196.4h0M412.8 197.9h0M412.8 200.3h0M412.8 202.7h0M412.8 204.8h0M412.7 205.6h0M412.5 209.0h0M412.6 214.1h0M411.4 216.7h0M412.7 219.6h0M412.9 220.2h0M412.5 221.0h0M412.8 224.1h0M412.9 225.1h0M412.6 226.3h0M412.5 227.0h0M412.7 228.1h0M412.7 231.5h0M412.7 233.3h0M411.3 236.8h0M412.8 237.3h0M412.6 238.1h0M411.4 240.5h0M412.4 190.5h0M412.7 191.5h0M412.8 194.7h0M412.7 196.4h0M412.5 198.4h0M412.5 199.8h0M412.6 203.0h0M412.4 208.8h0M412.8 209.0h0M412.5 210.2h0M412.5 211.6h0M412.8 212.1h0M412.9 213.5h0M412.7 214.8h0M412.1 216.6h0M412.5 217.9h0M412.7 219.3h0M412.6 221.2h0M412.2 222.1h0M412.5 225.3h0M412.2 226.5h0M412.6 227.3h0M412.3 230.9h0M412.9 231.0h0M412.6 232.0h0M412.5 233.0h0M412.1 235.5h0M412.5 237.3h0M412.9 238.3h0M412.6 240.3h0M412.6 181.3h0M412.5 215.3h0M412.6 216.2h0M413.1 220.3h0M412.5 227.8h0M412.6 228.8h0M412.9 233.2h0M412.9 237.6h0M414.5 189.8h0M414.5 194.5h0M414.6 203.3h0M414.5 224.5h0M414.8 196.0h0M415.5 198.2h0M415.2 208.1h0M415.5 210.1h0M415.5 224.4h0M414.8 226.7h0M414.5 230.1h0M416.1 186.8h0M417.6 226.2h0M417.6 236.6h0M417.3 199.0h0M417.1 205.6h0M417.4 220.9h0M417.6 221.5h0M418.4 169.1h0M418.3 180.9h0M418.2 188.7h0M417.6 189.8h0M417.6 192.3h0M417.9 196.3h0M417.8 201.4h0M417.8 205.0h0M418.3 205.4h0M417.5 206.6h0M417.6 209.3h0M417.8 211.6h0M418.4 213.5h0M417.7 214.6h0M417.8 216.8h0M417.9 218.7h0M417.8 219.3h0M417.8 222.3h0M417.9 225.1h0M417.6 226.7h0M417.8 229.9h0M417.9 240.4h0M419.5 173.4h0M420.1 179.4h0M420.2 191.2h0M419.8 192.9h0M420.0 200.0h0M420.0 202.5h0M420.1 208.8h0M419.9 217.5h0M420.0 227.5h0M419.9 231.3h0M419.1 231.8h0M420.1 233.8h0M419.2 237.3h0M419.2 237.8h0M420.1 238.8h0M420.1 240.3h0M419.8 240.6h0M420.1 203.2h0M419.8 214.9h0M420.2 219.8h0M419.8 223.3h0M420.2 228.7h0M420.0 233.8h0M420.1 237.5h0M419.9 182.9h0M420.2 195.4h0M419.7 206.1h0M419.9 207.4h0M419.9 208.4h0M420.1 225.7h0M421.3 226.3h0M421.4 238.2h0M419.9 239.9h0M420.1 241.8h0M423.2 199.2h0M423.5 209.5h0M423.3 213.2h0M422.2 217.3h0M422.5 219.2h0M423.3 222.2h0M423.2 224.0h0M423.3 236.6h0M423.4 239.3h0M423.5 177.9h0M423.3 200.8h0M423.4 215.7h0M423.6 216.7h0M423.4 220.5h0M423.5 223.2h0M423.4 224.1h0M423.3 224.9h0M423.5 228.8h0M423.3 230.3h0M423.3 231.1h0M423.2 233.6h0M423.4 235.1h0M423.6 236.4h0M423.5 238.1h0M423.6 241.5h0M423.6 192.0h0M424.1 196.5h0M423.2 199.7h0M423.4 207.9h0M423.2 211.1h0M423.7 214.5h0M424.2 216.6h0M424.3 217.4h0M423.3 223.5h0M423.6 224.0h0M423.3 230.6h0M424.4 234.5h0M423.3 238.8h0M423.7 240.7h0M423.6 242.3h0M426.3 177.4h0M425.4 180.6h0M426.3 181.7h0M426.2 195.8h0M425.3 201.5h0M426.3 215.4h0M426.5 216.0h0M426.5 218.6h0M426.6 221.6h0M426.4 226.7h0M426.3 229.0h0M425.1 232.5h0M426.5 233.3h0M426.3 239.0h0M425.5 242.5h0M426.4 179.1h0M426.2 200.1h0M426.6 204.2h0M426.5 206.9h0M426.5 210.9h0M426.4 211.3h0M426.1 213.0h0M426.6 213.9h0M426.6 214.4h0M426.2 215.4h0M426.4 218.5h0M426.5 219.6h0M426.2 220.9h0M426.5 222.6h0M426.4 223.5h0M426.6 224.7h0M426.4 226.1h0M426.6 227.2h0M426.3 229.9h0M426.6 230.3h0M426.5 232.0h0M426.5 232.7h0M426.6 234.1h0M426.3 235.1h0M426.4 235.4h0M426.4 236.7h0M426.3 237.9h0M426.2 238.8h0M426.2 240.0h0M426.5 241.0h0M426.4 241.5h0M426.6 183.4h0M426.2 184.0h0M426.4 190.8h0M427.4 195.4h0M426.2 199.7h0M426.5 201.0h0M427.2 202.6h0M427.3 205.2h0M427.1 206.3h0M427.1 207.4h0M427.4 210.1h0M427.4 211.7h0M426.4 214.7h0M427.3 215.8h0M426.3 216.0h0M426.5 218.0h0M426.5 219.4h0M427.2 220.7h0M426.6 221.4h0M426.2 222.9h0M427.5 223.8h0M427.1 224.4h0M426.2 226.1h0M426.4 228.5h0M426.5 229.5h0M426.3 230.8h0M427.5 231.4h0M426.2 232.9h0M426.4 233.4h0M426.5 234.3h0M427.2 235.0h0M426.5 236.6h0M426.4 238.8h0M426.3 239.1h0M426.5 240.5h0M427.3 241.1h0M428.5 179.5h0M428.6 185.6h0M428.5 185.9h0M428.7 187.5h0M428.4 189.0h0M428.3 194.6h0M428.9 195.6h0M428.9 203.4h0M428.5 203.9h0M429.0 205.4h0M428.9 206.9h0M428.8 209.2h0M428.5 210.4h0M428.6 211.3h0M428.8 212.3h0M428.2 214.9h0M428.5 216.8h0M428.8 219.5h0M428.5 220.2h0M428.7 222.5h0M428.9 223.5h0M428.9 224.1h0M428.7 224.9h0M429.0 226.1h0M428.5 227.6h0M428.5 228.5h0M428.4 229.6h0M428.5 231.0h0M428.9 232.2h0M428.8 233.1h0M428.5 234.6h0M428.1 235.4h0M428.2 236.6h0M428.6 237.0h0M428.9 238.5h0M428.6 238.8h0M428.4 239.8h0M429.0 172.1h0M429.4 174.1h0M428.5 178.7h0M428.8 181.9h0M428.5 186.3h0M428.7 188.8h0M428.9 191.0h0M429.4 197.5h0M429.0 201.5h0M428.9 202.5h0M428.6 203.6h0M428.8 204.7h0M429.0 205.8h0M428.9 208.8h0M428.6 210.3h0M428.7 211.1h0M428.8 212.2h0M428.8 213.5h0M428.7 215.5h0M428.6 216.4h0M428.7 219.6h0M428.6 221.0h0M428.9 222.5h0M429.3 223.8h0M428.5 224.8h0M428.6 226.2h0M428.8 227.2h0M429.1 228.2h0M429.0 228.6h0M428.9 230.1h0M429.1 230.6h0M428.7 232.0h0M428.9 232.5h0M428.9 234.0h0M428.8 235.3h0M428.8 236.2h0M429.0 236.9h0M428.7 237.7h0M428.6 238.6h0M429.3 240.2h0M430.3 166.9h0M430.1 173.1h0M430.7 176.0h0M430.1 178.9h0M430.9 183.6h0M430.5 188.3h0M430.6 188.6h0M430.8 190.8h0M430.5 193.0h0M430.9 194.5h0M430.6 194.8h0M430.5 196.2h0M430.4 196.8h0M430.7 198.1h0M430.4 199.0h0M430.3 202.2h0M430.1 203.4h0M430.6 204.3h0M430.7 205.2h0M431.0 205.8h0M430.8 208.3h0M430.8 210.2h0M430.9 211.3h0M430.8 213.2h0M430.1 214.9h0M430.1 216.9h0M431.0 217.7h0M430.9 219.5h0M430.1 221.5h0M430.6 222.2h0M430.6 223.2h0M430.4 224.0h0M430.8 225.2h0M430.6 226.0h0M430.4 227.1h0M430.6 227.8h0M430.6 229.2h0M430.7 229.7h0M430.5 230.8h0M430.6 232.1h0M431.0 233.1h0M430.8 233.9h0M430.6 234.8h0M430.5 236.1h0M430.8 237.5h0M430.9 238.5h0M430.9 239.0h0M430.8 149.7h0M431.0 150.8h0M431.2 159.7h0M431.2 160.6h0M430.9 166.3h0M430.8 170.9h0M431.5 195.2h0M430.8 208.3h0M430.7 210.3h0M430.6 214.9h0M431.0 217.6h0M430.7 220.9h0M430.7 221.7h0M430.8 223.1h0M431.1 224.4h0M430.6 226.7h0M430.6 228.2h0M432.3 152.9h0M433.1 163.8h0M432.1 166.6h0M432.4 169.8h0M433.2 176.0h0M432.3 177.4h0M432.2 180.0h0M432.9 181.5h0M432.1 186.7h0M433.0 195.5h0M432.2 201.2h0M433.0 202.8h0M433.0 204.5h0M433.1 209.6h0M432.9 218.1h0M433.2 221.8h0M432.9 222.4h0M432.3 224.4h0M433.1 228.2h0M433.0 230.8h0M433.2 231.3h0M432.9 143.1h0M432.8 161.8h0M432.9 163.5h0M433.2 167.9h0M433.4 168.1h0M433.0 171.7h0M433.3 176.5h0M433.2 185.0h0M432.9 186.3h0M433.2 187.9h0M433.0 188.8h0M432.9 189.6h0M433.0 190.1h0M433.1 191.3h0M432.9 202.9h0M433.2 203.6h0M433.1 206.5h0M433.2 210.4h0M433.0 214.7h0M432.8 215.1h0M433.4 220.3h0M433.5 229.9h0M433.1 230.8h0M433.2 233.0h0M433.1 145.5h0M433.0 154.1h0M432.9 172.9h0M433.2 175.5h0M433.1 182.7h0M433.1 190.5h0M433.1 207.0h0M433.2 211.6h0M432.8 212.8h0M432.9 213.9h0M434.1 215.0h0M434.2 218.4h0M434.2 219.3h0M432.8 220.2h0M433.2 223.7h0M434.3 225.7h0M434.3 227.2h0M432.9 228.9h0M433.0 232.7h0M435.4 139.5h0M436.0 155.3h0M436.0 161.2h0M436.1 172.4h0M435.8 174.7h0M435.7 187.4h0M436.2 188.6h0M436.0 190.0h0M435.3 195.8h0M436.0 196.6h0M436.1 199.6h0M435.3 202.1h0M436.2 203.3h0M435.8 211.9h0M435.9 214.3h0M435.3 220.2h0M435.2 224.7h0M436.1 225.6h0M436.0 227.4h0M435.9 228.1h0M436.2 232.3h0M436.2 234.5h0M436.3 149.1h0M436.2 161.7h0M435.9 163.6h0M435.7 166.3h0M435.8 174.3h0M435.8 176.1h0M436.4 191.0h0M436.1 203.4h0M436.5 218.2h0M436.4 219.6h0M435.8 227.9h0M435.7 228.2h0M435.8 230.4h0M435.8 233.1h0M436.1 180.7h0M435.8 181.5h0M435.8 187.9h0M436.0 193.8h0M435.8 201.4h0M436.1 213.6h0M435.9 215.2h0M435.8 222.0h0M435.9 225.5h0M436.1 231.7h0M435.9 232.6h0M436.2 237.2h0M438.4 196.9h0M439.3 198.9h0M439.1 204.7h0M438.3 211.6h0M439.1 212.9h0M438.2 220.1h0M438.8 225.1h0M438.2 236.2h0M438.8 238.6h0M439.3 239.3h0M439.2 195.7h0M439.4 196.8h0M439.5 216.6h0M439.3 222.8h0M439.2 231.3h0M439.2 233.6h0M439.3 235.5h0M438.9 236.6h0M328.8 129.2h0M328.7 130.3h0M328.5 131.0h0M328.2 136.4h0M328.4 139.2h0M329.8 133.0h0M329.6 134.1h0M329.8 139.2h0M330.5 126.1h0M330.8 127.3h0M331.1 125.1h0M331.6 126.2h0M331.7 129.4h0M331.8 130.2h0M331.8 132.1h0M331.5 133.9h0M331.2 139.2h0M332.6 127.5h0M332.6 128.1h0M332.5 134.2h0M332.6 136.5h0M333.6 125.9h0M333.8 129.1h0M333.4 134.3h0M333.2 136.2h0M333.4 139.1h0M334.4 131.6h0M335.3 125.3h0M335.2 127.6h0M335.4 128.5h0M335.9 131.2h0M335.4 138.5h0M336.6 125.2h0M336.5 126.5h0M336.5 133.4h0M336.3 134.0h0M336.4 135.5h0M337.5 129.4h0M337.3 130.5h0M337.1 132.8h0M337.7 134.3h0M338.6 127.3h0M338.2 127.8h0M338.3 135.0h0M338.7 136.3h0M338.4 138.9h0M339.9 125.1h0M339.8 128.5h0M339.6 129.5h0M339.6 130.4h0M339.3 131.0h0M339.2 132.9h0M339.3 137.9h0M340.6 126.5h0M340.5 128.2h0M340.4 133.0h0M341.3 126.3h0M341.6 130.8h0M341.6 137.5h0M342.7 128.1h0M342.3 134.8h0M343.8 133.4h0M344.3 126.5h0M344.5 127.0h0M344.2 128.1h0M344.7 129.8h0M345.7 125.6h0M345.2 129.0h0M345.3 133.1h0M346.6 127.3h0M346.9 133.3h0M346.6 135.4h0M347.2 129.1h0M347.7 130.0h0M363.8 125.2h0M363.9 131.4h0M363.8 134.2h0M364.7 126.1h0M365.4 126.8h0M364.8 136.5h0M366.2 132.4h0M366.3 136.4h0M366.3 137.2h0M366.7 126.4h0M366.8 127.2h0M366.9 129.0h0M366.8 130.9h0M367.4 139.5h0M368.1 126.5h0M367.7 128.1h0M368.3 133.4h0M367.8 137.3h0M367.7 139.2h0M368.7 127.9h0M369.7 131.2h0M369.8 132.0h0M369.6 134.4h0M369.8 138.3h0M371.0 136.1h0M371.9 125.2h0M371.7 130.9h0M373.3 132.9h0M374.2 126.2h0M373.8 127.1h0M374.4 132.5h0M373.8 133.9h0M374.2 136.9h0M373.9 138.1h0M374.2 139.0h0M374.8 129.9h0M374.7 131.3h0M374.9 131.9h0M376.2 124.9h0M375.9 127.3h0M375.8 127.8h0M376.2 129.2h0M376.2 130.0h0M376.8 125.3h0M377.4 131.9h0M377.1 135.0h0M377.8 127.3h0M377.7 132.3h0M377.9 133.4h0M377.8 135.3h0M378.3 136.2h0M378.0 136.9h0M378.2 138.2h0M379.0 125.1h0M378.7 129.6h0M378.8 136.4h0M378.6 137.9h0M349.2 127.7h0M351.1 130.1h0M350.7 134.7h0M353.7 129.0h0M361.7 130.4h0M362.3 131.3h0M379.7 131.6h0M381.3 132.9h0M380.8 141.1h0M383.3 138.4h0M384.0 140.1h0M385.1 131.1h0M384.7 138.9h0M118.7 145.8h0M118.7 151.0h0M118.7 157.5h0M118.7 161.0h0M118.7 167.1h0M121.4 167.1h0M116.3 173.3h0M118.7 177.1h0M129.2 164.5h0M129.2 173.3h0M129.2 179.8h0M129.2 183.8h0M132.4 185.2h0M131.9 189.4h0M128.0 190.8h0M104.9 196.0h0M146.9 186.8h0M149.0 191.3h0M146.9 199.2h0M146.4 203.4h0M156.0 182.4h0M158.7 185.0h0M158.7 187.6h0M157.4 194.6h0M156.0 199.2h0M160.0 199.2h0M168.0 199.5h0M164.8 204.4h0M135.6 204.0h0M127.1 205.7h0M206.0 165.4h0M207.7 179.4h0M202.1 191.3h0M202.1 193.0h0M210.0 194.3h0M208.9 199.2h0M221.7 182.9h0M231.6 188.2h0M233.4 187.0h0M226.4 198.7h0M232.2 196.0h0M232.0 202.2h0M253.9 154.0h0M253.9 160.5h0M269.6 151.0h0M269.6 163.3h0M286.5 141.0h0M286.5 154.0h0M290.0 155.4h0M282.4 158.9h0M279.0 163.3h0M283.7 164.4h0M320.0 153.0h0M433.8 127.0h0M400.3 131.5h0M398.0 143.4h0M398.0 150.0h0M410.5 151.6h0M420.4 151.6h0M414.3 165.6h0M420.4 165.6h0M426.2 165.3h0M433.6 132.0h0M433.6 137.0h0M433.6 142.0h0M104.4 312.8h0M108.5 312.8h0M109.7 313.1h0M111.3 313.4h0M112.1 313.0h0M114.9 312.8h0M117.5 313.1h0M118.6 312.8h0M120.0 313.3h0M121.3 313.1h0M122.7 313.4h0M125.2 313.4h0M126.4 313.0h0M127.7 313.1h0M129.3 313.3h0M134.3 313.5h0M135.7 312.7h0M136.9 313.4h0M139.3 313.3h0M140.7 313.0h0M142.0 313.1h0M143.2 312.7h0M145.0 313.4h0M146.0 313.3h0M147.5 313.1h0M148.9 313.1h0M150.0 312.9h0M152.8 313.4h0M154.9 313.2h0M156.7 313.5h0M157.8 313.4h0M159.2 312.7h0M160.3 313.3h0M161.6 313.3h0M164.2 313.1h0M165.9 313.0h0M166.9 312.9h0M168.5 312.8h0M169.7 313.2h0M173.7 313.4h0M174.6 313.4h0M176.3 313.4h0M179.9 313.4h0M181.4 313.2h0M183.8 313.2h0M186.6 313.2h0M189.1 313.4h0M193.1 313.3h0M195.2 313.2h0M198.3 313.2h0M199.6 313.5h0M200.8 312.7h0M201.8 312.9h0M206.0 312.8h0M208.8 312.7h0M213.6 313.0h0M216.1 313.1h0M217.8 313.0h0M219.1 313.0h0M220.2 312.9h0M221.5 313.1h0M222.6 312.9h0M224.3 312.8h0M226.4 313.0h0M229.4 313.4h0M230.7 313.0h0M232.0 312.7h0M235.9 312.9h0M238.2 313.4h0M241.2 313.0h0M242.2 313.0h0M244.9 313.2h0M246.2 313.0h0M247.4 312.7h0M250.2 312.7h0M252.6 313.0h0M253.8 313.1h0M255.3 312.7h0M256.6 312.8h0M258.9 312.9h0M260.7 312.9h0M265.8 313.1h0M267.1 312.9h0M269.7 312.9h0M270.8 312.9h0M271.9 312.9h0M276.1 312.9h0M277.4 313.2h0M278.7 312.9h0M281.1 313.2h0M282.6 313.3h0M285.2 313.1h0M289.2 313.5h0M290.6 312.9h0M291.8 313.2h0M292.8 313.3h0M296.8 312.7h0M299.5 313.5h0M300.8 312.8h0M301.9 312.8h0M303.2 313.4h0M306.0 313.0h0M308.3 313.3h0M310.0 312.8h0M311.0 312.9h0M312.2 313.1h0M314.1 313.0h0M316.7 312.8h0M317.9 313.4h0M320.3 313.0h0M321.5 312.7h0M322.9 313.3h0M324.2 312.8h0M325.3 312.8h0M326.6 313.1h0M330.6 313.3h0M333.4 312.9h0M334.5 313.0h0M336.0 312.9h0M337.4 313.4h0M341.1 313.4h0M346.4 312.8h0M347.7 313.1h0M348.6 313.0h0M350.3 313.1h0M352.9 313.4h0M355.2 313.4h0M359.3 313.3h0M362.0 313.1h0M363.0 313.4h0M364.4 313.3h0M368.5 312.8h0M369.8 312.9h0M371.1 313.5h0M373.8 313.1h0M374.7 313.3h0M378.5 312.7h0M380.0 313.4h0M382.8 313.2h0M384.1 313.1h0M388.0 313.0h0M392.0 312.9h0M392.9 313.3h0M395.7 313.4h0M397.1 313.1h0M398.1 312.7h0M400.8 313.4h0M402.2 312.7h0M403.5 313.2h0M406.0 312.7h0M407.6 313.2h0M408.5 313.1h0M410.2 313.5h0M412.7 313.4h0M418.1 312.8h0M418.9 313.2h0M420.2 312.7h0M421.9 313.2h0M423.2 312.7h0M424.5 313.2h0M425.5 313.0h0M426.9 313.3h0M428.3 312.9h0M431.8 312.7h0M433.1 313.0h0M438.6 313.5h0M104.7 258.8h0M104.2 264.8h0M104.5 269.3h0M104.5 272.3h0M104.7 273.8h0M104.5 275.3h0M104.3 276.8h0M104.4 278.3h0M104.5 279.8h0M104.2 281.3h0M104.5 282.8h0M104.3 284.3h0M104.1 287.3h0M104.6 288.8h0M104.3 290.3h0M104.4 291.8h0M104.7 293.3h0M104.1 294.8h0M104.7 296.3h0M104.1 299.3h0M104.2 300.8h0M104.6 302.3h0M104.2 303.8h0M104.2 308.3h0M104.6 309.8h0M104.3 311.3h0M439.1 239.5h0M439.0 245.5h0M439.2 250.0h0M439.2 251.5h0M439.6 253.0h0M439.5 254.5h0M439.5 256.0h0M439.4 257.5h0M439.1 259.0h0M439.5 260.5h0M439.3 263.5h0M439.6 265.0h0M439.0 266.5h0M439.6 268.0h0M439.2 274.0h0M439.1 275.5h0M439.4 277.0h0M439.2 278.5h0M439.3 280.0h0M439.5 283.0h0M439.5 284.5h0M439.5 286.0h0M439.1 287.5h0M439.3 290.5h0M439.7 295.0h0M439.2 298.0h0M439.1 301.0h0M439.1 302.5h0M439.5 304.0h0M439.7 311.5h0M439.3 313.0h0" stroke="#b3b3b3" stroke-width="2.8" stroke-linecap="round" fill="none"/>
<path d="M110.1 284.4 L114.7 283.2 L118.8 282.4 L122.9 278.5 L125.9 281.1 L129.0 282.6 L132.6 281.0 L134.6 282.4 L137.7 289.3 L140.8 288.0 L143.8 286.5 L146.4 281.3 L148.9 280.3 L153.5 276.2 L157.1 277.8 L159.1 280.8 L162.2 283.4 L166.8 281.9 L170.4 285.9 L174.1 287.5 L178.2 288.5 L182.3 287.3 L187.4 290.0 L190.9 289.3 L194.0 279.1 L196.0 281.9 L199.6 284.2 L202.7 282.9 L206.8 281.5 L209.3 282.6 L212.4 285.9 L214.9 286.7 L219.0 289.0 L225.2 291.4 L229.2 288.7 L233.3 289.3 L235.5 288.6 L237.6 287.5 L239.6 282.6 L242.7 277.5 L246.2 275.2 L247.8 275.2 L251.3 271.3 L255.4 267.1 L259.0 264.2 L261.6 263.0 L263.1 265.2 L266.7 270.1 L271.3 268.5 L275.9 272.6 L278.9 269.3 L281.5 267.8 L285.0 270.1 L287.6 268.1 L291.7 270.3 L295.8 267.8 L300.4 273.4 L304.4 276.9 L308.3 281.7 L310.9 275.8 L313.5 271.4 L316.3 261.6 L319.6 251.8 L322.9 244.2 L325.1 235.5 L327.2 228.0 L329.4 222.8 L331.4 219.0 L333.4 216.4 L335.9 218.5 L338.8 220.7 L341.4 217.0 L345.3 221.5 L347.9 227.3 L350.8 230.2 L353.7 236.0 L356.5 238.8 L358.1 242.7 L360.4 237.9 L362.3 234.6 L364.8 241.7 L367.7 236.9 L369.6 236.0 L372.9 238.8 L374.8 238.5 L377.7 232.1 L379.6 233.1 L382.5 242.7 L384.4 245.6 L387.3 255.2 L388.5 262.9 L389.8 269.0 L392.0 270.8 L396.4 273.0 L399.0 269.0 L400.8 266.6 L402.5 268.1 L404.7 268.6 L407.8 267.1 L410.4 269.4 L413.0 266.4 L416.5 268.1 L420.9 270.3 L423.5 272.5 L425.7 276.9 L427.9 272.5 L430.5 268.1 L434.5 267.3 L436.7 271.2 L438.9 275.0" stroke="#333" stroke-width="1.3" fill="none" stroke-linejoin="round"/>
<circle cx="331.2" cy="110.1" r="1.45" fill="#ab4bbb"/><circle cx="331.2" cy="116.7" r="1.45" fill="#ab4bbb"/><circle cx="332.8" cy="117.3" r="1.45" fill="#ab4bbb"/><circle cx="331.2" cy="120.3" r="1.45" fill="#ab4bbb"/><circle cx="332.8" cy="119.8" r="1.45" fill="#ab4bbb"/><circle cx="336.9" cy="118.1" r="1.45" fill="#ab4bbb"/><circle cx="336.3" cy="120.3" r="1.45" fill="#ab4bbb"/><circle cx="337.4" cy="121.9" r="1.45" fill="#ab4bbb"/><circle cx="339.9" cy="121.1" r="1.45" fill="#ab4bbb"/><circle cx="367.5" cy="113.2" r="1.45" fill="#ab4bbb"/><circle cx="366.5" cy="117.8" r="1.45" fill="#ab4bbb"/><circle cx="366.5" cy="121.9" r="1.45" fill="#ab4bbb"/><circle cx="365.5" cy="123.4" r="1.45" fill="#ab4bbb"/><circle cx="371.6" cy="123.2" r="1.45" fill="#ab4bbb"/><circle cx="374.1" cy="121.3" r="1.45" fill="#ab4bbb"/>
<text x="0.3" y="12.3" font-size="16.5" font-weight="bold">a</text>
<g stroke="#000" stroke-width="1.4" fill="none">
<path d="M90.7 26.7V313.9"/>
<path d="M63.6 27.4H90.7"/>
<path d="M63.6 84.6H90.7"/>
<path d="M63.6 141.8H90.7"/>
<path d="M63.6 198.9H90.7"/>
<path d="M63.6 256.1H90.7"/>
<path d="M63.6 313.3H90.7"/>
</g>
<g font-size="9.6" text-anchor="end" fill="#111">
<text x="60.7" y="29.2" textLength="12.9" lengthAdjust="spacingAndGlyphs">1.0</text>
<text x="60.7" y="86.4" textLength="12.9" lengthAdjust="spacingAndGlyphs">0.8</text>
<text x="60.7" y="143.6" textLength="12.9" lengthAdjust="spacingAndGlyphs">0.6</text>
<text x="60.7" y="200.7" textLength="12.9" lengthAdjust="spacingAndGlyphs">0.4</text>
<text x="60.7" y="257.9" textLength="12.9" lengthAdjust="spacingAndGlyphs">0.2</text>
<text x="60.7" y="315.1" textLength="12.9" lengthAdjust="spacingAndGlyphs">0.0</text>
</g>
<g font-size="10.3" fill="#111" text-anchor="middle">
<text transform="translate(19.8 182.1) rotate(-90)">Linkage disequilibrium (<tspan dx="0.8" font-style="italic">r</tspan><tspan dx="0.8" font-size="6.8" dy="-4.2">2</tspan><tspan dx="0.7" dy="4.2">)</tspan></text>
<text transform="translate(33.2 186) rotate(-90)">with <tspan font-style="italic">pgFAR</tspan></text>
</g>
<g stroke="#000" stroke-width="1.6" fill="none">
<path d="M103.3 324.7H425.2"/>
<path d="M104.1 324.7V352"/>
<path d="M168 324.7V352"/>
<path d="M232 324.7V352"/>
<path d="M296 324.7V352"/>
<path d="M360 324.7V352"/>
<path d="M424.4 324.7V352"/>
</g>
<g font-size="9.6" text-anchor="middle" fill="#111">
<text x="105.9" y="363.2" textLength="17.2" lengthAdjust="spacingAndGlyphs">18.0</text>
<text x="169.3" y="363.2" textLength="17.2" lengthAdjust="spacingAndGlyphs">18.2</text>
<text x="232.6" y="363.2" textLength="17.2" lengthAdjust="spacingAndGlyphs">18.4</text>
<text x="296.0" y="363.2" textLength="17.2" lengthAdjust="spacingAndGlyphs">18.6</text>
<text x="359.4" y="363.2" textLength="17.2" lengthAdjust="spacingAndGlyphs">18.8</text>
<text x="422.8" y="363.2" textLength="17.2" lengthAdjust="spacingAndGlyphs">19.0</text>
</g>
<text x="272" y="388" font-size="10.3" text-anchor="middle" fill="#111">Z chromosome (Mb)</text>
<g fill="#6b6c71">
<rect x="106.8" y="61" width="32.8" height="9.9"/>
<rect x="206.8" y="51" width="15.4" height="9.9"/>
<rect x="203.2" y="71" width="3.9" height="9.8"/>
<rect x="239" y="61" width="14.1" height="9.9"/>
<rect x="253.9" y="71" width="13.0" height="9.8"/>
<rect x="271" y="51" width="7.0" height="9.9"/>
<rect x="300.2" y="61.2" width="2.1" height="9.6"/>
<rect x="301.2" y="71.2" width="1.7" height="9.6"/>
<rect x="305" y="51" width="7.0" height="9.9"/>
<rect x="434.3" y="71.1" width="6.7" height="9.7"/>
</g>
<g fill="#15a84b">
<rect x="311.8" y="61" width="3.1" height="9.8"/>
<rect x="314.8" y="65.2" width="97.9" height="1.9"/>
<rect x="317.0" y="61" width="1.7" height="9.9"/>
<rect x="343.0" y="61" width="1.7" height="9.9"/>
<rect x="410.9" y="61" width="1.7" height="9.9"/>
</g>
<text x="358.5" y="51.8" font-size="10" font-style="italic" text-anchor="middle" fill="#111">bric à brac</text>
<g font-size="6" fill="#222">
<text x="318.8" y="64">Intron 1B</text>
<text x="364.8" y="64">Intron 1A</text>
<text x="309" y="76.9">Exon 2</text>
<text x="335.8" y="76.9">Exon 1.5</text>
<text x="403.8" y="76.9">Exon 1</text>
</g>
<path d="M112.6 124.4H441.6" stroke="#000" stroke-width="1.3" stroke-dasharray="4.4 4.37"/>
<text x="115.8" y="120.8" font-size="7.8" fill="#111" textLength="83.4" lengthAdjust="spacingAndGlyphs">99.99% of Z−linked SNPs</text>
<text x="473.6" y="12.8" font-size="16.5" font-weight="bold">b</text>
<path d="M540.8 143.3 L543.3 141.1 L545.7 138.8 L548.2 136.6 L550.6 134.3 L553.1 132.1 L555.5 129.8 L558.0 127.6 L560.5 125.3 L562.9 123.0 L565.4 120.7 L567.8 118.5 L570.3 116.2 L572.7 113.9 L575.2 111.6 L577.7 109.3 L580.1 107.0 L582.6 104.7 L585.0 102.4 L587.5 100.1 L590.0 97.8 L592.4 95.5 L594.9 93.1 L597.3 90.8 L599.8 88.5 L602.2 86.1 L604.7 83.8 L607.2 81.5 L609.6 79.1 L612.1 76.8 L614.5 74.4 L617.0 72.0 L619.4 69.7 L621.9 67.3 L624.4 64.9 L626.8 62.5 L629.3 60.2 L631.7 57.8 L634.2 55.4 L636.6 53.0 L639.1 50.6 L639.1 69.0 L636.6 71.2 L634.2 73.5 L631.7 75.7 L629.3 78.0 L626.8 80.2 L624.4 82.5 L621.9 84.7 L619.4 87.0 L617.0 89.3 L614.5 91.6 L612.1 93.8 L609.6 96.1 L607.2 98.4 L604.7 100.7 L602.2 103.0 L599.8 105.3 L597.3 107.6 L594.9 109.9 L592.4 112.2 L590.0 114.5 L587.5 116.8 L585.0 119.2 L582.6 121.5 L580.1 123.8 L577.7 126.2 L575.2 128.5 L572.7 130.8 L570.3 133.2 L567.8 135.5 L565.4 137.9 L562.9 140.3 L560.5 142.6 L558.0 145.0 L555.5 147.4 L553.1 149.8 L550.6 152.1 L548.2 154.5 L545.7 156.9 L543.3 159.3 L540.8 161.7Z" fill="#d7d7d7"/>
<path d="M540.8 152.5L639.1 59.8" stroke="#22364e" stroke-width="1.5"/>
<circle cx="641" cy="30" r="1.95" fill="#3262ae"/><circle cx="647.2" cy="30" r="1.95" fill="#3262ae"/><circle cx="634.4" cy="37.4" r="1.95" fill="#3262ae"/><circle cx="632.3" cy="38.3" r="1.95" fill="#3262ae"/><circle cx="629.7" cy="39.3" r="1.95" fill="#3262ae"/><circle cx="645.4" cy="38.8" r="1.95" fill="#3262ae"/><circle cx="630.3" cy="42" r="1.95" fill="#3262ae"/><circle cx="633.3" cy="42" r="1.95" fill="#3262ae"/><circle cx="645.6" cy="42" r="1.95" fill="#3262ae"/><circle cx="638" cy="43" r="1.95" fill="#3262ae"/><circle cx="629.7" cy="44.6" r="1.95" fill="#3262ae"/><circle cx="632.8" cy="45.1" r="1.95" fill="#3262ae"/><circle cx="640.5" cy="44.6" r="1.95" fill="#3262ae"/><circle cx="644.6" cy="45.1" r="1.95" fill="#3262ae"/><circle cx="631.8" cy="47.2" r="1.95" fill="#3262ae"/><circle cx="639" cy="47.2" r="1.95" fill="#3262ae"/><circle cx="642.6" cy="46.7" r="1.95" fill="#3262ae"/><circle cx="636.4" cy="50.3" r="1.95" fill="#3262ae"/><circle cx="640.5" cy="49.7" r="1.95" fill="#3262ae"/><circle cx="533.4" cy="100.7" r="1.95" fill="#3262ae"/><circle cx="582.8" cy="107.2" r="1.95" fill="#3262ae"/><circle cx="636.8" cy="88.1" r="1.95" fill="#3262ae"/><circle cx="643.6" cy="93.7" r="1.95" fill="#3262ae"/><circle cx="640.6" cy="107" r="1.95" fill="#3262ae"/><circle cx="630.9" cy="147.2" r="1.95" fill="#3262ae"/><circle cx="642.5" cy="145.4" r="1.95" fill="#3262ae"/><circle cx="646.7" cy="152.6" r="1.95" fill="#3262ae"/>
<circle cx="532.2" cy="153.1" r="1.95" fill="#3262ae"/>
<circle cx="648" cy="50.5" r="1.95" fill="#f3812f"/><circle cx="538.2" cy="97.7" r="1.95" fill="#f3812f"/><circle cx="586.6" cy="100.2" r="1.95" fill="#f3812f"/><circle cx="634.6" cy="105.3" r="1.95" fill="#f3812f"/><circle cx="579.8" cy="163.3" r="1.95" fill="#f3812f"/><circle cx="534.7" cy="146.6" r="1.95" fill="#f3812f"/><circle cx="537.1" cy="146.2" r="1.95" fill="#f3812f"/><circle cx="530.6" cy="149.4" r="1.95" fill="#f3812f"/><circle cx="530.2" cy="151.1" r="1.95" fill="#f3812f"/><circle cx="539.2" cy="149.4" r="1.95" fill="#f3812f"/><circle cx="537.5" cy="151.1" r="1.95" fill="#f3812f"/><circle cx="536.3" cy="153.1" r="1.95" fill="#f3812f"/><circle cx="546.6" cy="146.2" r="1.95" fill="#f3812f"/><circle cx="545.7" cy="148.6" r="1.95" fill="#f3812f"/><circle cx="538" cy="156" r="1.95" fill="#f3812f"/><circle cx="538" cy="158.9" r="1.95" fill="#f3812f"/><circle cx="549.8" cy="155.6" r="1.95" fill="#f3812f"/><circle cx="530.6" cy="160.9" r="1.95" fill="#f3812f"/><circle cx="533" cy="159.7" r="1.95" fill="#f3812f"/><circle cx="532.2" cy="162.6" r="1.95" fill="#f3812f"/><circle cx="534.7" cy="163.8" r="1.95" fill="#f3812f"/><circle cx="533.8" cy="165.4" r="1.95" fill="#f3812f"/><circle cx="544.1" cy="158.5" r="1.95" fill="#f3812f"/><circle cx="542.9" cy="160.5" r="1.95" fill="#f3812f"/><circle cx="541.6" cy="163.8" r="1.95" fill="#f3812f"/><circle cx="539.2" cy="166.3" r="1.95" fill="#f3812f"/><circle cx="548.6" cy="163" r="1.95" fill="#f3812f"/><circle cx="549.4" cy="167.9" r="1.95" fill="#f3812f"/>
<path d="M525.4 21.6V174.6M524.8 174.0H654.9" stroke="#000" stroke-width="1.3" fill="none"/>
<g font-size="7.3" fill="#111" text-anchor="end">
<text x="522.2" y="38.1">A/A</text><text x="522.2" y="45.8">E allele</text>
<text x="522.2" y="100.3">C/A</text>
<text x="522.2" y="154.8">C/C</text><text x="522.2" y="162.5">Z allele</text>
</g>
<g font-size="7.3" fill="#111" text-anchor="middle">
<text x="540.4" y="182.5">T/T</text><text x="589.6" y="182.5">C/T</text><text x="638.8" y="182.5">C/C</text>
</g>
<text x="588.8" y="193.6" font-size="8.65" fill="#111" text-anchor="middle">Z chr scaffoldbab_339604</text>
<text transform="translate(493.2 100) rotate(-90)" font-size="9.0" fill="#111" text-anchor="middle">pgFAR_470463</text>
<text x="670.6" y="96.4" font-size="7" fill="#111">Lure</text>
<circle cx="671.5" cy="101.8" r="1.95" fill="#3262ae"/>
<circle cx="671.5" cy="109.2" r="1.95" fill="#f3812f"/>
<text x="680.6" y="104.2" font-size="7" fill="#111">E</text><text x="680.6" y="111.7" font-size="7" fill="#111">Z</text>
<text x="474.4" y="202.8" font-size="16.5" font-weight="bold">c</text>
<path d="M540.9 292.5 L543.4 292.4 L545.8 292.2 L548.3 292.0 L550.7 291.7 L553.2 291.4 L555.6 291.1 L558.1 290.6 L560.5 290.1 L563.0 289.5 L565.5 288.8 L567.9 288.0 L570.4 287.0 L572.8 286.0 L575.3 284.8 L577.7 283.6 L580.2 282.2 L582.6 280.8 L585.1 279.3 L587.5 277.7 L590.0 276.0 L592.5 274.3 L594.9 272.6 L597.4 270.9 L599.8 269.1 L602.3 267.2 L604.7 265.4 L607.2 263.5 L609.6 261.7 L612.1 259.8 L614.5 257.9 L617.0 256.0 L619.5 254.1 L621.9 252.1 L624.4 250.2 L626.8 248.2 L629.3 246.3 L631.7 244.3 L634.2 242.4 L636.6 240.4 L639.1 238.4 L639.1 302.2 L636.6 302.1 L634.2 302.0 L631.7 302.0 L629.3 301.9 L626.8 301.9 L624.4 301.9 L621.9 301.8 L619.5 301.8 L617.0 301.8 L614.5 301.8 L612.1 301.8 L609.6 301.8 L607.2 301.9 L604.7 301.9 L602.3 302.0 L599.8 302.1 L597.4 302.2 L594.9 302.4 L592.5 302.5 L590.0 302.8 L587.5 303.0 L585.1 303.4 L582.6 303.8 L580.2 304.2 L577.7 304.8 L575.3 305.4 L572.8 306.2 L570.4 307.0 L567.9 308.0 L565.5 309.1 L563.0 310.3 L560.5 311.6 L558.1 313.0 L555.6 314.5 L553.2 316.0 L550.7 317.6 L548.3 319.3 L545.8 321.0 L543.4 322.7 L540.9 324.5Z" fill="#d7d7d7"/>
<path d="M540.9 308.5L639.1 270.3" stroke="#22364e" stroke-width="1.5"/>
<circle cx="531.9" cy="228" r="1.95" fill="#3262ae"/><circle cx="535.3" cy="222.6" r="1.95" fill="#3262ae"/><circle cx="537.3" cy="221.5" r="1.95" fill="#3262ae"/><circle cx="540.4" cy="224.6" r="1.95" fill="#3262ae"/><circle cx="543.7" cy="225.9" r="1.95" fill="#3262ae"/><circle cx="539.1" cy="231.8" r="1.95" fill="#3262ae"/><circle cx="542.4" cy="232.8" r="1.95" fill="#3262ae"/><circle cx="533.7" cy="238.7" r="1.95" fill="#3262ae"/><circle cx="540.4" cy="238" r="1.95" fill="#3262ae"/><circle cx="546.5" cy="236.9" r="1.95" fill="#3262ae"/><circle cx="586.1" cy="222.4" r="1.95" fill="#3262ae"/><circle cx="581.2" cy="229.3" r="1.95" fill="#3262ae"/><circle cx="591.2" cy="231.6" r="1.95" fill="#3262ae"/><circle cx="591.9" cy="236.5" r="1.95" fill="#3262ae"/><circle cx="593.5" cy="238.1" r="1.95" fill="#3262ae"/><circle cx="585.4" cy="242.3" r="1.95" fill="#3262ae"/><circle cx="635.8" cy="223.8" r="1.95" fill="#3262ae"/><circle cx="642" cy="223.8" r="1.95" fill="#3262ae"/><circle cx="644.8" cy="222.6" r="1.95" fill="#3262ae"/><circle cx="640.8" cy="227.3" r="1.95" fill="#3262ae"/><circle cx="643.1" cy="230.7" r="1.95" fill="#3262ae"/><circle cx="530.1" cy="277.7" r="1.95" fill="#3262ae"/><circle cx="591.4" cy="280.2" r="1.95" fill="#3262ae"/><circle cx="592.9" cy="294.6" r="1.95" fill="#3262ae"/><circle cx="594.8" cy="297.7" r="1.95" fill="#3262ae"/><circle cx="593.3" cy="343.1" r="1.95" fill="#3262ae"/><circle cx="647.7" cy="352.7" r="1.95" fill="#3262ae"/>
<circle cx="534.4" cy="353.3" r="1.95" fill="#3262ae"/><circle cx="539.6" cy="347.6" r="1.95" fill="#3262ae"/>
<circle cx="539.1" cy="240" r="1.95" fill="#f3812f"/><circle cx="536" cy="289.2" r="1.95" fill="#f3812f"/><circle cx="534.8" cy="292.3" r="1.95" fill="#f3812f"/><circle cx="530.9" cy="299" r="1.95" fill="#f3812f"/><circle cx="542.8" cy="336.7" r="1.95" fill="#f3812f"/><circle cx="537.6" cy="339.2" r="1.95" fill="#f3812f"/><circle cx="537.3" cy="340.5" r="1.95" fill="#f3812f"/><circle cx="535" cy="342.4" r="1.95" fill="#f3812f"/><circle cx="544.7" cy="343.7" r="1.95" fill="#f3812f"/><circle cx="536.7" cy="346.7" r="1.95" fill="#f3812f"/><circle cx="539.9" cy="345.8" r="1.95" fill="#f3812f"/><circle cx="543.7" cy="348" r="1.95" fill="#f3812f"/><circle cx="548.8" cy="347.3" r="1.95" fill="#f3812f"/><circle cx="539.9" cy="350.5" r="1.95" fill="#f3812f"/><circle cx="541.2" cy="353.7" r="1.95" fill="#f3812f"/><circle cx="538.6" cy="355.6" r="1.95" fill="#f3812f"/><circle cx="550.1" cy="355.3" r="1.95" fill="#f3812f"/><circle cx="547.6" cy="359.2" r="1.95" fill="#f3812f"/><circle cx="530.3" cy="356.9" r="1.95" fill="#f3812f"/><circle cx="532.8" cy="357.2" r="1.95" fill="#f3812f"/><circle cx="539.2" cy="352.8" r="1.95" fill="#f3812f"/><circle cx="580.2" cy="337.4" r="1.95" fill="#f3812f"/><circle cx="585.6" cy="338.3" r="1.95" fill="#f3812f"/><circle cx="585.6" cy="341.9" r="1.95" fill="#f3812f"/><circle cx="591" cy="345.1" r="1.95" fill="#f3812f"/><circle cx="647.5" cy="336.5" r="1.95" fill="#f3812f"/><circle cx="646.6" cy="340.1" r="1.95" fill="#f3812f"/><circle cx="537.2" cy="354.4" r="1.95" fill="#f3812f"/>
<path d="M525.4 213.4V366.4M524.8 365.8H654.8" stroke="#000" stroke-width="1.3" fill="none"/>
<g font-size="7.3" fill="#111" text-anchor="end">
<text x="522.2" y="229.7">T/T</text><text x="522.2" y="237.7">E allele</text>
<text x="522" y="291.4">C/T</text>
<text x="522.2" y="346.3">C/C</text><text x="522.2" y="354.3">Z allele</text>
</g>
<g font-size="7.3" fill="#111" text-anchor="middle">
<text x="540.7" y="374.6">A/A</text><text x="589.7" y="374.6">A/G</text><text x="638.7" y="374.6">G/G</text>
</g>
<text x="588.8" y="384.8" font-size="8.65" fill="#111" text-anchor="middle">Z chr scaffold325_403460</text>
<text transform="translate(493.2 291.4) rotate(-90)" font-size="9.0" fill="#111" text-anchor="middle">pgFAR_474648</text>
<text x="670.6" y="287.6" font-size="7" fill="#111">Lure</text>
<circle cx="671.5" cy="293.6" r="1.95" fill="#3262ae"/>
<circle cx="671.5" cy="300.8" r="1.95" fill="#f3812f"/>
<text x="680.6" y="295.8" font-size="7" fill="#111">E</text><text x="680.6" y="303.4" font-size="7" fill="#111">Z</text>
</svg>
</body></html>
